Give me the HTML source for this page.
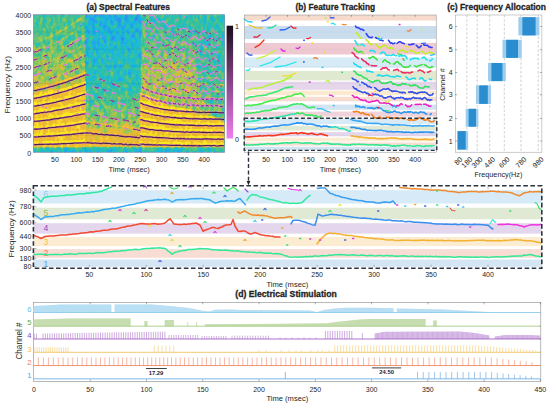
<!DOCTYPE html>
<html><head><meta charset="utf-8"><style>html,body{margin:0;padding:0;background:#fff;width:550px;height:407px;overflow:hidden}svg{display:block;font-family:"Liberation Sans",sans-serif}</style></head><body>
<svg width="550" height="407" viewBox="0 0 550 407" font-family="Liberation Sans, sans-serif">
<defs>
<filter id="spec" filterUnits="userSpaceOnUse" x="33.5" y="14.8" width="191.0" height="137.39999999999998" color-interpolation-filters="sRGB">
<feGaussianBlur in="SourceGraphic" stdDeviation="0.6" result="sg"/>
<feTurbulence type="fractalNoise" baseFrequency="0.28 0.17" numOctaves="3" seed="5" result="n"/>
<feColorMatrix in="n" type="matrix" values="1 0 0 0 0  1 0 0 0 0  1 0 0 0 0  0 0 0 0 1" result="ng"/>
<feComposite in="sg" in2="ng" operator="arithmetic" k1="0" k2="1" k3="0.42" k4="-0.21" result="sum"/>
<feComponentTransfer in="sum"><feFuncR type="table" tableValues="0.208 0.192 0.175 0.159 0.142 0.126 0.110 0.125 0.140 0.155 0.170 0.185 0.200 0.175 0.151 0.126 0.118 0.114 0.110 0.135 0.160 0.192 0.248 0.304 0.361 0.439 0.518 0.596 0.679 0.764 0.840 0.883 0.925 0.933 0.940 0.948 0.953 0.958 0.963 0.968 0.973"/><feFuncG type="table" tableValues="0.165 0.199 0.233 0.267 0.301 0.335 0.369 0.396 0.424 0.451 0.478 0.506 0.533 0.573 0.612 0.651 0.681 0.709 0.737 0.743 0.748 0.754 0.759 0.764 0.769 0.774 0.778 0.783 0.777 0.768 0.757 0.739 0.722 0.724 0.726 0.729 0.769 0.818 0.860 0.893 0.925"/><feFuncB type="table" tableValues="0.529 0.582 0.635 0.688 0.741 0.794 0.847 0.863 0.878 0.894 0.910 0.925 0.941 0.936 0.931 0.926 0.899 0.865 0.831 0.770 0.708 0.648 0.594 0.540 0.486 0.432 0.378 0.325 0.290 0.259 0.232 0.218 0.204 0.199 0.194 0.189 0.180 0.171 0.156 0.133 0.110"/></feComponentTransfer>
</filter>
<linearGradient id="gA" gradientUnits="userSpaceOnUse" x1="0" y1="14.8" x2="0" y2="152.2"><stop offset="0.001" stop-color="#8c8c8c"/><stop offset="0.183" stop-color="#949494"/><stop offset="0.293" stop-color="#a1a1a1"/><stop offset="0.402" stop-color="#ababab"/><stop offset="0.511" stop-color="#b2b2b2"/><stop offset="0.955" stop-color="#b8b8b8"/><stop offset="0.968" stop-color="#858585"/><stop offset="1.000" stop-color="#737373"/></linearGradient>
<linearGradient id="gB" gradientUnits="userSpaceOnUse" x1="0" y1="14.8" x2="0" y2="152.2"><stop offset="0.001" stop-color="#696969"/><stop offset="0.220" stop-color="#737373"/><stop offset="0.402" stop-color="#7d7d7d"/><stop offset="0.547" stop-color="#878787"/><stop offset="0.620" stop-color="#919191"/><stop offset="0.693" stop-color="#9c9c9c"/><stop offset="0.766" stop-color="#a8a8a8"/><stop offset="0.838" stop-color="#bdbdbd"/><stop offset="0.897" stop-color="#d1d1d1"/><stop offset="0.955" stop-color="#d6d6d6"/><stop offset="0.968" stop-color="#858585"/><stop offset="1.000" stop-color="#737373"/></linearGradient>
<linearGradient id="gC" gradientUnits="userSpaceOnUse" x1="0" y1="14.8" x2="0" y2="152.2"><stop offset="0.001" stop-color="#8a8a8a"/><stop offset="0.183" stop-color="#949494"/><stop offset="0.329" stop-color="#a1a1a1"/><stop offset="0.475" stop-color="#a8a8a8"/><stop offset="0.620" stop-color="#adadad"/><stop offset="0.955" stop-color="#b2b2b2"/><stop offset="0.968" stop-color="#858585"/><stop offset="1.000" stop-color="#737373"/></linearGradient>
<linearGradient id="cbar" x1="0" y1="0" x2="0" y2="1"><stop offset="0" stop-color="#1a0c1c"/><stop offset="1" stop-color="#f07ef0"/></linearGradient>
<clipPath id="clipYC"><polygon points="137.3,92 150,96 165,102 185,108 205,114 224.5,120 224.5,150 137.3,150"/></clipPath>
<clipPath id="clipA"><rect x="33.5" y="14.8" width="191.0" height="137.39999999999998"/></clipPath>
</defs>
<rect width="550" height="407" fill="#fff"/>
<g filter="url(#spec)">
<rect x="33.5" y="14.8" width="52.2" height="137.4" fill="url(#gA)"/>
<rect x="85.7" y="14.8" width="54.6" height="137.4" fill="url(#gB)"/>
<rect x="140.3" y="14.8" width="84.2" height="137.4" fill="url(#gC)"/>
<polygon points="33.5,93 45,91 60,88.5 75,85 85.7,81 85.7,147.2 33.5,147.2" fill="#dfdfdf"/>
<polygon points="140.3,94 150,98 165,104 185,110 205,116 224.5,122 224.5,147.2 140.3,147.2" fill="#dfdfdf"/>
<ellipse cx="168" cy="80" rx="26" ry="18" fill="#b8b8b8" opacity="0.6"/>
<polygon points="198,14.8 224.5,14.8 224.5,122 214,117 206,106 200,92 195,60" fill="#808080" opacity="0.7"/>
<polygon points="150,14.8 200,14.8 192,38 160,32" fill="#808080" opacity="0.5"/>
<polyline fill="none" stroke="#b2b2b2" stroke-width="1.8" stroke-linejoin="round" stroke-linecap="round" points="33.7,81.85 34.98,81.57 36.26,81.28 37.53,80.98 38.81,80.67 40.09,80.35 41.37,80.03 42.65,79.69 43.92,79.35 45.2,79 46.48,78.65 47.76,78.28 49.04,77.9 50.31,77.52 51.59,77.13 52.87,76.73 54.15,76.32 55.43,75.9 56.7,75.48 57.98,75.05 59.26,74.6 60.54,74.15 61.82,73.7 63.09,73.23 64.37,72.75 65.65,72.27 66.93,71.78 68.21,71.28 69.48,70.77 70.76,70.25 72.04,69.73 73.32,69.2 74.6,68.65 75.87,68.1 77.15,67.54 78.43,66.98 79.71,66.4 80.99,65.82 82.26,65.23 83.54,64.63 84.82,64.02" opacity="0.7"/>
<polyline fill="none" stroke="#b2b2b2" stroke-width="1.8" stroke-linejoin="round" stroke-linecap="round" points="33.7,74.14 34.98,73.83 36.26,73.51 37.53,73.17 38.81,72.83 40.09,72.48 41.37,72.12 42.65,71.75 43.92,71.37 45.2,70.98 46.48,70.58 47.76,70.18 49.04,69.76 50.31,69.33 51.59,68.9 52.87,68.46 54.15,68 55.43,67.54 56.7,67.07 57.98,66.59 59.26,66.09 60.54,65.59 61.82,65.09 63.09,64.57 64.37,64.04 65.65,63.5 66.93,62.96 68.21,62.4 69.48,61.83 70.76,61.26 72.04,60.68 73.32,60.08 74.6,59.48 75.87,58.87 77.15,58.25 78.43,57.62 79.71,56.98 80.99,56.33 82.26,55.67 83.54,55.01 84.82,54.33" opacity="0.7"/>
<polyline fill="none" stroke="#b2b2b2" stroke-width="1.8" stroke-linejoin="round" stroke-linecap="round" points="33.7,66.44 34.98,66.09 36.26,65.74 37.53,65.37 38.81,64.99 40.09,64.61 41.37,64.21 42.65,63.8 43.92,63.39 45.2,62.96 46.48,62.52 47.76,62.07 49.04,61.62 50.31,61.15 51.59,60.67 52.87,60.18 54.15,59.68 55.43,59.17 56.7,58.65 57.98,58.12 59.26,57.58 60.54,57.03 61.82,56.47 63.09,55.9 64.37,55.32 65.65,54.73 66.93,54.13 68.21,53.52 69.48,52.9 70.76,52.27 72.04,51.62 73.32,50.97 74.6,50.31 75.87,49.64 77.15,48.95 78.43,48.26 79.71,47.56 80.99,46.84 82.26,46.12 83.54,45.39 84.82,44.64" opacity="0.7"/>
<polyline fill="none" stroke="#b2b2b2" stroke-width="1.8" stroke-linejoin="round" stroke-linecap="round" points="33.7,58.73 34.98,58.36 36.26,57.97 37.53,57.57 38.81,57.16 40.09,56.74 41.37,56.3 42.65,55.86 43.92,55.4 45.2,54.94 46.48,54.46 47.76,53.97 49.04,53.47 50.31,52.96 51.59,52.44 52.87,51.91 54.15,51.36 55.43,50.81 56.7,50.24 57.98,49.66 59.26,49.07 60.54,48.47 61.82,47.86 63.09,47.24 64.37,46.61 65.65,45.96 66.93,45.31 68.21,44.64 69.48,43.96 70.76,43.27 72.04,42.57 73.32,41.86 74.6,41.14 75.87,40.4 77.15,39.66 78.43,38.9 79.71,38.14 80.99,37.36 82.26,36.57 83.54,35.77 84.82,34.96" opacity="0.7"/>
<polyline fill="none" stroke="#b2b2b2" stroke-width="1.8" stroke-linejoin="round" stroke-linecap="round" points="33.7,51.03 34.98,50.62 36.26,50.2 37.53,49.77 38.81,49.32 40.09,48.86 41.37,48.39 42.65,47.91 43.92,47.42 45.2,46.92 46.48,46.4 47.76,45.87 49.04,45.33 50.31,44.77 51.59,44.21 52.87,43.63 54.15,43.04 55.43,42.44 56.7,41.83 57.98,41.2 59.26,40.56 60.54,39.91 61.82,39.25 63.09,38.58 64.37,37.89 65.65,37.19 66.93,36.48 68.21,35.76 69.48,35.02 70.76,34.28 72.04,33.52 73.32,32.75 74.6,31.97 75.87,31.17 77.15,30.36 78.43,29.54 79.71,28.71 80.99,27.87 82.26,27.02 83.54,26.15 84.82,25.27" opacity="0.7"/>
<polyline fill="none" stroke="#b2b2b2" stroke-width="1.8" stroke-linejoin="round" stroke-linecap="round" points="33.7,43.32 34.98,42.88 36.26,42.43 37.53,41.96 38.81,41.48 40.09,40.99 41.37,40.49 42.65,39.97 43.92,39.44 45.2,38.89 46.48,38.34 47.76,37.77 49.04,37.18 50.31,36.59 51.59,35.98 52.87,35.36 54.15,34.72 55.43,34.07 56.7,33.41 57.98,32.74 59.26,32.05 60.54,31.35 61.82,30.64 63.09,29.91 64.37,29.17 65.65,28.42 66.93,27.66 68.21,26.88 69.48,26.09 70.76,25.28 72.04,24.47 73.32,23.64 74.6,22.79 75.87,21.94 77.15,21.07 78.43,20.19 79.71,19.29 80.99,18.38 82.26,17.46 83.54,16.53 84.82,15.58" opacity="0.7"/>
<polyline fill="none" stroke="#ffffff" stroke-width="2.3" stroke-linejoin="round" stroke-linecap="round" points="33.7,142.69 34.98,142.66 36.26,142.63 37.53,142.6 38.81,142.56 40.09,142.53 41.37,142.49 42.65,142.45 43.92,142.42 45.2,142.38 46.48,142.34 47.76,142.3 49.04,142.26 50.31,142.21 51.59,142.17 52.87,142.13 54.15,142.08 55.43,142.03 56.7,141.99 57.98,141.94 59.26,141.89 60.54,141.84 61.82,141.79 63.09,141.74 64.37,141.68 65.65,141.63 66.93,141.58 68.21,141.52 69.48,141.46 70.76,141.41 72.04,141.35 73.32,141.29 74.6,141.23 75.87,141.17 77.15,141.1 78.43,141.04 79.71,140.98 80.99,140.91 82.26,140.85 83.54,140.78 84.82,140.71" />
<polyline fill="none" stroke="#ffffff" stroke-width="2.3" stroke-linejoin="round" stroke-linecap="round" points="33.7,134.99 34.98,134.93 36.26,134.86 37.53,134.79 38.81,134.73 40.09,134.66 41.37,134.58 42.65,134.51 43.92,134.43 45.2,134.36 46.48,134.28 47.76,134.2 49.04,134.11 50.31,134.03 51.59,133.94 52.87,133.85 54.15,133.76 55.43,133.67 56.7,133.57 57.98,133.48 59.26,133.38 60.54,133.28 61.82,133.18 63.09,133.07 64.37,132.97 65.65,132.86 66.93,132.75 68.21,132.64 69.48,132.53 70.76,132.41 72.04,132.3 73.32,132.18 74.6,132.06 75.87,131.93 77.15,131.81 78.43,131.68 79.71,131.56 80.99,131.43 82.26,131.29 83.54,131.16 84.82,131.03" />
<polyline fill="none" stroke="#ffffff" stroke-width="2.3" stroke-linejoin="round" stroke-linecap="round" points="33.7,127.28 34.98,127.19 36.26,127.09 37.53,126.99 38.81,126.89 40.09,126.78 41.37,126.68 42.65,126.56 43.92,126.45 45.2,126.33 46.48,126.22 47.76,126.09 49.04,125.97 50.31,125.84 51.59,125.71 52.87,125.58 54.15,125.44 55.43,125.3 56.7,125.16 57.98,125.02 59.26,124.87 60.54,124.72 61.82,124.57 63.09,124.41 64.37,124.25 65.65,124.09 66.93,123.93 68.21,123.76 69.48,123.59 70.76,123.42 72.04,123.24 73.32,123.07 74.6,122.88 75.87,122.7 77.15,122.51 78.43,122.33 79.71,122.13 80.99,121.94 82.26,121.74 83.54,121.54 84.82,121.34" />
<polyline fill="none" stroke="#ffffff" stroke-width="2.3" stroke-linejoin="round" stroke-linecap="round" points="33.7,119.58 34.98,119.45 36.26,119.32 37.53,119.19 38.81,119.05 40.09,118.91 41.37,118.77 42.65,118.62 43.92,118.47 45.2,118.31 46.48,118.15 47.76,117.99 49.04,117.82 50.31,117.65 51.59,117.48 52.87,117.3 54.15,117.12 55.43,116.94 56.7,116.75 57.98,116.55 59.26,116.36 60.54,116.16 61.82,115.95 63.09,115.75 64.37,115.54 65.65,115.32 66.93,115.1 68.21,114.88 69.48,114.65 70.76,114.42 72.04,114.19 73.32,113.95 74.6,113.71 75.87,113.47 77.15,113.22 78.43,112.97 79.71,112.71 80.99,112.45 82.26,112.19 83.54,111.92 84.82,111.65" />
<polyline fill="none" stroke="#ffffff" stroke-width="2.3" stroke-linejoin="round" stroke-linecap="round" points="33.7,111.87 34.98,111.71 36.26,111.55 37.53,111.39 38.81,111.22 40.09,111.04 41.37,110.86 42.65,110.67 43.92,110.48 45.2,110.29 46.48,110.09 47.76,109.89 49.04,109.68 50.31,109.47 51.59,109.25 52.87,109.03 54.15,108.8 55.43,108.57 56.7,108.33 57.98,108.09 59.26,107.85 60.54,107.6 61.82,107.34 63.09,107.08 64.37,106.82 65.65,106.55 66.93,106.28 68.21,106 69.48,105.72 70.76,105.43 72.04,105.14 73.32,104.84 74.6,104.54 75.87,104.23 77.15,103.92 78.43,103.61 79.71,103.29 80.99,102.97 82.26,102.64 83.54,102.3 84.82,101.96" />
<polyline fill="none" stroke="#ffffff" stroke-width="2.3" stroke-linejoin="round" stroke-linecap="round" points="33.7,104.17 34.98,103.98 36.26,103.78 37.53,103.58 38.81,103.38 40.09,103.17 41.37,102.95 42.65,102.73 43.92,102.5 45.2,102.27 46.48,102.03 47.76,101.79 49.04,101.54 50.31,101.28 51.59,101.02 52.87,100.75 54.15,100.48 55.43,100.2 56.7,99.92 57.98,99.63 59.26,99.34 60.54,99.04 61.82,98.73 63.09,98.42 64.37,98.1 65.65,97.78 66.93,97.45 68.21,97.12 69.48,96.78 70.76,96.44 72.04,96.09 73.32,95.73 74.6,95.37 75.87,95 77.15,94.63 78.43,94.25 79.71,93.87 80.99,93.48 82.26,93.08 83.54,92.68 84.82,92.28" />
<polyline fill="none" stroke="#ffffff" stroke-width="2.3" stroke-linejoin="round" stroke-linecap="round" points="33.7,96.46 34.98,96.24 36.26,96.01 37.53,95.78 38.81,95.54 40.09,95.3 41.37,95.04 42.65,94.78 43.92,94.52 45.2,94.25 46.48,93.97 47.76,93.68 49.04,93.39 50.31,93.09 51.59,92.79 52.87,92.48 54.15,92.16 55.43,91.84 56.7,91.51 57.98,91.17 59.26,90.83 60.54,90.48 61.82,90.12 63.09,89.76 64.37,89.39 65.65,89.01 66.93,88.63 68.21,88.24 69.48,87.84 70.76,87.44 72.04,87.03 73.32,86.62 74.6,86.2 75.87,85.77 77.15,85.33 78.43,84.89 79.71,84.45 80.99,83.99 82.26,83.53 83.54,83.06 84.82,82.59" />
<polyline fill="none" stroke="#e6e6e6" stroke-width="1.8" stroke-linejoin="round" stroke-linecap="round" points="33.7,88.76 34.98,88.5 36.26,88.24 37.53,87.98 38.81,87.71 40.09,87.42 41.37,87.14 42.65,86.84 43.92,86.54 45.2,86.23 46.48,85.91 47.76,85.58 49.04,85.25 50.31,84.91 51.59,84.56 52.87,84.2 54.15,83.84 55.43,83.47 56.7,83.09 57.98,82.71 59.26,82.32 60.54,81.92 61.82,81.51 63.09,81.09 64.37,80.67 65.65,80.24 66.93,79.8 68.21,79.36 69.48,78.91 70.76,78.45 72.04,77.98 73.32,77.51 74.6,77.03 75.87,76.54 77.15,76.04 78.43,75.54 79.71,75.02 80.99,74.5 82.26,73.98 83.54,73.44 84.82,72.9" />
<polyline fill="none" stroke="#b8b8b8" stroke-width="1.6" stroke-linejoin="round" stroke-linecap="round" points="140.63,142.68 141.9,142.77 143.18,142.85 144.46,142.93 145.74,143.01 147.02,143.08 148.29,143.14 149.57,143.21 150.85,143.27 152.13,143.32 153.41,143.38 154.68,143.43 155.96,143.47 157.24,143.52 158.52,143.56 159.8,143.6 161.07,143.64 162.35,143.68 163.63,143.71 164.91,143.75 166.19,143.78 167.46,143.81 168.74,143.83 170.02,143.86 171.3,143.88 172.58,143.91 173.85,143.93 175.13,143.95 176.41,143.97 177.69,143.99 178.97,144.01 180.24,144.03 181.52,144.04 182.8,144.06 184.08,144.07 185.36,144.09 186.63,144.1 187.91,144.11 189.19,144.12 190.47,144.13 191.75,144.14 193.02,144.15 194.3,144.16 195.58,144.17 196.86,144.18 198.14,144.19 199.41,144.2 200.69,144.2 201.97,144.21 203.25,144.22 204.53,144.22 205.8,144.23 207.08,144.23 208.36,144.24 209.64,144.24 210.92,144.25 212.19,144.25 213.47,144.26 214.75,144.26 216.03,144.26 217.31,144.27 218.58,144.27 219.86,144.27 221.14,144.28 222.42,144.28 223.7,144.28" opacity="0.6"/>
<polyline fill="none" stroke="#ffffff" stroke-width="2.3" stroke-linejoin="round" stroke-linecap="round" points="140.63,142.18 141.9,142.27 143.18,142.35 144.46,142.43 145.74,142.51 147.02,142.58 148.29,142.64 149.57,142.71 150.85,142.77 152.13,142.82 153.41,142.88 154.68,142.93 155.96,142.97 157.24,143.02 158.52,143.06 159.8,143.1 161.07,143.14 162.35,143.18 163.63,143.21 164.91,143.25 166.19,143.28 167.46,143.31 168.74,143.33 170.02,143.36 171.3,143.38 172.58,143.41 173.85,143.43 175.13,143.45 176.41,143.47 177.69,143.49 178.97,143.51 180.24,143.53 181.52,143.54 182.8,143.56 184.08,143.57 185.36,143.59 186.63,143.6 187.91,143.61 189.19,143.62 190.47,143.63 191.75,143.64 193.02,143.65 194.3,143.66 195.58,143.67 196.86,143.68 198.14,143.69 199.41,143.7 200.69,143.7 201.97,143.71 203.25,143.72 204.53,143.72 205.8,143.73 207.08,143.73 208.36,143.74 209.64,143.74 210.92,143.75 212.19,143.75 213.47,143.76 214.75,143.76 216.03,143.76 217.31,143.77 218.58,143.77 219.86,143.77 221.14,143.78 222.42,143.78 223.7,143.78" clip-path="url(#clipYC)"/>
<polyline fill="none" stroke="#b8b8b8" stroke-width="1.6" stroke-linejoin="round" stroke-linecap="round" points="140.63,134.47 141.9,134.64 143.18,134.81 144.46,134.96 145.74,135.11 147.02,135.25 148.29,135.39 149.57,135.51 150.85,135.63 152.13,135.74 153.41,135.85 154.68,135.95 155.96,136.05 157.24,136.14 158.52,136.22 159.8,136.31 161.07,136.38 162.35,136.46 163.63,136.53 164.91,136.59 166.19,136.65 167.46,136.71 168.74,136.77 170.02,136.82 171.3,136.87 172.58,136.92 173.85,136.96 175.13,137 176.41,137.04 177.69,137.08 178.97,137.12 180.24,137.15 181.52,137.18 182.8,137.21 184.08,137.24 185.36,137.27 186.63,137.3 187.91,137.32 189.19,137.34 190.47,137.37 191.75,137.39 193.02,137.41 194.3,137.43 195.58,137.44 196.86,137.46 198.14,137.48 199.41,137.49 200.69,137.51 201.97,137.52 203.25,137.53 204.53,137.54 205.8,137.56 207.08,137.57 208.36,137.58 209.64,137.59 210.92,137.6 212.19,137.6 213.47,137.61 214.75,137.62 216.03,137.63 217.31,137.63 218.58,137.64 219.86,137.65 221.14,137.65 222.42,137.66 223.7,137.66" opacity="0.6"/>
<polyline fill="none" stroke="#ffffff" stroke-width="2.3" stroke-linejoin="round" stroke-linecap="round" points="140.63,133.97 141.9,134.14 143.18,134.31 144.46,134.46 145.74,134.61 147.02,134.75 148.29,134.89 149.57,135.01 150.85,135.13 152.13,135.24 153.41,135.35 154.68,135.45 155.96,135.55 157.24,135.64 158.52,135.72 159.8,135.81 161.07,135.88 162.35,135.96 163.63,136.03 164.91,136.09 166.19,136.15 167.46,136.21 168.74,136.27 170.02,136.32 171.3,136.37 172.58,136.42 173.85,136.46 175.13,136.5 176.41,136.54 177.69,136.58 178.97,136.62 180.24,136.65 181.52,136.68 182.8,136.71 184.08,136.74 185.36,136.77 186.63,136.8 187.91,136.82 189.19,136.84 190.47,136.87 191.75,136.89 193.02,136.91 194.3,136.93 195.58,136.94 196.86,136.96 198.14,136.98 199.41,136.99 200.69,137.01 201.97,137.02 203.25,137.03 204.53,137.04 205.8,137.06 207.08,137.07 208.36,137.08 209.64,137.09 210.92,137.1 212.19,137.1 213.47,137.11 214.75,137.12 216.03,137.13 217.31,137.13 218.58,137.14 219.86,137.15 221.14,137.15 222.42,137.16 223.7,137.16" clip-path="url(#clipYC)"/>
<polyline fill="none" stroke="#b8b8b8" stroke-width="1.6" stroke-linejoin="round" stroke-linecap="round" points="140.63,126.25 141.9,126.51 143.18,126.76 144.46,127 145.74,127.22 147.02,127.43 148.29,127.63 149.57,127.82 150.85,128 152.13,128.17 153.41,128.33 154.68,128.48 155.96,128.62 157.24,128.76 158.52,128.89 159.8,129.01 161.07,129.13 162.35,129.23 163.63,129.34 164.91,129.44 166.19,129.53 167.46,129.62 168.74,129.7 170.02,129.78 171.3,129.85 172.58,129.93 173.85,129.99 175.13,130.06 176.41,130.12 177.69,130.17 178.97,130.23 180.24,130.28 181.52,130.33 182.8,130.37 184.08,130.42 185.36,130.46 186.63,130.5 187.91,130.53 189.19,130.57 190.47,130.6 191.75,130.63 193.02,130.66 194.3,130.69 195.58,130.72 196.86,130.74 198.14,130.76 199.41,130.79 200.69,130.81 201.97,130.83 203.25,130.85 204.53,130.87 205.8,130.88 207.08,130.9 208.36,130.91 209.64,130.93 210.92,130.94 212.19,130.96 213.47,130.97 214.75,130.98 216.03,130.99 217.31,131 218.58,131.01 219.86,131.02 221.14,131.03 222.42,131.04 223.7,131.05" opacity="0.6"/>
<polyline fill="none" stroke="#ffffff" stroke-width="2.3" stroke-linejoin="round" stroke-linecap="round" points="140.63,125.75 141.9,126.01 143.18,126.26 144.46,126.5 145.74,126.72 147.02,126.93 148.29,127.13 149.57,127.32 150.85,127.5 152.13,127.67 153.41,127.83 154.68,127.98 155.96,128.12 157.24,128.26 158.52,128.39 159.8,128.51 161.07,128.63 162.35,128.73 163.63,128.84 164.91,128.94 166.19,129.03 167.46,129.12 168.74,129.2 170.02,129.28 171.3,129.35 172.58,129.43 173.85,129.49 175.13,129.56 176.41,129.62 177.69,129.67 178.97,129.73 180.24,129.78 181.52,129.83 182.8,129.87 184.08,129.92 185.36,129.96 186.63,130 187.91,130.03 189.19,130.07 190.47,130.1 191.75,130.13 193.02,130.16 194.3,130.19 195.58,130.22 196.86,130.24 198.14,130.26 199.41,130.29 200.69,130.31 201.97,130.33 203.25,130.35 204.53,130.37 205.8,130.38 207.08,130.4 208.36,130.41 209.64,130.43 210.92,130.44 212.19,130.46 213.47,130.47 214.75,130.48 216.03,130.49 217.31,130.5 218.58,130.51 219.86,130.52 221.14,130.53 222.42,130.54 223.7,130.55" clip-path="url(#clipYC)"/>
<polyline fill="none" stroke="#b8b8b8" stroke-width="1.6" stroke-linejoin="round" stroke-linecap="round" points="140.63,118.03 141.9,118.38 143.18,118.71 144.46,119.03 145.74,119.32 147.02,119.6 148.29,119.87 149.57,120.12 150.85,120.36 152.13,120.59 153.41,120.8 154.68,121 155.96,121.2 157.24,121.38 158.52,121.55 159.8,121.71 161.07,121.87 162.35,122.01 163.63,122.15 164.91,122.28 166.19,122.41 167.46,122.52 168.74,122.63 170.02,122.74 171.3,122.84 172.58,122.93 173.85,123.02 175.13,123.11 176.41,123.19 177.69,123.26 178.97,123.34 180.24,123.4 181.52,123.47 182.8,123.53 184.08,123.59 185.36,123.64 186.63,123.69 187.91,123.74 189.19,123.79 190.47,123.83 191.75,123.88 193.02,123.91 194.3,123.95 195.58,123.99 196.86,124.02 198.14,124.05 199.41,124.08 200.69,124.11 201.97,124.14 203.25,124.16 204.53,124.19 205.8,124.21 207.08,124.23 208.36,124.25 209.64,124.27 210.92,124.29 212.19,124.31 213.47,124.32 214.75,124.34 216.03,124.35 217.31,124.37 218.58,124.38 219.86,124.39 221.14,124.41 222.42,124.42 223.7,124.43" opacity="0.6"/>
<polyline fill="none" stroke="#ffffff" stroke-width="2.3" stroke-linejoin="round" stroke-linecap="round" points="140.63,117.53 141.9,117.88 143.18,118.21 144.46,118.53 145.74,118.82 147.02,119.1 148.29,119.37 149.57,119.62 150.85,119.86 152.13,120.09 153.41,120.3 154.68,120.5 155.96,120.7 157.24,120.88 158.52,121.05 159.8,121.21 161.07,121.37 162.35,121.51 163.63,121.65 164.91,121.78 166.19,121.91 167.46,122.02 168.74,122.13 170.02,122.24 171.3,122.34 172.58,122.43 173.85,122.52 175.13,122.61 176.41,122.69 177.69,122.76 178.97,122.84 180.24,122.9 181.52,122.97 182.8,123.03 184.08,123.09 185.36,123.14 186.63,123.19 187.91,123.24 189.19,123.29 190.47,123.33 191.75,123.38 193.02,123.41 194.3,123.45 195.58,123.49 196.86,123.52 198.14,123.55 199.41,123.58 200.69,123.61 201.97,123.64 203.25,123.66 204.53,123.69 205.8,123.71 207.08,123.73 208.36,123.75 209.64,123.77 210.92,123.79 212.19,123.81 213.47,123.82 214.75,123.84 216.03,123.85 217.31,123.87 218.58,123.88 219.86,123.89 221.14,123.91 222.42,123.92 223.7,123.93" clip-path="url(#clipYC)"/>
<polyline fill="none" stroke="#b8b8b8" stroke-width="1.6" stroke-linejoin="round" stroke-linecap="round" points="140.63,109.82 141.9,110.25 143.18,110.67 144.46,111.06 145.74,111.43 147.02,111.78 148.29,112.11 149.57,112.43 150.85,112.73 152.13,113.01 153.41,113.28 154.68,113.53 155.96,113.77 157.24,114 158.52,114.21 159.8,114.42 161.07,114.61 162.35,114.79 163.63,114.96 164.91,115.13 166.19,115.28 167.46,115.43 168.74,115.57 170.02,115.7 171.3,115.82 172.58,115.94 173.85,116.05 175.13,116.16 176.41,116.26 177.69,116.36 178.97,116.45 180.24,116.53 181.52,116.61 182.8,116.69 184.08,116.76 185.36,116.83 186.63,116.89 187.91,116.95 189.19,117.01 190.47,117.07 191.75,117.12 193.02,117.17 194.3,117.22 195.58,117.26 196.86,117.3 198.14,117.34 199.41,117.38 200.69,117.41 201.97,117.45 203.25,117.48 204.53,117.51 205.8,117.54 207.08,117.57 208.36,117.59 209.64,117.62 210.92,117.64 212.19,117.66 213.47,117.68 214.75,117.7 216.03,117.72 217.31,117.74 218.58,117.75 219.86,117.77 221.14,117.78 222.42,117.8 223.7,117.81" opacity="0.6"/>
<polyline fill="none" stroke="#ffffff" stroke-width="2.3" stroke-linejoin="round" stroke-linecap="round" points="140.63,109.32 141.9,109.75 143.18,110.17 144.46,110.56 145.74,110.93 147.02,111.28 148.29,111.61 149.57,111.93 150.85,112.23 152.13,112.51 153.41,112.78 154.68,113.03 155.96,113.27 157.24,113.5 158.52,113.71 159.8,113.92 161.07,114.11 162.35,114.29 163.63,114.46 164.91,114.63 166.19,114.78 167.46,114.93 168.74,115.07 170.02,115.2 171.3,115.32 172.58,115.44 173.85,115.55 175.13,115.66 176.41,115.76 177.69,115.86 178.97,115.95 180.24,116.03 181.52,116.11 182.8,116.19 184.08,116.26 185.36,116.33 186.63,116.39 187.91,116.45 189.19,116.51 190.47,116.57 191.75,116.62 193.02,116.67 194.3,116.72 195.58,116.76 196.86,116.8 198.14,116.84 199.41,116.88 200.69,116.91 201.97,116.95 203.25,116.98 204.53,117.01 205.8,117.04 207.08,117.07 208.36,117.09 209.64,117.12 210.92,117.14 212.19,117.16 213.47,117.18 214.75,117.2 216.03,117.22 217.31,117.24 218.58,117.25 219.86,117.27 221.14,117.28 222.42,117.3 223.7,117.31" clip-path="url(#clipYC)"/>
<polyline fill="none" stroke="#b8b8b8" stroke-width="1.6" stroke-linejoin="round" stroke-linecap="round" points="140.63,101.6 141.9,102.12 143.18,102.62 144.46,103.09 145.74,103.54 147.02,103.96 148.29,104.36 149.57,104.73 150.85,105.09 152.13,105.43 153.41,105.75 154.68,106.06 155.96,106.34 157.24,106.62 158.52,106.87 159.8,107.12 161.07,107.35 162.35,107.57 163.63,107.78 164.91,107.97 166.19,108.16 167.46,108.34 168.74,108.5 170.02,108.66 171.3,108.81 172.58,108.95 173.85,109.09 175.13,109.21 176.41,109.33 177.69,109.45 178.97,109.55 180.24,109.66 181.52,109.75 182.8,109.84 184.08,109.93 185.36,110.01 186.63,110.09 187.91,110.16 189.19,110.23 190.47,110.3 191.75,110.36 193.02,110.42 194.3,110.48 195.58,110.53 196.86,110.58 198.14,110.63 199.41,110.67 200.69,110.72 201.97,110.76 203.25,110.8 204.53,110.83 205.8,110.87 207.08,110.9 208.36,110.93 209.64,110.96 210.92,110.99 212.19,111.01 213.47,111.04 214.75,111.06 216.03,111.08 217.31,111.1 218.58,111.12 219.86,111.14 221.14,111.16 222.42,111.18 223.7,111.19" opacity="0.6"/>
<polyline fill="none" stroke="#ffffff" stroke-width="2.3" stroke-linejoin="round" stroke-linecap="round" points="140.63,101.1 141.9,101.62 143.18,102.12 144.46,102.59 145.74,103.04 147.02,103.46 148.29,103.86 149.57,104.23 150.85,104.59 152.13,104.93 153.41,105.25 154.68,105.56 155.96,105.84 157.24,106.12 158.52,106.37 159.8,106.62 161.07,106.85 162.35,107.07 163.63,107.28 164.91,107.47 166.19,107.66 167.46,107.84 168.74,108 170.02,108.16 171.3,108.31 172.58,108.45 173.85,108.59 175.13,108.71 176.41,108.83 177.69,108.95 178.97,109.05 180.24,109.16 181.52,109.25 182.8,109.34 184.08,109.43 185.36,109.51 186.63,109.59 187.91,109.66 189.19,109.73 190.47,109.8 191.75,109.86 193.02,109.92 194.3,109.98 195.58,110.03 196.86,110.08 198.14,110.13 199.41,110.17 200.69,110.22 201.97,110.26 203.25,110.3 204.53,110.33 205.8,110.37 207.08,110.4 208.36,110.43 209.64,110.46 210.92,110.49 212.19,110.51 213.47,110.54 214.75,110.56 216.03,110.58 217.31,110.6 218.58,110.62 219.86,110.64 221.14,110.66 222.42,110.68 223.7,110.69" clip-path="url(#clipYC)"/>
<polyline fill="none" stroke="#b8b8b8" stroke-width="1.6" stroke-linejoin="round" stroke-linecap="round" points="140.63,93.38 141.9,93.99 143.18,94.57 144.46,95.12 145.74,95.64 147.02,96.13 148.29,96.6 149.57,97.04 150.85,97.46 152.13,97.85 153.41,98.23 154.68,98.58 155.96,98.92 157.24,99.24 158.52,99.54 159.8,99.82 161.07,100.09 162.35,100.35 163.63,100.59 164.91,100.82 166.19,101.04 167.46,101.24 168.74,101.44 170.02,101.62 171.3,101.79 172.58,101.96 173.85,102.12 175.13,102.26 176.41,102.4 177.69,102.54 178.97,102.66 180.24,102.78 181.52,102.9 182.8,103 184.08,103.1 185.36,103.2 186.63,103.29 187.91,103.38 189.19,103.46 190.47,103.53 191.75,103.61 193.02,103.68 194.3,103.74 195.58,103.8 196.86,103.86 198.14,103.92 199.41,103.97 200.69,104.02 201.97,104.07 203.25,104.11 204.53,104.15 205.8,104.19 207.08,104.23 208.36,104.27 209.64,104.3 210.92,104.33 212.19,104.36 213.47,104.39 214.75,104.42 216.03,104.45 217.31,104.47 218.58,104.49 219.86,104.52 221.14,104.54 222.42,104.56 223.7,104.57" opacity="0.6"/>
<polyline fill="none" stroke="#ffffff" stroke-width="2.3" stroke-linejoin="round" stroke-linecap="round" points="140.63,92.88 141.9,93.49 143.18,94.07 144.46,94.62 145.74,95.14 147.02,95.63 148.29,96.1 149.57,96.54 150.85,96.96 152.13,97.35 153.41,97.73 154.68,98.08 155.96,98.42 157.24,98.74 158.52,99.04 159.8,99.32 161.07,99.59 162.35,99.85 163.63,100.09 164.91,100.32 166.19,100.54 167.46,100.74 168.74,100.94 170.02,101.12 171.3,101.29 172.58,101.46 173.85,101.62 175.13,101.76 176.41,101.9 177.69,102.04 178.97,102.16 180.24,102.28 181.52,102.4 182.8,102.5 184.08,102.6 185.36,102.7 186.63,102.79 187.91,102.88 189.19,102.96 190.47,103.03 191.75,103.11 193.02,103.18 194.3,103.24 195.58,103.3 196.86,103.36 198.14,103.42 199.41,103.47 200.69,103.52 201.97,103.57 203.25,103.61 204.53,103.65 205.8,103.69 207.08,103.73 208.36,103.77 209.64,103.8 210.92,103.83 212.19,103.86 213.47,103.89 214.75,103.92 216.03,103.95 217.31,103.97 218.58,103.99 219.86,104.02 221.14,104.04 222.42,104.06 223.7,104.07" clip-path="url(#clipYC)"/>
<polyline fill="none" stroke="#b8b8b8" stroke-width="1.6" stroke-linejoin="round" stroke-linecap="round" points="140.63,85.17 141.9,85.86 143.18,86.53 144.46,87.15 145.74,87.75 147.02,88.31 148.29,88.84 149.57,89.35 150.85,89.82 152.13,90.27 153.41,90.7 154.68,91.11 155.96,91.49 157.24,91.86 158.52,92.2 159.8,92.52 161.07,92.83 162.35,93.13 163.63,93.4 164.91,93.66 166.19,93.91 167.46,94.15 168.74,94.37 170.02,94.58 171.3,94.78 172.58,94.97 173.85,95.15 175.13,95.32 176.41,95.48 177.69,95.63 178.97,95.77 180.24,95.91 181.52,96.04 182.8,96.16 184.08,96.28 185.36,96.38 186.63,96.49 187.91,96.59 189.19,96.68 190.47,96.77 191.75,96.85 193.02,96.93 194.3,97 195.58,97.07 196.86,97.14 198.14,97.21 199.41,97.27 200.69,97.32 201.97,97.38 203.25,97.43 204.53,97.48 205.8,97.52 207.08,97.56 208.36,97.61 209.64,97.64 210.92,97.68 212.19,97.72 213.47,97.75 214.75,97.78 216.03,97.81 217.31,97.84 218.58,97.86 219.86,97.89 221.14,97.91 222.42,97.94 223.7,97.96" opacity="0.6"/>
<polyline fill="none" stroke="#ffffff" stroke-width="2.3" stroke-linejoin="round" stroke-linecap="round" points="140.63,84.67 141.9,85.36 143.18,86.03 144.46,86.65 145.74,87.25 147.02,87.81 148.29,88.34 149.57,88.85 150.85,89.32 152.13,89.77 153.41,90.2 154.68,90.61 155.96,90.99 157.24,91.36 158.52,91.7 159.8,92.02 161.07,92.33 162.35,92.63 163.63,92.9 164.91,93.16 166.19,93.41 167.46,93.65 168.74,93.87 170.02,94.08 171.3,94.28 172.58,94.47 173.85,94.65 175.13,94.82 176.41,94.98 177.69,95.13 178.97,95.27 180.24,95.41 181.52,95.54 182.8,95.66 184.08,95.78 185.36,95.88 186.63,95.99 187.91,96.09 189.19,96.18 190.47,96.27 191.75,96.35 193.02,96.43 194.3,96.5 195.58,96.57 196.86,96.64 198.14,96.71 199.41,96.77 200.69,96.82 201.97,96.88 203.25,96.93 204.53,96.98 205.8,97.02 207.08,97.06 208.36,97.11 209.64,97.14 210.92,97.18 212.19,97.22 213.47,97.25 214.75,97.28 216.03,97.31 217.31,97.34 218.58,97.36 219.86,97.39 221.14,97.41 222.42,97.44 223.7,97.46" clip-path="url(#clipYC)"/>
<polyline fill="none" stroke="#b8b8b8" stroke-width="1.6" stroke-linejoin="round" stroke-linecap="round" points="140.63,76.95 141.9,77.73 143.18,78.48 144.46,79.19 145.74,79.85 147.02,80.49 148.29,81.08 149.57,81.65 150.85,82.19 152.13,82.7 153.41,83.18 154.68,83.63 155.96,84.07 157.24,84.47 158.52,84.86 159.8,85.23 161.07,85.58 162.35,85.9 163.63,86.22 164.91,86.51 166.19,86.79 167.46,87.05 168.74,87.3 170.02,87.54 171.3,87.76 172.58,87.98 173.85,88.18 175.13,88.37 176.41,88.55 177.69,88.72 178.97,88.88 180.24,89.03 181.52,89.18 182.8,89.32 184.08,89.45 185.36,89.57 186.63,89.69 187.91,89.8 189.19,89.9 190.47,90 191.75,90.09 193.02,90.18 194.3,90.27 195.58,90.35 196.86,90.42 198.14,90.49 199.41,90.56 200.69,90.63 201.97,90.69 203.25,90.74 204.53,90.8 205.8,90.85 207.08,90.9 208.36,90.94 209.64,90.99 210.92,91.03 212.19,91.07 213.47,91.1 214.75,91.14 216.03,91.17 217.31,91.2 218.58,91.23 219.86,91.26 221.14,91.29 222.42,91.31 223.7,91.34" opacity="0.6"/>
<polyline fill="none" stroke="#ffffff" stroke-width="2.3" stroke-linejoin="round" stroke-linecap="round" points="140.63,76.45 141.9,77.23 143.18,77.98 144.46,78.69 145.74,79.35 147.02,79.99 148.29,80.58 149.57,81.15 150.85,81.69 152.13,82.2 153.41,82.68 154.68,83.13 155.96,83.57 157.24,83.97 158.52,84.36 159.8,84.73 161.07,85.08 162.35,85.4 163.63,85.72 164.91,86.01 166.19,86.29 167.46,86.55 168.74,86.8 170.02,87.04 171.3,87.26 172.58,87.48 173.85,87.68 175.13,87.87 176.41,88.05 177.69,88.22 178.97,88.38 180.24,88.53 181.52,88.68 182.8,88.82 184.08,88.95 185.36,89.07 186.63,89.19 187.91,89.3 189.19,89.4 190.47,89.5 191.75,89.59 193.02,89.68 194.3,89.77 195.58,89.85 196.86,89.92 198.14,89.99 199.41,90.06 200.69,90.13 201.97,90.19 203.25,90.24 204.53,90.3 205.8,90.35 207.08,90.4 208.36,90.44 209.64,90.49 210.92,90.53 212.19,90.57 213.47,90.6 214.75,90.64 216.03,90.67 217.31,90.7 218.58,90.73 219.86,90.76 221.14,90.79 222.42,90.81 223.7,90.84" clip-path="url(#clipYC)"/>
<polyline fill="none" stroke="#b8b8b8" stroke-width="1.6" stroke-linejoin="round" stroke-linecap="round" points="140.63,68.73 141.9,69.61 143.18,70.43 144.46,71.22 145.74,71.96 147.02,72.66 148.29,73.33 149.57,73.96 150.85,74.55 152.13,75.12 153.41,75.65 154.68,76.16 155.96,76.64 157.24,77.09 158.52,77.52 159.8,77.93 161.07,78.32 162.35,78.68 163.63,79.03 164.91,79.36 166.19,79.67 167.46,79.96 168.74,80.24 170.02,80.5 171.3,80.75 172.58,80.99 173.85,81.21 175.13,81.42 176.41,81.62 177.69,81.81 178.97,81.99 180.24,82.16 181.52,82.32 182.8,82.47 184.08,82.62 185.36,82.76 186.63,82.89 187.91,83.01 189.19,83.12 190.47,83.23 191.75,83.34 193.02,83.44 194.3,83.53 195.58,83.62 196.86,83.7 198.14,83.78 199.41,83.86 200.69,83.93 201.97,84 203.25,84.06 204.53,84.12 205.8,84.18 207.08,84.23 208.36,84.28 209.64,84.33 210.92,84.38 212.19,84.42 213.47,84.46 214.75,84.5 216.03,84.54 217.31,84.57 218.58,84.61 219.86,84.64 221.14,84.67 222.42,84.69 223.7,84.72" opacity="0.6"/>
<polyline fill="none" stroke="#ffffff" stroke-width="2.3" stroke-linejoin="round" stroke-linecap="round" points="140.63,68.23 141.9,69.11 143.18,69.93 144.46,70.72 145.74,71.46 147.02,72.16 148.29,72.83 149.57,73.46 150.85,74.05 152.13,74.62 153.41,75.15 154.68,75.66 155.96,76.14 157.24,76.59 158.52,77.02 159.8,77.43 161.07,77.82 162.35,78.18 163.63,78.53 164.91,78.86 166.19,79.17 167.46,79.46 168.74,79.74 170.02,80 171.3,80.25 172.58,80.49 173.85,80.71 175.13,80.92 176.41,81.12 177.69,81.31 178.97,81.49 180.24,81.66 181.52,81.82 182.8,81.97 184.08,82.12 185.36,82.26 186.63,82.39 187.91,82.51 189.19,82.62 190.47,82.73 191.75,82.84 193.02,82.94 194.3,83.03 195.58,83.12 196.86,83.2 198.14,83.28 199.41,83.36 200.69,83.43 201.97,83.5 203.25,83.56 204.53,83.62 205.8,83.68 207.08,83.73 208.36,83.78 209.64,83.83 210.92,83.88 212.19,83.92 213.47,83.96 214.75,84 216.03,84.04 217.31,84.07 218.58,84.11 219.86,84.14 221.14,84.17 222.42,84.19 223.7,84.22" clip-path="url(#clipYC)"/>
<polyline fill="none" stroke="#b8b8b8" stroke-width="1.6" stroke-linejoin="round" stroke-linecap="round" points="140.63,60.51 141.9,61.48 143.18,62.39 144.46,63.25 145.74,64.06 147.02,64.84 148.29,65.57 149.57,66.26 150.85,66.92 152.13,67.54 153.41,68.13 154.68,68.69 155.96,69.21 157.24,69.71 158.52,70.19 159.8,70.63 161.07,71.06 162.35,71.46 163.63,71.84 164.91,72.2 166.19,72.54 167.46,72.86 168.74,73.17 170.02,73.46 171.3,73.73 172.58,73.99 173.85,74.24 175.13,74.47 176.41,74.69 177.69,74.9 178.97,75.1 180.24,75.29 181.52,75.46 182.8,75.63 184.08,75.79 185.36,75.94 186.63,76.08 187.91,76.22 189.19,76.35 190.47,76.47 191.75,76.58 193.02,76.69 194.3,76.79 195.58,76.89 196.86,76.98 198.14,77.07 199.41,77.15 200.69,77.23 201.97,77.3 203.25,77.37 204.53,77.44 205.8,77.5 207.08,77.56 208.36,77.62 209.64,77.67 210.92,77.72 212.19,77.77 213.47,77.82 214.75,77.86 216.03,77.9 217.31,77.94 218.58,77.98 219.86,78.01 221.14,78.04 222.42,78.07 223.7,78.1" opacity="0.6"/>
<polyline fill="none" stroke="#ffffff" stroke-width="2.3" stroke-linejoin="round" stroke-linecap="round" points="140.63,60.01 141.9,60.98 143.18,61.89 144.46,62.75 145.74,63.56 147.02,64.34 148.29,65.07 149.57,65.76 150.85,66.42 152.13,67.04 153.41,67.63 154.68,68.19 155.96,68.71 157.24,69.21 158.52,69.69 159.8,70.13 161.07,70.56 162.35,70.96 163.63,71.34 164.91,71.7 166.19,72.04 167.46,72.36 168.74,72.67 170.02,72.96 171.3,73.23 172.58,73.49 173.85,73.74 175.13,73.97 176.41,74.19 177.69,74.4 178.97,74.6 180.24,74.79 181.52,74.96 182.8,75.13 184.08,75.29 185.36,75.44 186.63,75.58 187.91,75.72 189.19,75.85 190.47,75.97 191.75,76.08 193.02,76.19 194.3,76.29 195.58,76.39 196.86,76.48 198.14,76.57 199.41,76.65 200.69,76.73 201.97,76.8 203.25,76.87 204.53,76.94 205.8,77 207.08,77.06 208.36,77.12 209.64,77.17 210.92,77.22 212.19,77.27 213.47,77.32 214.75,77.36 216.03,77.4 217.31,77.44 218.58,77.48 219.86,77.51 221.14,77.54 222.42,77.57 223.7,77.6" clip-path="url(#clipYC)"/>
<polyline fill="none" stroke="#e6e6e6" stroke-width="1.4" stroke-linejoin="round" stroke-linecap="round" points="85.67,141.16 86.95,141.22 88.23,141.28 89.51,141.34 90.78,141.39 92.06,141.45 93.34,141.51 94.62,141.56 95.9,141.62 97.17,141.68 98.45,141.73 99.73,141.79 101.01,141.85 102.29,141.9 103.56,141.96 104.84,142.02 106.12,142.07 107.4,142.13 108.68,142.19 109.95,142.24 111.23,142.3 112.51,142.36 113.79,142.41 115.07,142.47 116.34,142.53 117.62,142.58 118.9,142.64 120.18,142.7 121.46,142.75 122.73,142.81 124.01,142.87 125.29,142.92 126.57,142.98 127.85,143.04 129.12,143.09 130.4,143.15 131.68,143.21 132.96,143.26 134.24,143.32 135.51,143.38 136.79,143.44 138.07,143.49 139.35,143.55" opacity="0.6"/>
<polyline fill="none" stroke="#e6e6e6" stroke-width="1.4" stroke-linejoin="round" stroke-linecap="round" points="85.67,131.43 86.95,131.54 88.23,131.66 89.51,131.77 90.78,131.88 92.06,132 93.34,132.11 94.62,132.22 95.9,132.34 97.17,132.45 98.45,132.56 99.73,132.68 101.01,132.79 102.29,132.91 103.56,133.02 104.84,133.13 106.12,133.25 107.4,133.36 108.68,133.47 109.95,133.59 111.23,133.7 112.51,133.81 113.79,133.93 115.07,134.04 116.34,134.15 117.62,134.27 118.9,134.38 120.18,134.49 121.46,134.61 122.73,134.72 124.01,134.84 125.29,134.95 126.57,135.06 127.85,135.18 129.12,135.29 130.4,135.4 131.68,135.52 132.96,135.63 134.24,135.74 135.51,135.86 136.79,135.97 138.07,136.08 139.35,136.2" opacity="0.6"/>
<polyline fill="none" stroke="#e6e6e6" stroke-width="1.4" stroke-linejoin="round" stroke-linecap="round" points="85.67,121.69 86.95,121.86 88.23,122.03 89.51,122.21 90.78,122.38 92.06,122.55 93.34,122.72 94.62,122.89 95.9,123.06 97.17,123.23 98.45,123.4 99.73,123.57 101.01,123.74 102.29,123.91 103.56,124.08 104.84,124.25 106.12,124.42 107.4,124.59 108.68,124.76 109.95,124.93 111.23,125.1 112.51,125.27 113.79,125.44 115.07,125.61 116.34,125.78 117.62,125.95 118.9,126.12 120.18,126.29 121.46,126.46 122.73,126.63 124.01,126.8 125.29,126.97 126.57,127.14 127.85,127.31 129.12,127.48 130.4,127.65 131.68,127.82 132.96,127.99 134.24,128.17 135.51,128.34 136.79,128.51 138.07,128.68 139.35,128.85" opacity="0.6"/>
</g>
<g clip-path="url(#clipA)">
<polyline fill="none" stroke="#e27ae0" stroke-width="1.9" stroke-linejoin="round" stroke-linecap="round" points="34.13,144.74 35.4,144.48 36.68,144.63 37.96,144.53 39.24,144.37 40.52,144.52 41.79,144.29 43.07,144.42 44.35,144.23 45.63,144.2 46.91,144.29 48.18,144.41 49.46,144.09 50.74,144.09 52.02,144.21 53.3,144.29 54.57,144.1 55.85,143.98 57.13,144.16 58.41,143.74 59.69,144.02 60.96,143.74 62.24,143.63 63.52,143.57 64.8,143.59 66.08,143.74 67.35,143.43 68.63,143.53 69.91,143.5 71.19,143.34 72.47,143.35 73.74,143.09 75.02,143.03 76.3,143.03 77.58,143.16 78.86,142.99 80.13,142.88 81.41,142.93 82.69,142.81 83.97,142.68 85.25,142.81" opacity="0.75"/>
<polyline fill="none" stroke="#4a1e52" stroke-width="1.1" stroke-linejoin="round" stroke-linecap="round" points="34.13,144.74 35.4,144.48 36.68,144.63 37.96,144.53 39.24,144.37 40.52,144.52 41.79,144.29 43.07,144.42 44.35,144.23 45.63,144.2 46.91,144.29 48.18,144.41 49.46,144.09 50.74,144.09 52.02,144.21 53.3,144.29 54.57,144.1 55.85,143.98 57.13,144.16 58.41,143.74 59.69,144.02 60.96,143.74 62.24,143.63 63.52,143.57 64.8,143.59 66.08,143.74 67.35,143.43 68.63,143.53 69.91,143.5 71.19,143.34 72.47,143.35 73.74,143.09 75.02,143.03 76.3,143.03 77.58,143.16 78.86,142.99 80.13,142.88 81.41,142.93 82.69,142.81 83.97,142.68 85.25,142.81" />
<polyline fill="none" stroke="#e27ae0" stroke-width="1.9" stroke-linejoin="round" stroke-linecap="round" points="34.13,137 35.4,136.91 36.68,136.99 37.96,136.86 39.24,136.62 40.52,136.82 41.79,136.41 43.07,136.45 44.35,136.51 45.63,136.19 46.91,136.25 48.18,135.98 49.46,136.15 50.74,136.1 52.02,135.94 53.3,135.97 54.57,135.66 55.85,135.71 57.13,135.58 58.41,135.48 59.69,135.33 60.96,135.38 62.24,135.32 63.52,135.03 64.8,135 66.08,134.65 67.35,134.79 68.63,134.66 69.91,134.69 71.19,134.5 72.47,134.17 73.74,134.09 75.02,134.08 76.3,133.7 77.58,133.75 78.86,133.51 80.13,133.36 81.41,133.21 82.69,133.36 83.97,132.97 85.25,132.88" opacity="0.75"/>
<polyline fill="none" stroke="#4a1e52" stroke-width="1.1" stroke-linejoin="round" stroke-linecap="round" points="34.13,137 35.4,136.91 36.68,136.99 37.96,136.86 39.24,136.62 40.52,136.82 41.79,136.41 43.07,136.45 44.35,136.51 45.63,136.19 46.91,136.25 48.18,135.98 49.46,136.15 50.74,136.1 52.02,135.94 53.3,135.97 54.57,135.66 55.85,135.71 57.13,135.58 58.41,135.48 59.69,135.33 60.96,135.38 62.24,135.32 63.52,135.03 64.8,135 66.08,134.65 67.35,134.79 68.63,134.66 69.91,134.69 71.19,134.5 72.47,134.17 73.74,134.09 75.02,134.08 76.3,133.7 77.58,133.75 78.86,133.51 80.13,133.36 81.41,133.21 82.69,133.36 83.97,132.97 85.25,132.88" />
<polyline fill="none" stroke="#e27ae0" stroke-width="1.9" stroke-linejoin="round" stroke-linecap="round" points="34.13,129.08 35.4,129.14 36.68,129.08 37.96,129.11 39.24,128.98 40.52,128.89 41.79,128.55 43.07,128.49 44.35,128.36 45.63,128.45 46.91,128.36 48.18,127.91 49.46,127.8 50.74,127.69 52.02,127.56 53.3,127.53 54.57,127.43 55.85,127.16 57.13,126.91 58.41,126.93 59.69,126.77 60.96,126.69 62.24,126.7 63.52,126.43 64.8,126.2 66.08,126.08 67.35,125.94 68.63,125.53 69.91,125.69 71.19,125.47 72.47,125.33 73.74,125.12 75.02,124.78 76.3,124.6 77.58,124.29 78.86,124.32 80.13,123.89 81.41,123.7 82.69,123.56 83.97,123.34 85.25,123.21" opacity="0.75"/>
<polyline fill="none" stroke="#4a1e52" stroke-width="1.1" stroke-linejoin="round" stroke-linecap="round" points="34.13,129.08 35.4,129.14 36.68,129.08 37.96,129.11 39.24,128.98 40.52,128.89 41.79,128.55 43.07,128.49 44.35,128.36 45.63,128.45 46.91,128.36 48.18,127.91 49.46,127.8 50.74,127.69 52.02,127.56 53.3,127.53 54.57,127.43 55.85,127.16 57.13,126.91 58.41,126.93 59.69,126.77 60.96,126.69 62.24,126.7 63.52,126.43 64.8,126.2 66.08,126.08 67.35,125.94 68.63,125.53 69.91,125.69 71.19,125.47 72.47,125.33 73.74,125.12 75.02,124.78 76.3,124.6 77.58,124.29 78.86,124.32 80.13,123.89 81.41,123.7 82.69,123.56 83.97,123.34 85.25,123.21" />
<polyline fill="none" stroke="#e27ae0" stroke-width="1.9" stroke-linejoin="round" stroke-linecap="round" points="34.13,121.4 35.4,121.25 36.68,121.22 37.96,120.95 39.24,121.16 40.52,120.91 41.79,120.58 43.07,120.47 44.35,120.36 45.63,120.21 46.91,119.95 48.18,120.08 49.46,119.96 50.74,119.58 52.02,119.41 53.3,119.08 54.57,118.9 55.85,118.81 57.13,118.59 58.41,118.62 59.69,118.16 60.96,117.9 62.24,118.07 63.52,117.69 64.8,117.32 66.08,117.27 67.35,116.84 68.63,116.82 69.91,116.77 71.19,116.49 72.47,116.19 73.74,115.78 75.02,115.58 76.3,115.25 77.58,115.24 78.86,114.9 80.13,114.74 81.41,114.3 82.69,113.99 83.97,113.96 85.25,113.75" opacity="0.75"/>
<polyline fill="none" stroke="#4a1e52" stroke-width="1.1" stroke-linejoin="round" stroke-linecap="round" points="34.13,121.4 35.4,121.25 36.68,121.22 37.96,120.95 39.24,121.16 40.52,120.91 41.79,120.58 43.07,120.47 44.35,120.36 45.63,120.21 46.91,119.95 48.18,120.08 49.46,119.96 50.74,119.58 52.02,119.41 53.3,119.08 54.57,118.9 55.85,118.81 57.13,118.59 58.41,118.62 59.69,118.16 60.96,117.9 62.24,118.07 63.52,117.69 64.8,117.32 66.08,117.27 67.35,116.84 68.63,116.82 69.91,116.77 71.19,116.49 72.47,116.19 73.74,115.78 75.02,115.58 76.3,115.25 77.58,115.24 78.86,114.9 80.13,114.74 81.41,114.3 82.69,113.99 83.97,113.96 85.25,113.75" />
<polyline fill="none" stroke="#e27ae0" stroke-width="1.9" stroke-linejoin="round" stroke-linecap="round" points="34.13,113.95 35.4,113.76 36.68,113.39 37.96,113.34 39.24,113.1 40.52,112.79 41.79,112.61 43.07,112.52 44.35,112.32 45.63,112.3 46.91,112.21 48.18,111.8 49.46,111.78 50.74,111.59 52.02,111.36 53.3,110.9 54.57,110.61 55.85,110.38 57.13,110.13 58.41,109.89 59.69,109.81 60.96,109.67 62.24,109.39 63.52,108.99 64.8,108.79 66.08,108.58 67.35,108.02 68.63,107.97 69.91,107.79 71.19,107.45 72.47,107.14 73.74,106.73 75.02,106.31 76.3,106.25 77.58,105.75 78.86,105.62 80.13,105.37 81.41,104.81 82.69,104.49 83.97,104.37 85.25,103.94" opacity="0.75"/>
<polyline fill="none" stroke="#4a1e52" stroke-width="1.1" stroke-linejoin="round" stroke-linecap="round" points="34.13,113.95 35.4,113.76 36.68,113.39 37.96,113.34 39.24,113.1 40.52,112.79 41.79,112.61 43.07,112.52 44.35,112.32 45.63,112.3 46.91,112.21 48.18,111.8 49.46,111.78 50.74,111.59 52.02,111.36 53.3,110.9 54.57,110.61 55.85,110.38 57.13,110.13 58.41,109.89 59.69,109.81 60.96,109.67 62.24,109.39 63.52,108.99 64.8,108.79 66.08,108.58 67.35,108.02 68.63,107.97 69.91,107.79 71.19,107.45 72.47,107.14 73.74,106.73 75.02,106.31 76.3,106.25 77.58,105.75 78.86,105.62 80.13,105.37 81.41,104.81 82.69,104.49 83.97,104.37 85.25,103.94" />
<polyline fill="none" stroke="#e27ae0" stroke-width="1.9" stroke-linejoin="round" stroke-linecap="round" points="34.13,105.96 35.4,106.08 36.68,105.84 37.96,105.37 39.24,105.44 40.52,105.29 41.79,104.94 43.07,104.59 44.35,104.44 45.63,104.04 46.91,103.76 48.18,103.89 49.46,103.51 50.74,103.2 52.02,103.1 53.3,102.64 54.57,102.54 55.85,102.24 57.13,101.71 58.41,101.43 59.69,101.15 60.96,100.83 62.24,100.66 63.52,100.22 64.8,99.96 66.08,99.52 67.35,99.51 68.63,98.95 69.91,98.65 71.19,98.35 72.47,98.13 73.74,97.58 75.02,97.41 76.3,96.88 77.58,96.52 78.86,96.13 80.13,95.55 81.41,95.32 82.69,94.82 83.97,94.35 85.25,94.26" opacity="0.75"/>
<polyline fill="none" stroke="#4a1e52" stroke-width="1.1" stroke-linejoin="round" stroke-linecap="round" points="34.13,105.96 35.4,106.08 36.68,105.84 37.96,105.37 39.24,105.44 40.52,105.29 41.79,104.94 43.07,104.59 44.35,104.44 45.63,104.04 46.91,103.76 48.18,103.89 49.46,103.51 50.74,103.2 52.02,103.1 53.3,102.64 54.57,102.54 55.85,102.24 57.13,101.71 58.41,101.43 59.69,101.15 60.96,100.83 62.24,100.66 63.52,100.22 64.8,99.96 66.08,99.52 67.35,99.51 68.63,98.95 69.91,98.65 71.19,98.35 72.47,98.13 73.74,97.58 75.02,97.41 76.3,96.88 77.58,96.52 78.86,96.13 80.13,95.55 81.41,95.32 82.69,94.82 83.97,94.35 85.25,94.26" />
<polyline fill="none" stroke="#e27ae0" stroke-width="1.9" stroke-linejoin="round" stroke-linecap="round" points="34.13,98.48 35.4,98.19 36.68,97.87 37.96,97.71 39.24,97.48 40.52,97.33 41.79,96.8 43.07,96.72 44.35,96.33 45.63,96.07 46.91,95.98 48.18,95.59 49.46,95.32 50.74,95.1 52.02,94.85 53.3,94.35 54.57,94.1 55.85,93.73 57.13,93.4 58.41,93.13 59.69,92.69 60.96,92.37 62.24,91.99 63.52,91.81 64.8,91.34 66.08,91.03 67.35,90.68 68.63,90.01 69.91,89.73 71.19,89.48 72.47,89.03 73.74,88.33 75.02,87.9 76.3,87.6 77.58,87.02 78.86,86.64 80.13,86.12 81.41,85.91 82.69,85.49 83.97,85.07 85.25,84.29" opacity="0.75"/>
<polyline fill="none" stroke="#4a1e52" stroke-width="1.1" stroke-linejoin="round" stroke-linecap="round" points="34.13,98.48 35.4,98.19 36.68,97.87 37.96,97.71 39.24,97.48 40.52,97.33 41.79,96.8 43.07,96.72 44.35,96.33 45.63,96.07 46.91,95.98 48.18,95.59 49.46,95.32 50.74,95.1 52.02,94.85 53.3,94.35 54.57,94.1 55.85,93.73 57.13,93.4 58.41,93.13 59.69,92.69 60.96,92.37 62.24,91.99 63.52,91.81 64.8,91.34 66.08,91.03 67.35,90.68 68.63,90.01 69.91,89.73 71.19,89.48 72.47,89.03 73.74,88.33 75.02,87.9 76.3,87.6 77.58,87.02 78.86,86.64 80.13,86.12 81.41,85.91 82.69,85.49 83.97,85.07 85.25,84.29" />
<polyline fill="none" stroke="#e27ae0" stroke-width="1.9" stroke-linejoin="round" stroke-linecap="round" points="34.13,90.53 35.4,90.57 36.68,90.34 37.96,89.78 39.24,89.79 40.52,89.29 41.79,89.03 43.07,88.94 44.35,88.57 45.63,87.98 46.91,87.77 48.18,87.48 49.46,87.07 50.74,86.67 52.02,86.37 53.3,86.17 54.57,85.53 55.85,85.37 57.13,84.94 58.41,84.39 59.69,84.12 60.96,83.83 62.24,83.38 63.52,82.78 64.8,82.72 66.08,82.21 67.35,81.85 68.63,81.05 69.91,80.66 71.19,80.11 72.47,79.94 73.74,79.26 75.02,78.71 76.3,78.34 77.58,78.04 78.86,77.49 80.13,76.76 81.41,76.19 82.69,75.97 83.97,75.29 85.25,74.8" opacity="0.75"/>
<polyline fill="none" stroke="#4a1e52" stroke-width="1.1" stroke-linejoin="round" stroke-linecap="round" points="34.13,90.53 35.4,90.57 36.68,90.34 37.96,89.78 39.24,89.79 40.52,89.29 41.79,89.03 43.07,88.94 44.35,88.57 45.63,87.98 46.91,87.77 48.18,87.48 49.46,87.07 50.74,86.67 52.02,86.37 53.3,86.17 54.57,85.53 55.85,85.37 57.13,84.94 58.41,84.39 59.69,84.12 60.96,83.83 62.24,83.38 63.52,82.78 64.8,82.72 66.08,82.21 67.35,81.85 68.63,81.05 69.91,80.66 71.19,80.11 72.47,79.94 73.74,79.26 75.02,78.71 76.3,78.34 77.58,78.04 78.86,77.49 80.13,76.76 81.41,76.19 82.69,75.97 83.97,75.29 85.25,74.8" />
<polyline fill="none" stroke="#e27ae0" stroke-width="1.9" stroke-linejoin="round" stroke-linecap="round" points="140.63,144.3 141.9,144.23 143.18,144.1 144.46,144.69 145.74,144.59 147.02,144.76 148.29,144.39 149.57,144.92 150.85,144.51 152.13,145.04 153.41,144.85 154.68,144.83 155.96,145.01 157.24,145.28 158.52,144.92 159.8,144.88 161.07,145.16 162.35,145.02 163.63,144.98 164.91,145.04 166.19,145.01 167.46,145.13 168.74,145.22 170.02,145.24 171.3,145.54 172.58,145.28 173.85,145.43 175.13,145.26 176.41,145.38 177.69,145.2 178.97,145.36 180.24,145.24 181.52,145.68 182.8,145.59 184.08,145.39 185.36,145.57 186.63,145.86 187.91,145.37 189.19,145.81 190.47,145.59 191.75,145.64 193.02,145.85 194.3,145.6 195.58,145.68 196.86,145.79 198.14,145.98 199.41,145.6 200.69,145.9 201.97,145.83 203.25,145.8 204.53,145.66 205.8,145.64 207.08,145.47 208.36,145.52 209.64,145.49 210.92,145.89 212.19,145.61 213.47,145.55 214.75,145.51 216.03,145.97 217.31,145.99 218.58,145.87 219.86,145.64 221.14,145.62 222.42,145.66 223.7,145.76" opacity="0.75"/>
<polyline fill="none" stroke="#4a1e52" stroke-width="1.1" stroke-linejoin="round" stroke-linecap="round" points="140.63,144.3 141.9,144.23 143.18,144.1 144.46,144.69 145.74,144.59 147.02,144.76 148.29,144.39 149.57,144.92 150.85,144.51 152.13,145.04 153.41,144.85 154.68,144.83 155.96,145.01 157.24,145.28 158.52,144.92 159.8,144.88 161.07,145.16 162.35,145.02 163.63,144.98 164.91,145.04 166.19,145.01 167.46,145.13 168.74,145.22 170.02,145.24 171.3,145.54 172.58,145.28 173.85,145.43 175.13,145.26 176.41,145.38 177.69,145.2 178.97,145.36 180.24,145.24 181.52,145.68 182.8,145.59 184.08,145.39 185.36,145.57 186.63,145.86 187.91,145.37 189.19,145.81 190.47,145.59 191.75,145.64 193.02,145.85 194.3,145.6 195.58,145.68 196.86,145.79 198.14,145.98 199.41,145.6 200.69,145.9 201.97,145.83 203.25,145.8 204.53,145.66 205.8,145.64 207.08,145.47 208.36,145.52 209.64,145.49 210.92,145.89 212.19,145.61 213.47,145.55 214.75,145.51 216.03,145.97 217.31,145.99 218.58,145.87 219.86,145.64 221.14,145.62 222.42,145.66 223.7,145.76" />
<polyline fill="none" stroke="#e27ae0" stroke-width="1.9" stroke-linejoin="round" stroke-linecap="round" points="140.63,135.82 141.9,136.42 143.18,136.59 144.46,136.49 145.74,136.46 147.02,137.03 148.29,136.77 149.57,136.93 150.85,136.83 152.13,137.17 153.41,137.34 154.68,137.45 155.96,137.37 157.24,137.64 158.52,137.43 159.8,137.66 161.07,137.64 162.35,137.9 163.63,137.75 164.91,137.8 166.19,138.04 167.46,138.05 168.74,138.32 170.02,138.34 171.3,138.52 172.58,138.51 173.85,138.59 175.13,138.73 176.41,138.48 177.69,138.48 178.97,138.91 180.24,138.44 181.52,138.82 182.8,138.8 184.08,138.47 185.36,138.97 186.63,139.03 187.91,138.9 189.19,138.99 190.47,139.05 191.75,138.67 193.02,138.92 194.3,138.93 195.58,139.14 196.86,139.14 198.14,139.17 199.41,139.04 200.69,139.24 201.97,139.13 203.25,139.15 204.53,138.88 205.8,138.77 207.08,138.85 208.36,138.99 209.64,138.85 210.92,139.3 212.19,139.14 213.47,139.19 214.75,139.2 216.03,139.24 217.31,139.13 218.58,138.84 219.86,139.33 221.14,139.3 222.42,139.16 223.7,139.19" opacity="0.75"/>
<polyline fill="none" stroke="#4a1e52" stroke-width="1.1" stroke-linejoin="round" stroke-linecap="round" points="140.63,135.82 141.9,136.42 143.18,136.59 144.46,136.49 145.74,136.46 147.02,137.03 148.29,136.77 149.57,136.93 150.85,136.83 152.13,137.17 153.41,137.34 154.68,137.45 155.96,137.37 157.24,137.64 158.52,137.43 159.8,137.66 161.07,137.64 162.35,137.9 163.63,137.75 164.91,137.8 166.19,138.04 167.46,138.05 168.74,138.32 170.02,138.34 171.3,138.52 172.58,138.51 173.85,138.59 175.13,138.73 176.41,138.48 177.69,138.48 178.97,138.91 180.24,138.44 181.52,138.82 182.8,138.8 184.08,138.47 185.36,138.97 186.63,139.03 187.91,138.9 189.19,138.99 190.47,139.05 191.75,138.67 193.02,138.92 194.3,138.93 195.58,139.14 196.86,139.14 198.14,139.17 199.41,139.04 200.69,139.24 201.97,139.13 203.25,139.15 204.53,138.88 205.8,138.77 207.08,138.85 208.36,138.99 209.64,138.85 210.92,139.3 212.19,139.14 213.47,139.19 214.75,139.2 216.03,139.24 217.31,139.13 218.58,138.84 219.86,139.33 221.14,139.3 222.42,139.16 223.7,139.19" />
<polyline fill="none" stroke="#e27ae0" stroke-width="1.9" stroke-linejoin="round" stroke-linecap="round" points="140.63,127.89 141.9,127.86 143.18,128 144.46,128.35 145.74,128.86 147.02,128.75 148.29,129.27 149.57,129.6 150.85,129.49 152.13,129.6 153.41,129.81 154.68,130.09 155.96,130.28 157.24,130.33 158.52,130.47 159.8,130.26 161.07,130.41 162.35,130.59 163.63,130.98 164.91,130.82 166.19,131.07 167.46,130.83 168.74,130.94 170.02,131.14 171.3,131.46 172.58,131.54 173.85,131.6 175.13,131.43 176.41,131.63 177.69,131.65 178.97,131.71 180.24,131.55 181.52,132.06 182.8,131.69 184.08,132.2 185.36,132.22 186.63,131.71 187.91,132.01 189.19,132.26 190.47,132.38 191.75,132.1 193.02,132.02 194.3,132.01 195.58,132.48 196.86,132.07 198.14,132.31 199.41,132.07 200.69,132.32 201.97,132.6 203.25,132.13 204.53,132.56 205.8,132.39 207.08,132.63 208.36,132.54 209.64,132.27 210.92,132.68 212.19,132.45 213.47,132.18 214.75,132.18 216.03,132.49 217.31,132.47 218.58,132.39 219.86,132.31 221.14,132.44 222.42,132.43 223.7,132.75" opacity="0.75"/>
<polyline fill="none" stroke="#4a1e52" stroke-width="1.1" stroke-linejoin="round" stroke-linecap="round" points="140.63,127.89 141.9,127.86 143.18,128 144.46,128.35 145.74,128.86 147.02,128.75 148.29,129.27 149.57,129.6 150.85,129.49 152.13,129.6 153.41,129.81 154.68,130.09 155.96,130.28 157.24,130.33 158.52,130.47 159.8,130.26 161.07,130.41 162.35,130.59 163.63,130.98 164.91,130.82 166.19,131.07 167.46,130.83 168.74,130.94 170.02,131.14 171.3,131.46 172.58,131.54 173.85,131.6 175.13,131.43 176.41,131.63 177.69,131.65 178.97,131.71 180.24,131.55 181.52,132.06 182.8,131.69 184.08,132.2 185.36,132.22 186.63,131.71 187.91,132.01 189.19,132.26 190.47,132.38 191.75,132.1 193.02,132.02 194.3,132.01 195.58,132.48 196.86,132.07 198.14,132.31 199.41,132.07 200.69,132.32 201.97,132.6 203.25,132.13 204.53,132.56 205.8,132.39 207.08,132.63 208.36,132.54 209.64,132.27 210.92,132.68 212.19,132.45 213.47,132.18 214.75,132.18 216.03,132.49 217.31,132.47 218.58,132.39 219.86,132.31 221.14,132.44 222.42,132.43 223.7,132.75" />
<polyline fill="none" stroke="#e27ae0" stroke-width="1.9" stroke-linejoin="round" stroke-linecap="round" points="140.63,119.74 141.9,119.65 143.18,120.47 144.46,120.65 145.74,121.06 147.02,120.98 148.29,121.29 149.57,121.56 150.85,122.16 152.13,122.14 153.41,122.22 154.68,122.46 155.96,122.56 157.24,122.61 158.52,122.81 159.8,123.41 161.07,123.24 162.35,123.77 163.63,123.5 164.91,123.64 166.19,123.91 167.46,123.84 168.74,124.06 170.02,124.51 171.3,124.57 172.58,124.62 173.85,124.6 175.13,124.86 176.41,124.95 177.69,124.79 178.97,124.97 180.24,124.63 181.52,125.11 182.8,125 184.08,125.24 185.36,125.23 186.63,125.07 187.91,124.97 189.19,125.55 190.47,125.11 191.75,125.36 193.02,125.32 194.3,125.33 195.58,125.63 196.86,125.81 198.14,125.41 199.41,125.68 200.69,125.49 201.97,125.67 203.25,125.6 204.53,125.49 205.8,125.51 207.08,125.56 208.36,126 209.64,125.77 210.92,125.62 212.19,126.05 213.47,126.12 214.75,125.81 216.03,125.64 217.31,125.68 218.58,125.64 219.86,125.8 221.14,125.66 222.42,125.76 223.7,125.78" opacity="0.75"/>
<polyline fill="none" stroke="#4a1e52" stroke-width="1.1" stroke-linejoin="round" stroke-linecap="round" points="140.63,119.74 141.9,119.65 143.18,120.47 144.46,120.65 145.74,121.06 147.02,120.98 148.29,121.29 149.57,121.56 150.85,122.16 152.13,122.14 153.41,122.22 154.68,122.46 155.96,122.56 157.24,122.61 158.52,122.81 159.8,123.41 161.07,123.24 162.35,123.77 163.63,123.5 164.91,123.64 166.19,123.91 167.46,123.84 168.74,124.06 170.02,124.51 171.3,124.57 172.58,124.62 173.85,124.6 175.13,124.86 176.41,124.95 177.69,124.79 178.97,124.97 180.24,124.63 181.52,125.11 182.8,125 184.08,125.24 185.36,125.23 186.63,125.07 187.91,124.97 189.19,125.55 190.47,125.11 191.75,125.36 193.02,125.32 194.3,125.33 195.58,125.63 196.86,125.81 198.14,125.41 199.41,125.68 200.69,125.49 201.97,125.67 203.25,125.6 204.53,125.49 205.8,125.51 207.08,125.56 208.36,126 209.64,125.77 210.92,125.62 212.19,126.05 213.47,126.12 214.75,125.81 216.03,125.64 217.31,125.68 218.58,125.64 219.86,125.8 221.14,125.66 222.42,125.76 223.7,125.78" />
<polyline fill="none" stroke="#e27ae0" stroke-width="1.9" stroke-linejoin="round" stroke-linecap="round" points="140.63,111.47 141.9,111.7 143.18,112.11 144.46,112.57 145.74,112.86 147.02,113.18 148.29,113.35 149.57,113.79 150.85,114.51 152.13,114.28 153.41,114.78 154.68,115.11 155.96,115.49 157.24,115.33 158.52,115.57 159.8,115.76 161.07,116.05 162.35,116.26 163.63,116.74 164.91,116.84 166.19,117.01 167.46,116.64 168.74,116.79 170.02,117.33 171.3,117.56 172.58,117.43 173.85,117.61 175.13,117.36 176.41,117.7 177.69,118.11 178.97,118.14 180.24,118.24 181.52,118.39 182.8,118.04 184.08,118.02 185.36,118.12 186.63,118.41 187.91,118.56 189.19,118.78 190.47,118.7 191.75,118.71 193.02,118.83 194.3,118.69 195.58,118.79 196.86,118.52 198.14,119.01 199.41,118.72 200.69,119.17 201.97,119.03 203.25,118.86 204.53,118.79 205.8,118.89 207.08,119.15 208.36,119.21 209.64,118.88 210.92,118.88 212.19,119.17 213.47,119.23 214.75,119.13 216.03,119.05 217.31,119.3 218.58,118.96 219.86,119.15 221.14,119.26 222.42,119.57 223.7,119.4" opacity="0.75"/>
<polyline fill="none" stroke="#4a1e52" stroke-width="1.1" stroke-linejoin="round" stroke-linecap="round" points="140.63,111.47 141.9,111.7 143.18,112.11 144.46,112.57 145.74,112.86 147.02,113.18 148.29,113.35 149.57,113.79 150.85,114.51 152.13,114.28 153.41,114.78 154.68,115.11 155.96,115.49 157.24,115.33 158.52,115.57 159.8,115.76 161.07,116.05 162.35,116.26 163.63,116.74 164.91,116.84 166.19,117.01 167.46,116.64 168.74,116.79 170.02,117.33 171.3,117.56 172.58,117.43 173.85,117.61 175.13,117.36 176.41,117.7 177.69,118.11 178.97,118.14 180.24,118.24 181.52,118.39 182.8,118.04 184.08,118.02 185.36,118.12 186.63,118.41 187.91,118.56 189.19,118.78 190.47,118.7 191.75,118.71 193.02,118.83 194.3,118.69 195.58,118.79 196.86,118.52 198.14,119.01 199.41,118.72 200.69,119.17 201.97,119.03 203.25,118.86 204.53,118.79 205.8,118.89 207.08,119.15 208.36,119.21 209.64,118.88 210.92,118.88 212.19,119.17 213.47,119.23 214.75,119.13 216.03,119.05 217.31,119.3 218.58,118.96 219.86,119.15 221.14,119.26 222.42,119.57 223.7,119.4" />
<polyline fill="none" stroke="#e27ae0" stroke-width="1.9" stroke-linejoin="round" stroke-linecap="round" points="140.63,102.94 141.9,103.47 143.18,104.4 144.46,104.71 145.74,104.92 147.02,105.17 148.29,105.86 149.57,106.34 150.85,106.54 152.13,106.79 153.41,107.35 154.68,107.81 155.96,107.68 157.24,107.84 158.52,108.28 159.8,108.57 161.07,108.96 162.35,108.89 163.63,109.45 164.91,109.62 166.19,109.66 167.46,109.66 168.74,110.28 170.02,110.05 171.3,110.5 172.58,110.29 173.85,110.42 175.13,110.87 176.41,110.71 177.69,111.22 178.97,111.05 180.24,110.97 181.52,111.09 182.8,111.29 184.08,111.53 185.36,111.78 186.63,111.38 187.91,111.6 189.19,111.56 190.47,112.08 191.75,111.65 193.02,111.65 194.3,111.71 195.58,111.97 196.86,112.32 198.14,112.36 199.41,112.31 200.69,112.52 201.97,112.52 203.25,112.19 204.53,112.14 205.8,112.63 207.08,112.55 208.36,112.15 209.64,112.56 210.92,112.41 212.19,112.44 213.47,112.44 214.75,112.36 216.03,112.28 217.31,112.47 218.58,112.53 219.86,112.92 221.14,112.43 222.42,112.96 223.7,112.52" opacity="0.75"/>
<polyline fill="none" stroke="#4a1e52" stroke-width="1.1" stroke-linejoin="round" stroke-linecap="round" points="140.63,102.94 141.9,103.47 143.18,104.4 144.46,104.71 145.74,104.92 147.02,105.17 148.29,105.86 149.57,106.34 150.85,106.54 152.13,106.79 153.41,107.35 154.68,107.81 155.96,107.68 157.24,107.84 158.52,108.28 159.8,108.57 161.07,108.96 162.35,108.89 163.63,109.45 164.91,109.62 166.19,109.66 167.46,109.66 168.74,110.28 170.02,110.05 171.3,110.5 172.58,110.29 173.85,110.42 175.13,110.87 176.41,110.71 177.69,111.22 178.97,111.05 180.24,110.97 181.52,111.09 182.8,111.29 184.08,111.53 185.36,111.78 186.63,111.38 187.91,111.6 189.19,111.56 190.47,112.08 191.75,111.65 193.02,111.65 194.3,111.71 195.58,111.97 196.86,112.32 198.14,112.36 199.41,112.31 200.69,112.52 201.97,112.52 203.25,112.19 204.53,112.14 205.8,112.63 207.08,112.55 208.36,112.15 209.64,112.56 210.92,112.41 212.19,112.44 213.47,112.44 214.75,112.36 216.03,112.28 217.31,112.47 218.58,112.53 219.86,112.92 221.14,112.43 222.42,112.96 223.7,112.52" />
<polyline fill="none" stroke="#e27ae0" stroke-width="1.8" stroke-linejoin="round" stroke-linecap="round" points="142.33,96.08 143.61,96.18 144.89,96.26 146.16,97.28 147.44,97.64 148.72,98.75 150,98.31 151.28,98.93 152.55,99.96 153.83,99.28 155.11,100.09 156.39,100.9 157.67,101.16 158.94,100.58 160.22,100.86 161.5,101.15 162.78,102.43 164.06,101.88 165.33,102.69 166.61,103.08 167.89,102.61 169.17,102.73 170.45,103.73 171.72,103.49 173,103.23 174.28,103.93 175.56,103.59 176.84,103.68 178.11,103.48 179.39,104.51 180.67,104.82 181.95,104.59 183.23,105.07 184.5,104.06 185.78,104.41 187.06,104.79 188.34,105.45 189.62,105.53 190.89,104.92 192.17,104.83 193.45,105.11 194.73,105.25 196.01,105.84 197.28,105 198.56,105.8 199.84,105.77 201.12,105.92 202.4,105.91 203.67,105.75 204.95,105.46 206.23,105.49 207.51,105.58 208.79,106.12 210.06,105.31 211.34,105.48 212.62,106.18 213.9,105.6 215.18,105.41 216.45,105.39 217.73,106.04 219.01,105.79 220.29,106.6 221.57,106.5 222.84,106.65" />
<polyline fill="none" stroke="#4a1e52" stroke-width="0.9" stroke-linejoin="round" stroke-linecap="round" points="142.33,96.08 143.61,96.18 144.89,96.26 146.16,97.28 147.44,97.64 148.72,98.75 150,98.31 151.28,98.93 152.55,99.96 153.83,99.28 155.11,100.09 156.39,100.9 157.67,101.16 158.94,100.58 160.22,100.86 161.5,101.15 162.78,102.43 164.06,101.88 165.33,102.69 166.61,103.08 167.89,102.61 169.17,102.73 170.45,103.73 171.72,103.49 173,103.23 174.28,103.93 175.56,103.59 176.84,103.68 178.11,103.48 179.39,104.51 180.67,104.82 181.95,104.59 183.23,105.07 184.5,104.06 185.78,104.41 187.06,104.79 188.34,105.45 189.62,105.53 190.89,104.92 192.17,104.83 193.45,105.11 194.73,105.25 196.01,105.84 197.28,105 198.56,105.8 199.84,105.77 201.12,105.92 202.4,105.91 203.67,105.75 204.95,105.46 206.23,105.49 207.51,105.58 208.79,106.12 210.06,105.31 211.34,105.48 212.62,106.18 213.9,105.6 215.18,105.41 216.45,105.39 217.73,106.04 219.01,105.79 220.29,106.6 221.57,106.5 222.84,106.65" stroke-dasharray="2,3"/>
<polyline fill="none" stroke="#e27ae0" stroke-width="1.8" stroke-linejoin="round" stroke-linecap="round" points="142.33,87.1 143.61,88.24 144.89,89.11 146.16,89.37 147.44,89.67 148.72,90.41 150,91.15 151.28,91.69 152.55,92.22 153.83,92.76 155.11,92.94 156.39,92.66 157.67,93.88 158.94,93.56 160.22,94.21 161.5,94.28 162.78,95.01 164.06,94.63 165.33,94.95 166.61,95.19 167.89,95.31 169.17,96.4 170.45,96.24 171.72,96.14 173,96.4 174.28,97.3 175.56,96.88 176.84,96.71 178.11,97.55 179.39,97.5 180.67,98.04 181.95,97.1 183.23,97.67 184.5,98.2 185.78,98.33 187.06,98.52 188.34,97.57 189.62,97.96 190.89,97.84 192.17,98 193.45,99.02 194.73,98.63 196.01,99.11 197.28,98.51 198.56,99.17 199.84,98.72 201.12,98.55 202.4,99.23 203.67,99.48 204.95,98.52 206.23,99.15 207.51,99.22 208.79,98.78 210.06,99 211.34,98.76 212.62,98.87 213.9,98.97 215.18,99.41 216.45,99.5 217.73,98.99 219.01,98.79 220.29,99.19 221.57,99.63 222.84,99.06" />
<polyline fill="none" stroke="#4a1e52" stroke-width="0.9" stroke-linejoin="round" stroke-linecap="round" points="142.33,87.1 143.61,88.24 144.89,89.11 146.16,89.37 147.44,89.67 148.72,90.41 150,91.15 151.28,91.69 152.55,92.22 153.83,92.76 155.11,92.94 156.39,92.66 157.67,93.88 158.94,93.56 160.22,94.21 161.5,94.28 162.78,95.01 164.06,94.63 165.33,94.95 166.61,95.19 167.89,95.31 169.17,96.4 170.45,96.24 171.72,96.14 173,96.4 174.28,97.3 175.56,96.88 176.84,96.71 178.11,97.55 179.39,97.5 180.67,98.04 181.95,97.1 183.23,97.67 184.5,98.2 185.78,98.33 187.06,98.52 188.34,97.57 189.62,97.96 190.89,97.84 192.17,98 193.45,99.02 194.73,98.63 196.01,99.11 197.28,98.51 198.56,99.17 199.84,98.72 201.12,98.55 202.4,99.23 203.67,99.48 204.95,98.52 206.23,99.15 207.51,99.22 208.79,98.78 210.06,99 211.34,98.76 212.62,98.87 213.9,98.97 215.18,99.41 216.45,99.5 217.73,98.99 219.01,98.79 220.29,99.19 221.57,99.63 222.84,99.06" stroke-dasharray="2,3"/>
<polyline fill="none" stroke="#e27ae0" stroke-width="1.2" stroke-linejoin="round" stroke-linecap="round" points="143.23,78.26 143.92,78.78 144.6,79.73 145.28,80.72 145.96,81.73 146.64,82.2 147.32,83.02 148.01,83.99 148.69,84.04" />
<polyline fill="none" stroke="#4a1e52" stroke-width="0.8" stroke-linejoin="round" stroke-linecap="round" points="143.23,78.26 143.92,78.78 144.6,79.73 145.28,80.72 145.96,81.73 146.64,82.2 147.32,83.02 148.01,83.99 148.69,84.04" stroke-dasharray="1.5,2.5"/>
<polyline fill="none" stroke="#e27ae0" stroke-width="1.2" stroke-linejoin="round" stroke-linecap="round" points="149.37,83.98 150.05,83.82 150.73,84.05 151.41,83.23 152.09,83.21 152.78,83" />
<polyline fill="none" stroke="#4a1e52" stroke-width="0.8" stroke-linejoin="round" stroke-linecap="round" points="149.37,83.98 150.05,83.82 150.73,84.05 151.41,83.23 152.09,83.21 152.78,83" stroke-dasharray="1.5,2.5"/>
<polyline fill="none" stroke="#e27ae0" stroke-width="1.2" stroke-linejoin="round" stroke-linecap="round" points="153.46,83.24 154.14,84.03 154.82,84.78 155.5,85.06 156.18,85.74 156.87,86.92 157.55,87.09 158.23,87.28" />
<polyline fill="none" stroke="#e27ae0" stroke-width="1.2" stroke-linejoin="round" stroke-linecap="round" points="158.91,88.09 159.59,87.56 160.27,87.56" />
<polyline fill="none" stroke="#e27ae0" stroke-width="1.2" stroke-linejoin="round" stroke-linecap="round" points="162.32,86.21 163,85.92 163.68,85.98 164.36,86.84 165.05,87.52 165.73,88.47 166.41,88.54 167.09,89.6 167.77,89.84" />
<polyline fill="none" stroke="#4a1e52" stroke-width="0.8" stroke-linejoin="round" stroke-linecap="round" points="162.32,86.21 163,85.92 163.68,85.98 164.36,86.84 165.05,87.52 165.73,88.47 166.41,88.54 167.09,89.6 167.77,89.84" stroke-dasharray="1.5,2.5"/>
<polyline fill="none" stroke="#e27ae0" stroke-width="1.2" stroke-linejoin="round" stroke-linecap="round" points="169.13,89.8 169.82,89.63 170.5,89.4 171.18,89.24 171.86,88.17 172.54,88.21 173.22,88.43" />
<polyline fill="none" stroke="#4a1e52" stroke-width="0.8" stroke-linejoin="round" stroke-linecap="round" points="169.13,89.8 169.82,89.63 170.5,89.4 171.18,89.24 171.86,88.17 172.54,88.21 173.22,88.43" stroke-dasharray="1.5,2.5"/>
<polyline fill="none" stroke="#e27ae0" stroke-width="1.2" stroke-linejoin="round" stroke-linecap="round" points="174.59,88.59 175.27,89.14 175.95,90.48 176.63,91.17" />
<polyline fill="none" stroke="#4a1e52" stroke-width="0.8" stroke-linejoin="round" stroke-linecap="round" points="174.59,88.59 175.27,89.14 175.95,90.48 176.63,91.17" stroke-dasharray="1.5,2.5"/>
<polyline fill="none" stroke="#e27ae0" stroke-width="1.2" stroke-linejoin="round" stroke-linecap="round" points="178,91.28 178.68,92.05 179.36,91.44 180.04,91.47" />
<polyline fill="none" stroke="#e27ae0" stroke-width="1.2" stroke-linejoin="round" stroke-linecap="round" points="182.09,89.45 182.77,89.72 183.45,89.27 184.13,89.67 184.81,90.49 185.49,91.09 186.17,91.23" />
<polyline fill="none" stroke="#4a1e52" stroke-width="0.8" stroke-linejoin="round" stroke-linecap="round" points="182.09,89.45 182.77,89.72 183.45,89.27 184.13,89.67 184.81,90.49 185.49,91.09 186.17,91.23" stroke-dasharray="1.5,2.5"/>
<polyline fill="none" stroke="#e27ae0" stroke-width="1.2" stroke-linejoin="round" stroke-linecap="round" points="187.54,92.43 188.22,92.74 188.9,92.58" />
<polyline fill="none" stroke="#4a1e52" stroke-width="0.8" stroke-linejoin="round" stroke-linecap="round" points="187.54,92.43 188.22,92.74 188.9,92.58" stroke-dasharray="1.5,2.5"/>
<polyline fill="none" stroke="#e27ae0" stroke-width="1.2" stroke-linejoin="round" stroke-linecap="round" points="190.26,91.74 190.95,91.58 191.63,91.2 192.31,90.13" />
<polyline fill="none" stroke="#e27ae0" stroke-width="1.2" stroke-linejoin="round" stroke-linecap="round" points="193.67,90.57 194.35,90.3 195.04,91.44 195.72,91.48 196.4,92.49 197.08,92.99 197.76,93.4 198.44,93.25" />
<polyline fill="none" stroke="#4a1e52" stroke-width="0.8" stroke-linejoin="round" stroke-linecap="round" points="193.67,90.57 194.35,90.3 195.04,91.44 195.72,91.48 196.4,92.49 197.08,92.99 197.76,93.4 198.44,93.25" stroke-dasharray="1.5,2.5"/>
<polyline fill="none" stroke="#e27ae0" stroke-width="1.2" stroke-linejoin="round" stroke-linecap="round" points="199.81,92.96 200.49,92.32 201.17,91.95 201.85,91.28" />
<polyline fill="none" stroke="#e27ae0" stroke-width="1.2" stroke-linejoin="round" stroke-linecap="round" points="203.21,90.46 203.9,91.06 204.58,91.32" />
<polyline fill="none" stroke="#e27ae0" stroke-width="1.2" stroke-linejoin="round" stroke-linecap="round" points="205.26,91.65 205.94,92.69 206.62,93.3 207.3,93.51 207.99,93.55 208.67,93.8 209.35,93.27 210.03,92.85" />
<polyline fill="none" stroke="#e27ae0" stroke-width="1.2" stroke-linejoin="round" stroke-linecap="round" points="211.39,91.71 212.08,91.51 212.76,91.27 213.44,90.84 214.12,91.51 214.8,91.49 215.48,92.57" />
<polyline fill="none" stroke="#e27ae0" stroke-width="1.2" stroke-linejoin="round" stroke-linecap="round" points="217.53,93.59 218.21,94.13 218.89,93.95" />
<polyline fill="none" stroke="#4a1e52" stroke-width="0.8" stroke-linejoin="round" stroke-linecap="round" points="217.53,93.59 218.21,94.13 218.89,93.95" stroke-dasharray="1.5,2.5"/>
<polyline fill="none" stroke="#e27ae0" stroke-width="1.2" stroke-linejoin="round" stroke-linecap="round" points="220.94,92.95 221.62,92.51 222.3,91.87" />
<polyline fill="none" stroke="#e27ae0" stroke-width="1.2" stroke-linejoin="round" stroke-linecap="round" points="145.3,73.18 145.98,74.46 146.67,75.03 147.35,75.44 148.03,76.26 148.71,75.83 149.39,76.35 150.07,75.67" />
<polyline fill="none" stroke="#e27ae0" stroke-width="1.2" stroke-linejoin="round" stroke-linecap="round" points="152.12,75.41 152.8,75.63 153.48,75.76 154.16,76.13 154.84,76.93 155.53,77.87" />
<polyline fill="none" stroke="#e27ae0" stroke-width="1.2" stroke-linejoin="round" stroke-linecap="round" points="157.57,80.09 158.25,80.61 158.93,79.97 159.62,79.81 160.3,79.79 160.98,78.91 161.66,78.6 162.34,78.75" />
<polyline fill="none" stroke="#4a1e52" stroke-width="0.8" stroke-linejoin="round" stroke-linecap="round" points="157.57,80.09 158.25,80.61 158.93,79.97 159.62,79.81 160.3,79.79 160.98,78.91 161.66,78.6 162.34,78.75" stroke-dasharray="1.5,2.5"/>
<polyline fill="none" stroke="#e27ae0" stroke-width="1.2" stroke-linejoin="round" stroke-linecap="round" points="163.02,78.65 163.71,79.19 164.39,79.64 165.07,80.63 165.75,81.38 166.43,81.78" />
<polyline fill="none" stroke="#e27ae0" stroke-width="1.2" stroke-linejoin="round" stroke-linecap="round" points="167.11,82.68 167.79,82.9 168.48,82.73 169.16,83.22 169.84,82.33 170.52,81.82 171.2,81.33" />
<polyline fill="none" stroke="#e27ae0" stroke-width="1.2" stroke-linejoin="round" stroke-linecap="round" points="171.88,81.42 172.57,81.44 173.25,81.44 173.93,81.44 174.61,81.85 175.29,82.3" />
<polyline fill="none" stroke="#e27ae0" stroke-width="1.2" stroke-linejoin="round" stroke-linecap="round" points="175.97,83.5 176.66,84.07 177.34,84.38 178.02,84.87 178.7,84.72 179.38,84.89 180.06,84.32" />
<polyline fill="none" stroke="#e27ae0" stroke-width="1.2" stroke-linejoin="round" stroke-linecap="round" points="180.75,83.44 181.43,83.48 182.11,82.43" />
<polyline fill="none" stroke="#4a1e52" stroke-width="0.8" stroke-linejoin="round" stroke-linecap="round" points="180.75,83.44 181.43,83.48 182.11,82.43" stroke-dasharray="1.5,2.5"/>
<polyline fill="none" stroke="#e27ae0" stroke-width="1.2" stroke-linejoin="round" stroke-linecap="round" points="182.79,82.64 183.47,82.6 184.15,82.76 184.83,83.12 185.52,84.32 186.2,84.37 186.88,85.38" />
<polyline fill="none" stroke="#e27ae0" stroke-width="1.2" stroke-linejoin="round" stroke-linecap="round" points="188.24,85.65 188.92,85.64 189.61,85.68 190.29,85.14" />
<polyline fill="none" stroke="#e27ae0" stroke-width="1.2" stroke-linejoin="round" stroke-linecap="round" points="190.97,84.72 191.65,84.36 192.33,83.47" />
<polyline fill="none" stroke="#4a1e52" stroke-width="0.8" stroke-linejoin="round" stroke-linecap="round" points="190.97,84.72 191.65,84.36 192.33,83.47" stroke-dasharray="1.5,2.5"/>
<polyline fill="none" stroke="#e27ae0" stroke-width="1.2" stroke-linejoin="round" stroke-linecap="round" points="194.38,83.57 195.06,84.74 195.74,85.27 196.42,85.84 197.1,85.81 197.79,86.84 198.47,86.9 199.15,86.56" />
<polyline fill="none" stroke="#4a1e52" stroke-width="0.8" stroke-linejoin="round" stroke-linecap="round" points="194.38,83.57 195.06,84.74 195.74,85.27 196.42,85.84 197.1,85.81 197.79,86.84 198.47,86.9 199.15,86.56" stroke-dasharray="1.5,2.5"/>
<polyline fill="none" stroke="#e27ae0" stroke-width="1.2" stroke-linejoin="round" stroke-linecap="round" points="199.83,86.44 200.51,85.72 201.19,84.99 201.87,84.38 202.56,84.11 203.24,83.8 203.92,84.12 204.6,84.77" />
<polyline fill="none" stroke="#4a1e52" stroke-width="0.8" stroke-linejoin="round" stroke-linecap="round" points="199.83,86.44 200.51,85.72 201.19,84.99 201.87,84.38 202.56,84.11 203.24,83.8 203.92,84.12 204.6,84.77" stroke-dasharray="1.5,2.5"/>
<polyline fill="none" stroke="#e27ae0" stroke-width="1.2" stroke-linejoin="round" stroke-linecap="round" points="206.65,86.45 207.33,86.6 208.01,87.15 208.69,87.13 209.37,87.25 210.05,86.66 210.74,85.94 211.42,85.68 212.1,85.43" />
<polyline fill="none" stroke="#e27ae0" stroke-width="1.2" stroke-linejoin="round" stroke-linecap="round" points="214.14,84.28 214.83,84.82 215.51,85.31 216.19,86.32 216.87,87.06 217.55,87.37 218.23,87.32 218.91,87.8" />
<polyline fill="none" stroke="#4a1e52" stroke-width="0.8" stroke-linejoin="round" stroke-linecap="round" points="214.14,84.28 214.83,84.82 215.51,85.31 216.19,86.32 216.87,87.06 217.55,87.37 218.23,87.32 218.91,87.8" stroke-dasharray="1.5,2.5"/>
<polyline fill="none" stroke="#e27ae0" stroke-width="1.2" stroke-linejoin="round" stroke-linecap="round" points="220.96,86.66 221.64,85.87" />
<polyline fill="none" stroke="#4a1e52" stroke-width="0.8" stroke-linejoin="round" stroke-linecap="round" points="220.96,86.66 221.64,85.87" stroke-dasharray="1.5,2.5"/>
<polyline fill="none" stroke="#e27ae0" stroke-width="1.2" stroke-linejoin="round" stroke-linecap="round" points="142.77,64.68 143.45,64.16 144.13,64.64 144.81,64.49 145.5,64.38 146.18,64.25 146.86,65.08 147.54,65.44 148.22,65.81" />
<polyline fill="none" stroke="#e27ae0" stroke-width="1.2" stroke-linejoin="round" stroke-linecap="round" points="150.27,68.37 150.95,69.64 151.63,69.62 152.31,70.71" />
<polyline fill="none" stroke="#e27ae0" stroke-width="1.2" stroke-linejoin="round" stroke-linecap="round" points="154.36,70.98 155.04,70.71 155.72,70.32 156.4,70.47 157.08,70.35" />
<polyline fill="none" stroke="#e27ae0" stroke-width="1.2" stroke-linejoin="round" stroke-linecap="round" points="157.76,69.73 158.45,70.28 159.13,70.28 159.81,71.08 160.49,71.39" />
<polyline fill="none" stroke="#e27ae0" stroke-width="1.2" stroke-linejoin="round" stroke-linecap="round" points="161.85,73.37 162.54,74.13 163.22,74.48" />
<polyline fill="none" stroke="#e27ae0" stroke-width="1.2" stroke-linejoin="round" stroke-linecap="round" points="164.58,74.93 165.26,75 165.94,74.64 166.63,74.72 167.31,73.82 167.99,73.73 168.67,73.28 169.35,73.65" />
<polyline fill="none" stroke="#e27ae0" stroke-width="1.2" stroke-linejoin="round" stroke-linecap="round" points="171.4,74.32 172.08,75.17 172.76,75.45 173.44,76.14 174.12,76.39 174.8,77.38 175.49,77.77 176.17,77.31" />
<polyline fill="none" stroke="#e27ae0" stroke-width="1.2" stroke-linejoin="round" stroke-linecap="round" points="176.85,77.16 177.53,77.53 178.21,77.03 178.89,76.4 179.58,76.41 180.26,75.77 180.94,75.24 181.62,75.44" />
<polyline fill="none" stroke="#e27ae0" stroke-width="1.2" stroke-linejoin="round" stroke-linecap="round" points="183.67,76.99 184.35,77.45 185.03,77.79 185.71,78.49 186.39,78.68 187.07,78.86 187.76,79.01 188.44,78.96" />
<polyline fill="none" stroke="#e27ae0" stroke-width="1.2" stroke-linejoin="round" stroke-linecap="round" points="189.12,78.36 189.8,78.6 190.48,77.87 191.16,77.69 191.84,76.7 192.53,76.89 193.21,76.96 193.89,77.07" />
<polyline fill="none" stroke="#4a1e52" stroke-width="0.8" stroke-linejoin="round" stroke-linecap="round" points="189.12,78.36 189.8,78.6 190.48,77.87 191.16,77.69 191.84,76.7 192.53,76.89 193.21,76.96 193.89,77.07" stroke-dasharray="1.5,2.5"/>
<polyline fill="none" stroke="#e27ae0" stroke-width="1.2" stroke-linejoin="round" stroke-linecap="round" points="194.57,76.97 195.25,77.89 195.93,78.4 196.62,79.23 197.3,79.39 197.98,79.84" />
<polyline fill="none" stroke="#e27ae0" stroke-width="1.2" stroke-linejoin="round" stroke-linecap="round" points="199.34,79.97 200.02,79.97 200.71,79.29 201.39,78.84 202.07,78.44 202.75,78.24 203.43,77.94 204.11,77.58" />
<polyline fill="none" stroke="#e27ae0" stroke-width="1.2" stroke-linejoin="round" stroke-linecap="round" points="205.48,77.93 206.16,78.33 206.84,78.63 207.52,79.25" />
<polyline fill="none" stroke="#e27ae0" stroke-width="1.2" stroke-linejoin="round" stroke-linecap="round" points="209.57,80.5 210.25,80.47 210.93,80.36 211.61,80.73 212.29,79.82 212.97,79.91 213.66,79.45 214.34,78.33" />
<polyline fill="none" stroke="#e27ae0" stroke-width="1.2" stroke-linejoin="round" stroke-linecap="round" points="215.7,77.8 216.38,77.74 217.06,77.9 217.75,78.36 218.43,78.82 219.11,79.33 219.79,79.72 220.47,80.82 221.15,80.63" />
<polyline fill="none" stroke="#e27ae0" stroke-width="1.2" stroke-linejoin="round" stroke-linecap="round" points="222.52,80.89 223.2,80.3" />
<polyline fill="none" stroke="#e27ae0" stroke-width="1.2" stroke-linejoin="round" stroke-linecap="round" points="144.11,56.47 144.79,56.19 145.47,56.86" />
<polyline fill="none" stroke="#e27ae0" stroke-width="1.2" stroke-linejoin="round" stroke-linecap="round" points="146.84,56.7 147.52,57.28 148.2,57.89 148.88,59.07 149.56,60.13 150.25,60.44 150.93,61.42 151.61,62.57" />
<polyline fill="none" stroke="#e27ae0" stroke-width="1.2" stroke-linejoin="round" stroke-linecap="round" points="153.65,63.46 154.34,63.11 155.02,63.6" />
<polyline fill="none" stroke="#4a1e52" stroke-width="0.8" stroke-linejoin="round" stroke-linecap="round" points="153.65,63.46 154.34,63.11 155.02,63.6" stroke-dasharray="1.5,2.5"/>
<polyline fill="none" stroke="#e27ae0" stroke-width="1.2" stroke-linejoin="round" stroke-linecap="round" points="155.7,63.06 156.38,62.83 157.06,63 157.74,62.74 158.43,63.31 159.11,62.99 159.79,63.75 160.47,64.73 161.15,65.3" />
<polyline fill="none" stroke="#4a1e52" stroke-width="0.8" stroke-linejoin="round" stroke-linecap="round" points="155.7,63.06 156.38,62.83 157.06,63 157.74,62.74 158.43,63.31 159.11,62.99 159.79,63.75 160.47,64.73 161.15,65.3" stroke-dasharray="1.5,2.5"/>
<polyline fill="none" stroke="#e27ae0" stroke-width="1.2" stroke-linejoin="round" stroke-linecap="round" points="162.51,66.69 163.2,66.97 163.88,67.5 164.56,67.48 165.24,67.52 165.92,68.06 166.6,67.56" />
<polyline fill="none" stroke="#4a1e52" stroke-width="0.8" stroke-linejoin="round" stroke-linecap="round" points="162.51,66.69 163.2,66.97 163.88,67.5 164.56,67.48 165.24,67.52 165.92,68.06 166.6,67.56" stroke-dasharray="1.5,2.5"/>
<polyline fill="none" stroke="#e27ae0" stroke-width="1.2" stroke-linejoin="round" stroke-linecap="round" points="167.97,66.87 168.65,66.25 169.33,66.3 170.01,66.44" />
<polyline fill="none" stroke="#e27ae0" stroke-width="1.2" stroke-linejoin="round" stroke-linecap="round" points="170.69,67.13 171.38,67.57 172.06,68.16 172.74,68.78 173.42,69.04 174.1,69.41" />
<polyline fill="none" stroke="#4a1e52" stroke-width="0.8" stroke-linejoin="round" stroke-linecap="round" points="170.69,67.13 171.38,67.57 172.06,68.16 172.74,68.78 173.42,69.04 174.1,69.41" stroke-dasharray="1.5,2.5"/>
<polyline fill="none" stroke="#e27ae0" stroke-width="1.2" stroke-linejoin="round" stroke-linecap="round" points="176.15,70.83 176.83,70.27 177.51,70.39 178.19,70.1 178.87,69.77 179.55,68.85 180.24,68.97 180.92,68.95 181.6,68.96" />
<polyline fill="none" stroke="#e27ae0" stroke-width="1.2" stroke-linejoin="round" stroke-linecap="round" points="182.28,68.87 182.96,69.73 183.64,70.06 184.33,70.57 185.01,71.28 185.69,71.56 186.37,72.22 187.05,72.01 187.73,72.42" />
<polyline fill="none" stroke="#4a1e52" stroke-width="0.8" stroke-linejoin="round" stroke-linecap="round" points="182.28,68.87 182.96,69.73 183.64,70.06 184.33,70.57 185.01,71.28 185.69,71.56 186.37,72.22 187.05,72.01 187.73,72.42" stroke-dasharray="1.5,2.5"/>
<polyline fill="none" stroke="#e27ae0" stroke-width="1.2" stroke-linejoin="round" stroke-linecap="round" points="189.78,71.54 190.46,70.93 191.14,70.77 191.82,70.45 192.51,69.93 193.19,70.19 193.87,70.13" />
<polyline fill="none" stroke="#e27ae0" stroke-width="1.2" stroke-linejoin="round" stroke-linecap="round" points="195.23,71.26 195.91,71.4 196.59,72.61 197.28,72.5 197.96,72.96 198.64,73.2 199.32,72.94 200,73.11 200.68,72.57" />
<polyline fill="none" stroke="#e27ae0" stroke-width="1.2" stroke-linejoin="round" stroke-linecap="round" points="202.05,71.8 202.73,71.23 203.41,71.1 204.09,70.99 204.77,70.66 205.46,70.77" />
<polyline fill="none" stroke="#e27ae0" stroke-width="1.2" stroke-linejoin="round" stroke-linecap="round" points="207.5,72.6 208.18,73.36 208.86,73.27" />
<polyline fill="none" stroke="#4a1e52" stroke-width="0.8" stroke-linejoin="round" stroke-linecap="round" points="207.5,72.6 208.18,73.36 208.86,73.27" stroke-dasharray="1.5,2.5"/>
<polyline fill="none" stroke="#e27ae0" stroke-width="1.2" stroke-linejoin="round" stroke-linecap="round" points="210.23,74.17 210.91,73.64 211.59,73.54 212.27,73.25 212.95,72.84 213.63,72.41 214.32,72.21 215,71.19" />
<polyline fill="none" stroke="#e27ae0" stroke-width="1.2" stroke-linejoin="round" stroke-linecap="round" points="215.68,71.69 216.36,71.45 217.04,71.75 217.72,71.87 218.41,72.52 219.09,72.84" />
<polyline fill="none" stroke="#4a1e52" stroke-width="0.8" stroke-linejoin="round" stroke-linecap="round" points="215.68,71.69 216.36,71.45 217.04,71.75 217.72,71.87 218.41,72.52 219.09,72.84" stroke-dasharray="1.5,2.5"/>
<polyline fill="none" stroke="#e27ae0" stroke-width="1.2" stroke-linejoin="round" stroke-linecap="round" points="145.87,50.84 146.55,51.15 147.24,50.33 147.92,50.77 148.6,50.7" />
<polyline fill="none" stroke="#e27ae0" stroke-width="1.2" stroke-linejoin="round" stroke-linecap="round" points="149.28,50.68 149.96,51.55 150.64,51.85 151.32,52.82 152.01,53.84 152.69,55 153.37,55.4 154.05,56.22" />
<polyline fill="none" stroke="#4a1e52" stroke-width="0.8" stroke-linejoin="round" stroke-linecap="round" points="149.28,50.68 149.96,51.55 150.64,51.85 151.32,52.82 152.01,53.84 152.69,55 153.37,55.4 154.05,56.22" stroke-dasharray="1.5,2.5"/>
<polyline fill="none" stroke="#e27ae0" stroke-width="1.2" stroke-linejoin="round" stroke-linecap="round" points="154.73,56.58 155.41,56.79 156.1,56.89" />
<polyline fill="none" stroke="#e27ae0" stroke-width="1.2" stroke-linejoin="round" stroke-linecap="round" points="158.14,55.79 158.82,55.83 159.5,55.84 160.19,56.48 160.87,57.52 161.55,58.08 162.23,59.05 162.91,59.46 163.59,60.06" />
<polyline fill="none" stroke="#e27ae0" stroke-width="1.2" stroke-linejoin="round" stroke-linecap="round" points="164.96,60.76 165.64,60.66 166.32,60.46 167,59.47 167.68,59.65" />
<polyline fill="none" stroke="#4a1e52" stroke-width="0.8" stroke-linejoin="round" stroke-linecap="round" points="164.96,60.76 165.64,60.66 166.32,60.46 167,59.47 167.68,59.65" stroke-dasharray="1.5,2.5"/>
<polyline fill="none" stroke="#e27ae0" stroke-width="1.2" stroke-linejoin="round" stroke-linecap="round" points="169.73,59.11 170.41,59.8 171.09,60.24 171.77,61.15" />
<polyline fill="none" stroke="#e27ae0" stroke-width="1.2" stroke-linejoin="round" stroke-linecap="round" points="173.14,62.84 173.82,63.29 174.5,63.54 175.18,63.52 175.86,62.96 176.54,62.52 177.23,62.06" />
<polyline fill="none" stroke="#4a1e52" stroke-width="0.8" stroke-linejoin="round" stroke-linecap="round" points="173.14,62.84 173.82,63.29 174.5,63.54 175.18,63.52 175.86,62.96 176.54,62.52 177.23,62.06" stroke-dasharray="1.5,2.5"/>
<polyline fill="none" stroke="#e27ae0" stroke-width="1.2" stroke-linejoin="round" stroke-linecap="round" points="178.59,61.49 179.27,61.63 179.95,61.57 180.63,62.48 181.32,62.99 182,63.94 182.68,64.04" />
<polyline fill="none" stroke="#e27ae0" stroke-width="1.2" stroke-linejoin="round" stroke-linecap="round" points="184.04,64.66 184.72,65.2 185.4,65.02 186.09,64.36 186.77,63.62 187.45,63.51 188.13,63.17 188.81,62.9" />
<polyline fill="none" stroke="#4a1e52" stroke-width="0.8" stroke-linejoin="round" stroke-linecap="round" points="184.04,64.66 184.72,65.2 185.4,65.02 186.09,64.36 186.77,63.62 187.45,63.51 188.13,63.17 188.81,62.9" stroke-dasharray="1.5,2.5"/>
<polyline fill="none" stroke="#e27ae0" stroke-width="1.2" stroke-linejoin="round" stroke-linecap="round" points="189.49,62.83 190.18,63.27 190.86,63.96 191.54,64.55 192.22,65.28" />
<polyline fill="none" stroke="#e27ae0" stroke-width="1.2" stroke-linejoin="round" stroke-linecap="round" points="192.9,65.96 193.58,66.48 194.27,65.81 194.95,66 195.63,65.15 196.31,64.68 196.99,64.7 197.67,64.09" />
<polyline fill="none" stroke="#e27ae0" stroke-width="1.2" stroke-linejoin="round" stroke-linecap="round" points="199.04,63.79 199.72,63.73 200.4,64.53 201.08,65.31 201.76,66.24 202.44,66.83" />
<polyline fill="none" stroke="#e27ae0" stroke-width="1.2" stroke-linejoin="round" stroke-linecap="round" points="203.81,66.87 204.49,66.48 205.17,66.55 205.85,65.69 206.53,65.07" />
<polyline fill="none" stroke="#e27ae0" stroke-width="1.2" stroke-linejoin="round" stroke-linecap="round" points="208.58,64.55 209.26,64.26 209.94,65.33 210.62,65.19 211.31,66.45" />
<polyline fill="none" stroke="#4a1e52" stroke-width="0.8" stroke-linejoin="round" stroke-linecap="round" points="208.58,64.55 209.26,64.26 209.94,65.33 210.62,65.19 211.31,66.45" stroke-dasharray="1.5,2.5"/>
<polyline fill="none" stroke="#e27ae0" stroke-width="1.2" stroke-linejoin="round" stroke-linecap="round" points="211.99,66.45 212.67,66.81 213.35,67.59 214.03,67.17 214.71,67.28 215.4,66.37 216.08,65.69" />
<polyline fill="none" stroke="#e27ae0" stroke-width="1.2" stroke-linejoin="round" stroke-linecap="round" points="218.12,65.12 218.8,65.04 219.48,64.81 220.17,65.73 220.85,66.4 221.53,66.82" />
<polyline fill="none" stroke="#e27ae0" stroke-width="1.2" stroke-linejoin="round" stroke-linecap="round" points="145.61,42.23 146.29,41.85 146.97,42.12 147.65,41.75" />
<polyline fill="none" stroke="#e27ae0" stroke-width="1.2" stroke-linejoin="round" stroke-linecap="round" points="148.33,42.43 149.02,43.31 149.7,44.73 150.38,45.46" />
<polyline fill="none" stroke="#4a1e52" stroke-width="0.8" stroke-linejoin="round" stroke-linecap="round" points="148.33,42.43 149.02,43.31 149.7,44.73 150.38,45.46" stroke-dasharray="1.5,2.5"/>
<polyline fill="none" stroke="#e27ae0" stroke-width="1.2" stroke-linejoin="round" stroke-linecap="round" points="151.74,47.59 152.42,47.67 153.11,47.65 153.79,47.32 154.47,47.59" />
<polyline fill="none" stroke="#4a1e52" stroke-width="0.8" stroke-linejoin="round" stroke-linecap="round" points="151.74,47.59 152.42,47.67 153.11,47.65 153.79,47.32 154.47,47.59" stroke-dasharray="1.5,2.5"/>
<polyline fill="none" stroke="#e27ae0" stroke-width="1.2" stroke-linejoin="round" stroke-linecap="round" points="156.51,47.19 157.2,47.76 157.88,49.3" />
<polyline fill="none" stroke="#e27ae0" stroke-width="1.2" stroke-linejoin="round" stroke-linecap="round" points="158.56,50.41 159.24,50.67 159.92,52.01 160.6,52.2 161.29,51.96" />
<polyline fill="none" stroke="#e27ae0" stroke-width="1.2" stroke-linejoin="round" stroke-linecap="round" points="163.33,50.79 164.01,50.64 164.69,50.77 165.37,51.21 166.06,52.34 166.74,53.22 167.42,54.3 168.1,54.41" />
<polyline fill="none" stroke="#e27ae0" stroke-width="1.2" stroke-linejoin="round" stroke-linecap="round" points="169.46,54.73 170.15,54.63 170.83,54.29" />
<polyline fill="none" stroke="#4a1e52" stroke-width="0.8" stroke-linejoin="round" stroke-linecap="round" points="169.46,54.73 170.15,54.63 170.83,54.29" stroke-dasharray="1.5,2.5"/>
<polyline fill="none" stroke="#e27ae0" stroke-width="1.2" stroke-linejoin="round" stroke-linecap="round" points="172.19,52.77 172.87,53.1 173.55,53.62 174.24,54.3 174.92,55.01 175.6,55.62 176.28,56.53 176.96,56.94 177.64,56.69" />
<polyline fill="none" stroke="#4a1e52" stroke-width="0.8" stroke-linejoin="round" stroke-linecap="round" points="172.19,52.77 172.87,53.1 173.55,53.62 174.24,54.3 174.92,55.01 175.6,55.62 176.28,56.53 176.96,56.94 177.64,56.69" stroke-dasharray="1.5,2.5"/>
<polyline fill="none" stroke="#e27ae0" stroke-width="1.2" stroke-linejoin="round" stroke-linecap="round" points="178.33,56.78 179.01,55.81 179.69,55.4 180.37,54.76 181.05,54.68 181.73,54.86 182.41,56.02 183.1,56.39" />
<polyline fill="none" stroke="#e27ae0" stroke-width="1.2" stroke-linejoin="round" stroke-linecap="round" points="185.14,58.58 185.82,58.63 186.5,57.78 187.19,57.75 187.87,56.79 188.55,56.62 189.23,56.03" />
<polyline fill="none" stroke="#e27ae0" stroke-width="1.2" stroke-linejoin="round" stroke-linecap="round" points="191.28,57.38 191.96,57.94 192.64,58.8" />
<polyline fill="none" stroke="#e27ae0" stroke-width="1.2" stroke-linejoin="round" stroke-linecap="round" points="194,59.05 194.68,58.82 195.37,58.78 196.05,57.89 196.73,57.36" />
<polyline fill="none" stroke="#e27ae0" stroke-width="1.2" stroke-linejoin="round" stroke-linecap="round" points="198.09,57.42 198.77,57.33 199.45,57.85 200.14,58.9 200.82,59.69 201.5,60.13" />
<polyline fill="none" stroke="#e27ae0" stroke-width="1.2" stroke-linejoin="round" stroke-linecap="round" points="202.86,60.11 203.54,59.15 204.23,59.01 204.91,57.92" />
<polyline fill="none" stroke="#e27ae0" stroke-width="1.2" stroke-linejoin="round" stroke-linecap="round" points="206.95,57.87 207.63,58.76 208.32,59.33" />
<polyline fill="none" stroke="#e27ae0" stroke-width="1.2" stroke-linejoin="round" stroke-linecap="round" points="209,60.31 209.68,60.81 210.36,60.92 211.04,60.51 211.72,60.21 212.41,59.36 213.09,58.23 213.77,57.99 214.45,57.82" />
<polyline fill="none" stroke="#4a1e52" stroke-width="0.8" stroke-linejoin="round" stroke-linecap="round" points="209,60.31 209.68,60.81 210.36,60.92 211.04,60.51 211.72,60.21 212.41,59.36 213.09,58.23 213.77,57.99 214.45,57.82" stroke-dasharray="1.5,2.5"/>
<polyline fill="none" stroke="#e27ae0" stroke-width="1.2" stroke-linejoin="round" stroke-linecap="round" points="215.13,57.96 215.81,59.19 216.49,59.58" />
<polyline fill="none" stroke="#e27ae0" stroke-width="1.2" stroke-linejoin="round" stroke-linecap="round" points="217.86,61.08 218.54,60.88" />
<polyline fill="none" stroke="#4a1e52" stroke-width="0.8" stroke-linejoin="round" stroke-linecap="round" points="217.86,61.08 218.54,60.88" stroke-dasharray="1.5,2.5"/>
<polyline fill="none" stroke="#e27ae0" stroke-width="1.2" stroke-linejoin="round" stroke-linecap="round" points="145.98,32.74 146.67,34.63 147.35,35.42" />
<polyline fill="none" stroke="#e27ae0" stroke-width="1.2" stroke-linejoin="round" stroke-linecap="round" points="148.71,37.39 149.39,38.1 150.07,38.16 150.76,38.28 151.44,37.54 152.12,37.58" />
<polyline fill="none" stroke="#e27ae0" stroke-width="1.2" stroke-linejoin="round" stroke-linecap="round" points="154.16,38.94 154.85,40.28 155.53,41.26 156.21,42 156.89,42.96 157.57,42.85 158.25,43.01 158.94,42.15 159.62,41.66" />
<polyline fill="none" stroke="#e27ae0" stroke-width="1.2" stroke-linejoin="round" stroke-linecap="round" points="160.3,41.82 160.98,42.1 161.66,42.5 162.34,43.74" />
<polyline fill="none" stroke="#e27ae0" stroke-width="1.2" stroke-linejoin="round" stroke-linecap="round" points="163.02,44.88 163.71,45.91 164.39,46.61 165.07,46.48 165.75,46.48 166.43,45.43 167.11,45.43" />
<polyline fill="none" stroke="#4a1e52" stroke-width="0.8" stroke-linejoin="round" stroke-linecap="round" points="163.02,44.88 163.71,45.91 164.39,46.61 165.07,46.48 165.75,46.48 166.43,45.43 167.11,45.43" stroke-dasharray="1.5,2.5"/>
<polyline fill="none" stroke="#e27ae0" stroke-width="1.2" stroke-linejoin="round" stroke-linecap="round" points="167.8,45.27 168.48,44.87 169.16,45.16 169.84,45.92 170.52,46.87" />
<polyline fill="none" stroke="#4a1e52" stroke-width="0.8" stroke-linejoin="round" stroke-linecap="round" points="167.8,45.27 168.48,44.87 169.16,45.16 169.84,45.92 170.52,46.87" stroke-dasharray="1.5,2.5"/>
<polyline fill="none" stroke="#e27ae0" stroke-width="1.2" stroke-linejoin="round" stroke-linecap="round" points="171.2,47.9 171.89,48.58 172.57,48.63" />
<polyline fill="none" stroke="#4a1e52" stroke-width="0.8" stroke-linejoin="round" stroke-linecap="round" points="171.2,47.9 171.89,48.58 172.57,48.63" stroke-dasharray="1.5,2.5"/>
<polyline fill="none" stroke="#e27ae0" stroke-width="1.2" stroke-linejoin="round" stroke-linecap="round" points="174.61,47.4 175.29,47.31 175.98,46.96 176.66,47.23 177.34,47.83 178.02,48.63 178.7,49.8 179.38,50.64" />
<polyline fill="none" stroke="#4a1e52" stroke-width="0.8" stroke-linejoin="round" stroke-linecap="round" points="174.61,47.4 175.29,47.31 175.98,46.96 176.66,47.23 177.34,47.83 178.02,48.63 178.7,49.8 179.38,50.64" stroke-dasharray="1.5,2.5"/>
<polyline fill="none" stroke="#e27ae0" stroke-width="1.2" stroke-linejoin="round" stroke-linecap="round" points="180.06,50.48 180.75,50.49 181.43,49.82 182.11,49.49 182.79,48.79 183.47,48.34 184.15,48.88 184.84,49.04 185.52,49.54" />
<polyline fill="none" stroke="#e27ae0" stroke-width="1.2" stroke-linejoin="round" stroke-linecap="round" points="187.56,52.13 188.24,52.25 188.93,51.8 189.61,51.22 190.29,50.08 190.97,49.54" />
<polyline fill="none" stroke="#e27ae0" stroke-width="1.2" stroke-linejoin="round" stroke-linecap="round" points="193.02,50.24 193.7,51.14 194.38,51.71 195.06,52.83 195.74,52.9 196.42,52.95" />
<polyline fill="none" stroke="#4a1e52" stroke-width="0.8" stroke-linejoin="round" stroke-linecap="round" points="193.02,50.24 193.7,51.14 194.38,51.71 195.06,52.83 195.74,52.9 196.42,52.95" stroke-dasharray="1.5,2.5"/>
<polyline fill="none" stroke="#e27ae0" stroke-width="1.2" stroke-linejoin="round" stroke-linecap="round" points="197.1,52.47 197.79,51.46 198.47,50.7 199.15,50.3 199.83,50.63 200.51,51.32 201.19,51.37 201.88,52.44" />
<polyline fill="none" stroke="#4a1e52" stroke-width="0.8" stroke-linejoin="round" stroke-linecap="round" points="197.1,52.47 197.79,51.46 198.47,50.7 199.15,50.3 199.83,50.63 200.51,51.32 201.19,51.37 201.88,52.44" stroke-dasharray="1.5,2.5"/>
<polyline fill="none" stroke="#e27ae0" stroke-width="1.2" stroke-linejoin="round" stroke-linecap="round" points="203.24,53.23 203.92,53.59 204.6,52.81" />
<polyline fill="none" stroke="#e27ae0" stroke-width="1.2" stroke-linejoin="round" stroke-linecap="round" points="206.65,50.77 207.33,51.17 208.01,51.36 208.69,52.21 209.37,52.6 210.06,53.8 210.74,54.3" />
<polyline fill="none" stroke="#e27ae0" stroke-width="1.2" stroke-linejoin="round" stroke-linecap="round" points="211.42,53.66 212.1,53.56 212.78,52.85" />
<polyline fill="none" stroke="#4a1e52" stroke-width="0.8" stroke-linejoin="round" stroke-linecap="round" points="211.42,53.66 212.1,53.56 212.78,52.85" stroke-dasharray="1.5,2.5"/>
<polyline fill="none" stroke="#e27ae0" stroke-width="1.2" stroke-linejoin="round" stroke-linecap="round" points="213.46,52.58 214.14,52.04 214.83,51.65 215.51,51.83 216.19,52.1 216.87,53.1 217.55,53.39" />
<polyline fill="none" stroke="#e27ae0" stroke-width="1.2" stroke-linejoin="round" stroke-linecap="round" points="142.53,21.85 143.21,22.82 143.89,23.56 144.58,24.92 145.26,26.58 145.94,27.47 146.62,28.19 147.3,29.07 147.98,29.05" />
<polyline fill="none" stroke="#e27ae0" stroke-width="1.2" stroke-linejoin="round" stroke-linecap="round" points="148.67,28.59 149.35,28.34 150.03,28.39 150.71,28.7 151.39,29.72 152.07,30.48 152.76,31.67 153.44,32.75" />
<polyline fill="none" stroke="#e27ae0" stroke-width="1.2" stroke-linejoin="round" stroke-linecap="round" points="154.8,33.9 155.48,34.65 156.16,35.02 156.84,34.77 157.53,33.89" />
<polyline fill="none" stroke="#e27ae0" stroke-width="1.2" stroke-linejoin="round" stroke-linecap="round" points="159.57,34.07 160.25,34.88 160.93,35.43 161.62,36.75 162.3,37.75 162.98,38.06 163.66,38.51 164.34,39.16" />
<polyline fill="none" stroke="#e27ae0" stroke-width="1.2" stroke-linejoin="round" stroke-linecap="round" points="165.02,38.71 165.71,38.4 166.39,37.76 167.07,37.72 167.75,37.91 168.43,38.39" />
<polyline fill="none" stroke="#e27ae0" stroke-width="1.2" stroke-linejoin="round" stroke-linecap="round" points="169.11,38.48 169.8,39.89 170.48,40.48 171.16,41.5 171.84,41.54 172.52,41.76" />
<polyline fill="none" stroke="#e27ae0" stroke-width="1.2" stroke-linejoin="round" stroke-linecap="round" points="174.57,40.21 175.25,40.09 175.93,39.98" />
<polyline fill="none" stroke="#e27ae0" stroke-width="1.2" stroke-linejoin="round" stroke-linecap="round" points="177.97,41.66 178.66,42.78 179.34,43.06 180.02,43.84" />
<polyline fill="none" stroke="#e27ae0" stroke-width="1.2" stroke-linejoin="round" stroke-linecap="round" points="181.38,43.52 182.06,42.8 182.75,42.39 183.43,41.99 184.11,41.5 184.79,41.65 185.47,42.16 186.15,43.03 186.84,43.93" />
<polyline fill="none" stroke="#e27ae0" stroke-width="1.2" stroke-linejoin="round" stroke-linecap="round" points="187.52,44.55 188.2,44.96 188.88,44.94 189.56,45.06 190.24,44.78 190.92,43.98" />
<polyline fill="none" stroke="#e27ae0" stroke-width="1.2" stroke-linejoin="round" stroke-linecap="round" points="192.97,42.84 193.65,43.63 194.33,44.08 195.01,44.93 195.7,45.71 196.38,46.1" />
<polyline fill="none" stroke="#4a1e52" stroke-width="0.8" stroke-linejoin="round" stroke-linecap="round" points="192.97,42.84 193.65,43.63 194.33,44.08 195.01,44.93 195.7,45.71 196.38,46.1" stroke-dasharray="1.5,2.5"/>
<polyline fill="none" stroke="#e27ae0" stroke-width="1.2" stroke-linejoin="round" stroke-linecap="round" points="197.74,45.9 198.42,45.4 199.1,45 199.79,44.29 200.47,44.04" />
<polyline fill="none" stroke="#e27ae0" stroke-width="1.2" stroke-linejoin="round" stroke-linecap="round" points="202.51,45.01 203.19,45.25 203.88,46.24 204.56,46.75 205.24,46.83 205.92,47.28 206.6,46.29" />
<polyline fill="none" stroke="#e27ae0" stroke-width="1.2" stroke-linejoin="round" stroke-linecap="round" points="208.65,44.34 209.33,44.77 210.01,44.58 210.69,44.76 211.37,45.71" />
<polyline fill="none" stroke="#4a1e52" stroke-width="0.8" stroke-linejoin="round" stroke-linecap="round" points="208.65,44.34 209.33,44.77 210.01,44.58 210.69,44.76 211.37,45.71" stroke-dasharray="1.5,2.5"/>
<polyline fill="none" stroke="#e27ae0" stroke-width="1.2" stroke-linejoin="round" stroke-linecap="round" points="213.42,47.16 214.1,47.23 214.78,47.45 215.46,46.67 216.14,45.53 216.83,45.1 217.51,44.81 218.19,45.1 218.87,45.44" />
<polyline fill="none" stroke="#e27ae0" stroke-width="1.2" stroke-linejoin="round" stroke-linecap="round" points="143.8,15.55 144.48,15.78 145.16,15.91" />
<polyline fill="none" stroke="#4a1e52" stroke-width="0.8" stroke-linejoin="round" stroke-linecap="round" points="143.8,15.55 144.48,15.78 145.16,15.91" stroke-dasharray="1.5,2.5"/>
<polyline fill="none" stroke="#e27ae0" stroke-width="1.2" stroke-linejoin="round" stroke-linecap="round" points="147.2,19.86 147.89,21.15 148.57,22.34 149.25,22.49 149.93,23.05 150.61,23.47 151.29,22.59 151.97,22.43 152.66,22.82" />
<polyline fill="none" stroke="#4a1e52" stroke-width="0.8" stroke-linejoin="round" stroke-linecap="round" points="147.2,19.86 147.89,21.15 148.57,22.34 149.25,22.49 149.93,23.05 150.61,23.47 151.29,22.59 151.97,22.43 152.66,22.82" stroke-dasharray="1.5,2.5"/>
<polyline fill="none" stroke="#e27ae0" stroke-width="1.2" stroke-linejoin="round" stroke-linecap="round" points="153.34,23.03 154.02,23.99 154.7,24.8 155.38,25.74 156.06,27.23 156.75,27.8 157.43,28.45 158.11,28.85 158.79,28.54" />
<polyline fill="none" stroke="#e27ae0" stroke-width="1.2" stroke-linejoin="round" stroke-linecap="round" points="160.15,28.05 160.84,27.65 161.52,28.2 162.2,28.4 162.88,29.04 163.56,29.66" />
<polyline fill="none" stroke="#e27ae0" stroke-width="1.2" stroke-linejoin="round" stroke-linecap="round" points="164.93,31.79 165.61,32.5 166.29,32.72" />
<polyline fill="none" stroke="#4a1e52" stroke-width="0.8" stroke-linejoin="round" stroke-linecap="round" points="164.93,31.79 165.61,32.5 166.29,32.72" stroke-dasharray="1.5,2.5"/>
<polyline fill="none" stroke="#e27ae0" stroke-width="1.2" stroke-linejoin="round" stroke-linecap="round" points="167.65,32.5 168.33,31.66 169.01,31.27 169.7,31.34 170.38,31.91 171.06,32 171.74,33 172.42,34.15" />
<polyline fill="none" stroke="#e27ae0" stroke-width="1.2" stroke-linejoin="round" stroke-linecap="round" points="173.1,34.45 173.79,35.12 174.47,35.83 175.15,35.54 175.83,34.85 176.51,33.99" />
<polyline fill="none" stroke="#4a1e52" stroke-width="0.8" stroke-linejoin="round" stroke-linecap="round" points="173.1,34.45 173.79,35.12 174.47,35.83 175.15,35.54 175.83,34.85 176.51,33.99" stroke-dasharray="1.5,2.5"/>
<polyline fill="none" stroke="#e27ae0" stroke-width="1.2" stroke-linejoin="round" stroke-linecap="round" points="178.56,34.05 179.24,34.68 179.92,35.36 180.6,35.85 181.28,36.42 181.97,37.07" />
<polyline fill="none" stroke="#4a1e52" stroke-width="0.8" stroke-linejoin="round" stroke-linecap="round" points="178.56,34.05 179.24,34.68 179.92,35.36 180.6,35.85 181.28,36.42 181.97,37.07" stroke-dasharray="1.5,2.5"/>
<polyline fill="none" stroke="#e27ae0" stroke-width="1.2" stroke-linejoin="round" stroke-linecap="round" points="182.65,37.43 183.33,37.25 184.01,36.53" />
<polyline fill="none" stroke="#4a1e52" stroke-width="0.8" stroke-linejoin="round" stroke-linecap="round" points="182.65,37.43 183.33,37.25 184.01,36.53" stroke-dasharray="1.5,2.5"/>
<polyline fill="none" stroke="#e27ae0" stroke-width="1.2" stroke-linejoin="round" stroke-linecap="round" points="185.37,35.77 186.05,35.45 186.74,35.29 187.42,36.2 188.1,36.59 188.78,36.93" />
<polyline fill="none" stroke="#4a1e52" stroke-width="0.8" stroke-linejoin="round" stroke-linecap="round" points="185.37,35.77 186.05,35.45 186.74,35.29 187.42,36.2 188.1,36.59 188.78,36.93" stroke-dasharray="1.5,2.5"/>
<polyline fill="none" stroke="#e27ae0" stroke-width="1.2" stroke-linejoin="round" stroke-linecap="round" points="190.14,38.84 190.83,38.66 191.51,38.8 192.19,37.79 192.87,37.41 193.55,37.25" />
<polyline fill="none" stroke="#e27ae0" stroke-width="1.2" stroke-linejoin="round" stroke-linecap="round" points="194.23,36.67 194.92,36.68 195.6,36.62 196.28,37.47 196.96,38.29" />
<polyline fill="none" stroke="#e27ae0" stroke-width="1.2" stroke-linejoin="round" stroke-linecap="round" points="198.32,39.67 199.01,39.81 199.69,40.05 200.37,39.26 201.05,38.5" />
<polyline fill="none" stroke="#e27ae0" stroke-width="1.2" stroke-linejoin="round" stroke-linecap="round" points="201.73,37.64 202.41,37.22 203.09,37.57" />
<polyline fill="none" stroke="#e27ae0" stroke-width="1.2" stroke-linejoin="round" stroke-linecap="round" points="204.46,37.82 205.14,38.61 205.82,39.64 206.5,40.46 207.18,40.56 207.87,40.61 208.55,39.59" />
<polyline fill="none" stroke="#4a1e52" stroke-width="0.8" stroke-linejoin="round" stroke-linecap="round" points="204.46,37.82 205.14,38.61 205.82,39.64 206.5,40.46 207.18,40.56 207.87,40.61 208.55,39.59" stroke-dasharray="1.5,2.5"/>
<polyline fill="none" stroke="#e27ae0" stroke-width="1.2" stroke-linejoin="round" stroke-linecap="round" points="209.23,38.92 209.91,38.86 210.59,38 211.27,38.11 211.96,37.98 212.64,38.32" />
<polyline fill="none" stroke="#4a1e52" stroke-width="0.8" stroke-linejoin="round" stroke-linecap="round" points="209.23,38.92 209.91,38.86 210.59,38 211.27,38.11 211.96,37.98 212.64,38.32" stroke-dasharray="1.5,2.5"/>
<polyline fill="none" stroke="#e27ae0" stroke-width="1.2" stroke-linejoin="round" stroke-linecap="round" points="213.32,39.1 214,39.71 214.68,40.96 215.36,41 216.05,40.76 216.73,40.44" />
<polyline fill="none" stroke="#4a1e52" stroke-width="0.8" stroke-linejoin="round" stroke-linecap="round" points="213.32,39.1 214,39.71 214.68,40.96 215.36,41 216.05,40.76 216.73,40.44" stroke-dasharray="1.5,2.5"/>
<polyline fill="none" stroke="#e27ae0" stroke-width="1.2" stroke-linejoin="round" stroke-linecap="round" points="218.77,38.94 219.45,38.42 220.13,38.81" />
<polyline fill="none" stroke="#4a1e52" stroke-width="0.8" stroke-linejoin="round" stroke-linecap="round" points="218.77,38.94 219.45,38.42 220.13,38.81" stroke-dasharray="1.5,2.5"/>
<polyline fill="none" stroke="#e27ae0" stroke-width="1.2" stroke-linejoin="round" stroke-linecap="round" points="220.82,38.83 221.5,39.64 222.18,40.09" />
<polyline fill="none" stroke="#e27ae0" stroke-width="1.2" stroke-linejoin="round" stroke-linecap="round" points="142.74,5.86 143.42,6.68 144.1,7.02 144.79,8.13 145.47,9.19 146.15,10.61 146.83,12.04 147.51,13.14" />
<polyline fill="none" stroke="#e27ae0" stroke-width="1.2" stroke-linejoin="round" stroke-linecap="round" points="149.56,14.86 150.24,15.55 150.92,15.42 151.6,15.59 152.28,15.64 152.96,15.46 153.65,15.68 154.33,16.71" />
<polyline fill="none" stroke="#e27ae0" stroke-width="1.2" stroke-linejoin="round" stroke-linecap="round" points="155.01,17.16 155.69,18.02 156.37,19.14 157.05,19.83 157.74,21.19 158.42,21.78 159.1,21.7 159.78,22.44" />
<polyline fill="none" stroke="#e27ae0" stroke-width="1.2" stroke-linejoin="round" stroke-linecap="round" points="161.14,22.08 161.83,21.26 162.51,21.66 163.19,21.22 163.87,21.36 164.55,22.4 165.23,23.08 165.91,23.99" />
<polyline fill="none" stroke="#e27ae0" stroke-width="1.2" stroke-linejoin="round" stroke-linecap="round" points="166.6,24.43 167.28,25.22 167.96,26.44 168.64,26.22 169.32,27.07 170,26.92" />
<polyline fill="none" stroke="#e27ae0" stroke-width="1.2" stroke-linejoin="round" stroke-linecap="round" points="170.69,26.63 171.37,25.82 172.05,25.9 172.73,25.17 173.41,25.29 174.09,25.91 174.78,26.02 175.46,26.62" />
<polyline fill="none" stroke="#e27ae0" stroke-width="1.2" stroke-linejoin="round" stroke-linecap="round" points="177.5,29.06 178.18,29.57 178.87,30.03 179.55,30.1 180.23,29.28" />
<polyline fill="none" stroke="#4a1e52" stroke-width="0.8" stroke-linejoin="round" stroke-linecap="round" points="177.5,29.06 178.18,29.57 178.87,30.03 179.55,30.1 180.23,29.28" stroke-dasharray="1.5,2.5"/>
<polyline fill="none" stroke="#e27ae0" stroke-width="1.2" stroke-linejoin="round" stroke-linecap="round" points="180.91,29.06 181.59,28.96 182.27,28.48 182.95,28.38 183.64,27.63 184.32,28.37 185,28.61 185.68,29.66 186.36,29.88" />
<polyline fill="none" stroke="#e27ae0" stroke-width="1.2" stroke-linejoin="round" stroke-linecap="round" points="188.41,31.46 189.09,31.59 189.77,31.74 190.45,31.11 191.13,31.02" />
<polyline fill="none" stroke="#4a1e52" stroke-width="0.8" stroke-linejoin="round" stroke-linecap="round" points="188.41,31.46 189.09,31.59 189.77,31.74 190.45,31.11 191.13,31.02" stroke-dasharray="1.5,2.5"/>
<polyline fill="none" stroke="#e27ae0" stroke-width="1.2" stroke-linejoin="round" stroke-linecap="round" points="191.82,30.31 192.5,30.05 193.18,29.65 193.86,29.88" />
<polyline fill="none" stroke="#e27ae0" stroke-width="1.2" stroke-linejoin="round" stroke-linecap="round" points="195.22,30.53 195.91,30.99 196.59,31.72" />
<polyline fill="none" stroke="#4a1e52" stroke-width="0.8" stroke-linejoin="round" stroke-linecap="round" points="195.22,30.53 195.91,30.99 196.59,31.72" stroke-dasharray="1.5,2.5"/>
<polyline fill="none" stroke="#e27ae0" stroke-width="1.2" stroke-linejoin="round" stroke-linecap="round" points="197.95,32.8 198.63,32.81 199.31,33.05 199.99,32.86" />
<polyline fill="none" stroke="#4a1e52" stroke-width="0.8" stroke-linejoin="round" stroke-linecap="round" points="197.95,32.8 198.63,32.81 199.31,33.05 199.99,32.86" stroke-dasharray="1.5,2.5"/>
<polyline fill="none" stroke="#e27ae0" stroke-width="1.2" stroke-linejoin="round" stroke-linecap="round" points="202.04,31.47 202.72,31.34 203.4,30.45 204.08,30.98 204.77,31.15 205.45,31.82" />
<polyline fill="none" stroke="#e27ae0" stroke-width="1.2" stroke-linejoin="round" stroke-linecap="round" points="206.13,32.4 206.81,32.81 207.49,33.48 208.17,34.11 208.86,34.07 209.54,33.48 210.22,33.41 210.9,33.31" />
<polyline fill="none" stroke="#4a1e52" stroke-width="0.8" stroke-linejoin="round" stroke-linecap="round" points="206.13,32.4 206.81,32.81 207.49,33.48 208.17,34.11 208.86,34.07 209.54,33.48 210.22,33.41 210.9,33.31" stroke-dasharray="1.5,2.5"/>
<polyline fill="none" stroke="#e27ae0" stroke-width="1.2" stroke-linejoin="round" stroke-linecap="round" points="212.95,31.56 213.63,31.64 214.31,31.9 214.99,31.89 215.67,32.08 216.35,32.93 217.03,33.41 217.72,34.41" />
<polyline fill="none" stroke="#e27ae0" stroke-width="1.9" stroke-linejoin="round" stroke-linecap="round" points="86.1,142.99 87.38,142.45 88.65,142.85 89.93,142.72 91.21,143.16 92.49,143.01 93.77,143.23 95.04,142.82 96.32,143.27 97.6,143.27 98.88,143.22 100.16,143.52 101.43,143.63 102.71,143.11 103.99,143.31 105.27,143.42 106.55,143.36 107.82,143.3 109.1,143.53 110.38,143.52 111.66,143.98 112.94,143.83 114.21,143.62 115.49,143.85 116.77,144.02 118.05,143.99 119.33,143.89 120.6,143.87 121.88,143.88 123.16,144.72 124.44,144.59 125.72,144.11 126.99,144.67 128.27,144.94 129.55,144.66 130.83,144.36 132.11,144.72 133.38,144.73 134.66,144.59 135.94,144.93 137.22,144.56 138.5,145.35 139.77,145.18" opacity="0.75"/>
<polyline fill="none" stroke="#4a1e52" stroke-width="1.1" stroke-linejoin="round" stroke-linecap="round" points="86.1,142.99 87.38,142.45 88.65,142.85 89.93,142.72 91.21,143.16 92.49,143.01 93.77,143.23 95.04,142.82 96.32,143.27 97.6,143.27 98.88,143.22 100.16,143.52 101.43,143.63 102.71,143.11 103.99,143.31 105.27,143.42 106.55,143.36 107.82,143.3 109.1,143.53 110.38,143.52 111.66,143.98 112.94,143.83 114.21,143.62 115.49,143.85 116.77,144.02 118.05,143.99 119.33,143.89 120.6,143.87 121.88,143.88 123.16,144.72 124.44,144.59 125.72,144.11 126.99,144.67 128.27,144.94 129.55,144.66 130.83,144.36 132.11,144.72 133.38,144.73 134.66,144.59 135.94,144.93 137.22,144.56 138.5,145.35 139.77,145.18" />
<polyline fill="none" stroke="#e27ae0" stroke-width="1.9" stroke-linejoin="round" stroke-linecap="round" points="86.1,133.09 87.38,132.88 88.65,132.99 89.93,133.02 91.21,133.04 92.49,133.75 93.77,133.92 95.04,133.6 96.32,133.62 97.6,134.1 98.88,134.38 100.16,134.56 101.43,134.06 102.71,134.67 103.99,134.82 105.27,134.86 106.55,134.65 107.82,134.64 109.1,135.27 110.38,134.98 111.66,135.13 112.94,135.39 114.21,135.36 115.49,135.84 116.77,135.48 118.05,135.44 119.33,135.97 120.6,136.14 121.88,136.4 123.16,136.42 124.44,136.7 125.72,136.84 126.99,136.6 128.27,136.71 129.55,136.55 130.83,136.78 132.11,137.12 133.38,136.83 134.66,137.43 135.94,137.13 137.22,137.46 138.5,138 139.77,137.41" opacity="0.75"/>
<polyline fill="none" stroke="#4a1e52" stroke-width="1.1" stroke-linejoin="round" stroke-linecap="round" points="86.1,133.09 87.38,132.88 88.65,132.99 89.93,133.02 91.21,133.04 92.49,133.75 93.77,133.92 95.04,133.6 96.32,133.62 97.6,134.1 98.88,134.38 100.16,134.56 101.43,134.06 102.71,134.67 103.99,134.82 105.27,134.86 106.55,134.65 107.82,134.64 109.1,135.27 110.38,134.98 111.66,135.13 112.94,135.39 114.21,135.36 115.49,135.84 116.77,135.48 118.05,135.44 119.33,135.97 120.6,136.14 121.88,136.4 123.16,136.42 124.44,136.7 125.72,136.84 126.99,136.6 128.27,136.71 129.55,136.55 130.83,136.78 132.11,137.12 133.38,136.83 134.66,137.43 135.94,137.13 137.22,137.46 138.5,138 139.77,137.41" />
<polyline fill="none" stroke="#e27ae0" stroke-width="1.4" stroke-linejoin="round" stroke-linecap="round" points="33.7,82.59 34.64,82.78 35.57,82.32 36.51,82.64 37.45,81.7 38.39,82.31" />
<polyline fill="none" stroke="#4a1e52" stroke-width="0.85" stroke-linejoin="round" stroke-linecap="round" points="33.7,82.59 34.64,82.78 35.57,82.32 36.51,82.64 37.45,81.7 38.39,82.31" stroke-dasharray="4.9,1.4"/>
<polyline fill="none" stroke="#e27ae0" stroke-width="1.4" stroke-linejoin="round" stroke-linecap="round" points="49.63,79.33 50.57,78.31 51.51,78.15 52.44,78.01 53.38,77.83 54.32,77.31 55.26,76.86 56.19,76.44" />
<polyline fill="none" stroke="#4a1e52" stroke-width="0.85" stroke-linejoin="round" stroke-linecap="round" points="49.63,79.33 50.57,78.31 51.51,78.15 52.44,78.01 53.38,77.83 54.32,77.31 55.26,76.86 56.19,76.44" stroke-dasharray="2.8,2.0"/>
<polyline fill="none" stroke="#e27ae0" stroke-width="1.4" stroke-linejoin="round" stroke-linecap="round" points="64.63,74.17 65.56,73.06 66.5,73.32 67.44,72.89" />
<polyline fill="none" stroke="#e27ae0" stroke-width="1.4" stroke-linejoin="round" stroke-linecap="round" points="70.25,72.11 71.19,71.26 72.13,71.04 73.06,70.3 74,69.95 74.94,70.09 75.87,68.83 76.81,68.58 77.75,68.66" />
<polyline fill="none" stroke="#4a1e52" stroke-width="0.85" stroke-linejoin="round" stroke-linecap="round" points="70.25,72.11 71.19,71.26 72.13,71.04 73.06,70.3 74,69.95 74.94,70.09 75.87,68.83 76.81,68.58 77.75,68.66" stroke-dasharray="3.3,2.7"/>
<polyline fill="none" stroke="#e27ae0" stroke-width="1.4" stroke-linejoin="round" stroke-linecap="round" points="33.7,75.3 34.64,75.3 35.57,74.92 36.51,75.11 37.45,74.09 38.39,74.12 39.32,73.48 40.26,73.51 41.2,73.49" />
<polyline fill="none" stroke="#e27ae0" stroke-width="1.4" stroke-linejoin="round" stroke-linecap="round" points="46.82,71.64 47.76,71 48.7,70.71 49.63,71.17 50.57,70.04 51.51,70.62" />
<polyline fill="none" stroke="#4a1e52" stroke-width="0.85" stroke-linejoin="round" stroke-linecap="round" points="46.82,71.64 47.76,71 48.7,70.71 49.63,71.17 50.57,70.04 51.51,70.62" stroke-dasharray="2.5,2.0"/>
<polyline fill="none" stroke="#e27ae0" stroke-width="1.4" stroke-linejoin="round" stroke-linecap="round" points="63.69,65.55 64.63,64.99 65.56,64.73 66.5,64.65" />
<polyline fill="none" stroke="#e27ae0" stroke-width="1.4" stroke-linejoin="round" stroke-linecap="round" points="74,60.82 74.94,60.71 75.87,59.59 76.81,60.1 77.75,59.1 78.69,58.98 79.62,58.21 80.56,57.32 81.5,57.03" />
<polyline fill="none" stroke="#4a1e52" stroke-width="0.85" stroke-linejoin="round" stroke-linecap="round" points="74,60.82 74.94,60.71 75.87,59.59 76.81,60.1 77.75,59.1 78.69,58.98 79.62,58.21 80.56,57.32 81.5,57.03" stroke-dasharray="4.5,1.8"/>
<polyline fill="none" stroke="#e27ae0" stroke-width="1.4" stroke-linejoin="round" stroke-linecap="round" points="84.31,56.18 85.25,55.47" />
<polyline fill="none" stroke="#4a1e52" stroke-width="0.85" stroke-linejoin="round" stroke-linecap="round" points="84.31,56.18 85.25,55.47" stroke-dasharray="4.7,2.2"/>
<polyline fill="none" stroke="#e27ae0" stroke-width="1.4" stroke-linejoin="round" stroke-linecap="round" points="33.7,67.35 34.64,67.71 35.57,67.36 36.51,66.7 37.45,66.56 38.39,66.76 39.32,65.86 40.26,65.59" />
<polyline fill="none" stroke="#4a1e52" stroke-width="0.85" stroke-linejoin="round" stroke-linecap="round" points="33.7,67.35 34.64,67.71 35.57,67.36 36.51,66.7 37.45,66.56 38.39,66.76 39.32,65.86 40.26,65.59" stroke-dasharray="3.7,1.6"/>
<polyline fill="none" stroke="#e27ae0" stroke-width="1.4" stroke-linejoin="round" stroke-linecap="round" points="44.01,64.94 44.95,64.35 45.88,64.06 46.82,63.83 47.76,62.92 48.7,62.82 49.63,62.16" />
<polyline fill="none" stroke="#4a1e52" stroke-width="0.85" stroke-linejoin="round" stroke-linecap="round" points="44.01,64.94 44.95,64.35 45.88,64.06 46.82,63.83 47.76,62.92 48.7,62.82 49.63,62.16" stroke-dasharray="2.9,2.5"/>
<polyline fill="none" stroke="#e27ae0" stroke-width="1.4" stroke-linejoin="round" stroke-linecap="round" points="60.88,58.16 61.82,57.27 62.75,57.55 63.69,57.13 64.63,56.14 65.56,56.27 66.5,55.17" />
<polyline fill="none" stroke="#4a1e52" stroke-width="0.85" stroke-linejoin="round" stroke-linecap="round" points="60.88,58.16 61.82,57.27 62.75,57.55 63.69,57.13 64.63,56.14 65.56,56.27 66.5,55.17" stroke-dasharray="5.0,1.7"/>
<polyline fill="none" stroke="#e27ae0" stroke-width="1.4" stroke-linejoin="round" stroke-linecap="round" points="83.37,46.34 84.31,45.85 85.25,45.98" />
<polyline fill="none" stroke="#e27ae0" stroke-width="1.4" stroke-linejoin="round" stroke-linecap="round" points="33.7,60.33 34.64,59.7 35.57,59.63 36.51,59.21 37.45,58.53" />
<polyline fill="none" stroke="#4a1e52" stroke-width="0.85" stroke-linejoin="round" stroke-linecap="round" points="33.7,60.33 34.64,59.7 35.57,59.63 36.51,59.21 37.45,58.53" stroke-dasharray="3.7,2.3"/>
<polyline fill="none" stroke="#e27ae0" stroke-width="1.4" stroke-linejoin="round" stroke-linecap="round" points="44.01,56.17 44.95,55.97 45.88,55.44 46.82,55.16" />
<polyline fill="none" stroke="#4a1e52" stroke-width="0.85" stroke-linejoin="round" stroke-linecap="round" points="44.01,56.17 44.95,55.97 45.88,55.44 46.82,55.16" stroke-dasharray="4.1,2.5"/>
<polyline fill="none" stroke="#e27ae0" stroke-width="1.4" stroke-linejoin="round" stroke-linecap="round" points="67.44,46.35 68.38,46.03 69.31,45.74 70.25,44.65 71.19,44.68 72.13,44.1 73.06,42.73" />
<polyline fill="none" stroke="#4a1e52" stroke-width="0.85" stroke-linejoin="round" stroke-linecap="round" points="67.44,46.35 68.38,46.03 69.31,45.74 70.25,44.65 71.19,44.68 72.13,44.1 73.06,42.73" stroke-dasharray="4.8,1.3"/>
<polyline fill="none" stroke="#e27ae0" stroke-width="1.4" stroke-linejoin="round" stroke-linecap="round" points="74.94,42.3 75.87,41.42 76.81,40.97 77.75,40.72 78.69,40.29 79.62,39.04 80.56,38.34" />
<polyline fill="none" stroke="#e27ae0" stroke-width="1.4" stroke-linejoin="round" stroke-linecap="round" points="33.7,51.88 34.64,52.06 35.57,51.52 36.51,51.79 37.45,51.43 38.39,50.79 39.32,49.96 40.26,50.05 41.2,49.36" />
<polyline fill="none" stroke="#4a1e52" stroke-width="0.85" stroke-linejoin="round" stroke-linecap="round" points="33.7,51.88 34.64,52.06 35.57,51.52 36.51,51.79 37.45,51.43 38.39,50.79 39.32,49.96 40.26,50.05 41.2,49.36" stroke-dasharray="2.3,1.0"/>
<polyline fill="none" stroke="#e27ae0" stroke-width="1.4" stroke-linejoin="round" stroke-linecap="round" points="45.88,48.24 46.82,47.83 47.76,47.43 48.7,46.95" />
<polyline fill="none" stroke="#e27ae0" stroke-width="1.4" stroke-linejoin="round" stroke-linecap="round" points="57.13,42.71 58.07,42.07 59,42.18 59.94,40.94" />
<polyline fill="none" stroke="#e27ae0" stroke-width="1.4" stroke-linejoin="round" stroke-linecap="round" points="85.67,122.81 86.61,123.76 87.55,124.04 88.48,123.33 89.42,123.12" />
<polyline fill="none" stroke="#4a1e52" stroke-width="0.85" stroke-linejoin="round" stroke-linecap="round" points="85.67,122.81 86.61,123.76 87.55,124.04 88.48,123.33 89.42,123.12" stroke-dasharray="2.1,1.9"/>
<polyline fill="none" stroke="#e27ae0" stroke-width="1.4" stroke-linejoin="round" stroke-linecap="round" points="95.04,124.73 95.98,124.09 96.92,124.3 97.86,125.04 98.79,124.45 99.73,124.87 100.67,125.69" />
<polyline fill="none" stroke="#4a1e52" stroke-width="0.85" stroke-linejoin="round" stroke-linecap="round" points="95.04,124.73 95.98,124.09 96.92,124.3 97.86,125.04 98.79,124.45 99.73,124.87 100.67,125.69" stroke-dasharray="5.0,2.5"/>
<polyline fill="none" stroke="#e27ae0" stroke-width="1.4" stroke-linejoin="round" stroke-linecap="round" points="106.29,126.29 107.23,126.29 108.16,125.64 109.1,126.32 110.04,126.12 110.98,126.48" />
<polyline fill="none" stroke="#4a1e52" stroke-width="0.85" stroke-linejoin="round" stroke-linecap="round" points="106.29,126.29 107.23,126.29 108.16,125.64 109.1,126.32 110.04,126.12 110.98,126.48" stroke-dasharray="3.1,1.3"/>
<polyline fill="none" stroke="#e27ae0" stroke-width="1.4" stroke-linejoin="round" stroke-linecap="round" points="125.03,127.97 125.97,128.39 126.91,128.68 127.85,129.32" />
<polyline fill="none" stroke="#e27ae0" stroke-width="1.4" stroke-linejoin="round" stroke-linecap="round" points="133.47,129.29 134.41,129.3 135.34,129.53 136.28,129.42 137.22,129.51 138.16,130.2 139.09,130.2 140.03,130.5" />
<polyline fill="none" stroke="#4a1e52" stroke-width="0.85" stroke-linejoin="round" stroke-linecap="round" points="133.47,129.29 134.41,129.3 135.34,129.53 136.28,129.42 137.22,129.51 138.16,130.2 139.09,130.2 140.03,130.5" stroke-dasharray="2.7,1.4"/>
<polyline fill="none" stroke="#e27ae0" stroke-width="1.4" stroke-linejoin="round" stroke-linecap="round" points="85.67,112.96 86.61,113.77 87.55,113.23 88.48,114.22 89.42,114.01" />
<polyline fill="none" stroke="#e27ae0" stroke-width="1.4" stroke-linejoin="round" stroke-linecap="round" points="95.04,115.22 95.98,115.26 96.92,115.63 97.86,115.59 98.79,115.6 99.73,116.01" />
<polyline fill="none" stroke="#4a1e52" stroke-width="0.85" stroke-linejoin="round" stroke-linecap="round" points="95.04,115.22 95.98,115.26 96.92,115.63 97.86,115.59 98.79,115.6 99.73,116.01" stroke-dasharray="2.9,1.9"/>
<polyline fill="none" stroke="#e27ae0" stroke-width="1.4" stroke-linejoin="round" stroke-linecap="round" points="102.54,116.81 103.48,117.07 104.42,116.62 105.35,116.43 106.29,117.69 107.23,117.01" />
<polyline fill="none" stroke="#e27ae0" stroke-width="1.4" stroke-linejoin="round" stroke-linecap="round" points="110.98,118.31 111.91,118.32 112.85,118.8 113.79,118.77 114.73,118.34 115.66,119.2 116.6,119.38 117.54,118.94 118.47,119.39" />
<polyline fill="none" stroke="#4a1e52" stroke-width="0.85" stroke-linejoin="round" stroke-linecap="round" points="110.98,118.31 111.91,118.32 112.85,118.8 113.79,118.77 114.73,118.34 115.66,119.2 116.6,119.38 117.54,118.94 118.47,119.39" stroke-dasharray="2.4,2.0"/>
<polyline fill="none" stroke="#e27ae0" stroke-width="1.4" stroke-linejoin="round" stroke-linecap="round" points="123.16,119.96 124.1,119.93 125.03,120.05 125.97,120.46 126.91,120.99 127.85,120.53 128.78,121.31" />
<polyline fill="none" stroke="#4a1e52" stroke-width="0.85" stroke-linejoin="round" stroke-linecap="round" points="123.16,119.96 124.1,119.93 125.03,120.05 125.97,120.46 126.91,120.99 127.85,120.53 128.78,121.31" stroke-dasharray="3.1,1.0"/>
<polyline fill="none" stroke="#e27ae0" stroke-width="1.4" stroke-linejoin="round" stroke-linecap="round" points="133.47,122.44 134.41,121.9 135.34,122.12" />
<polyline fill="none" stroke="#4a1e52" stroke-width="0.85" stroke-linejoin="round" stroke-linecap="round" points="133.47,122.44 134.41,121.9 135.34,122.12" stroke-dasharray="2.5,2.4"/>
<polyline fill="none" stroke="#e27ae0" stroke-width="1.4" stroke-linejoin="round" stroke-linecap="round" points="94.11,105.35 95.04,106.14 95.98,106.52 96.92,106.48 97.86,106.28 98.79,106.09" />
<polyline fill="none" stroke="#e27ae0" stroke-width="1.4" stroke-linejoin="round" stroke-linecap="round" points="113.79,109.46 114.73,110.11 115.66,110.26 116.6,110.49 117.54,111.32 118.47,111.18 119.41,111.57 120.35,110.95" />
<polyline fill="none" stroke="#e27ae0" stroke-width="1.4" stroke-linejoin="round" stroke-linecap="round" points="127.85,112.97 128.78,112.86 129.72,113.81 130.66,113.13 131.59,113.6 132.53,113.77 133.47,114.39 134.41,115.06 135.34,114.51" />
<polyline fill="none" stroke="#e27ae0" stroke-width="1.4" stroke-linejoin="round" stroke-linecap="round" points="137.22,115.04 138.16,115.33 139.09,115.09 140.03,116.21" />
<polyline fill="none" stroke="#4a1e52" stroke-width="0.85" stroke-linejoin="round" stroke-linecap="round" points="137.22,115.04 138.16,115.33 139.09,115.09 140.03,116.21" stroke-dasharray="2.6,3.0"/>
<polyline fill="none" stroke="#e27ae0" stroke-width="1.4" stroke-linejoin="round" stroke-linecap="round" points="85.67,94.58 86.61,93.97 87.55,94.2 88.48,94.51 89.42,94.69 90.36,95.67 91.3,95.55 92.23,95.75 93.17,95.89" />
<polyline fill="none" stroke="#e27ae0" stroke-width="1.4" stroke-linejoin="round" stroke-linecap="round" points="97.86,97.66 98.79,97.19 99.73,97.38 100.67,97.45 101.6,98.28 102.54,98.33 103.48,98.69" />
<polyline fill="none" stroke="#4a1e52" stroke-width="0.85" stroke-linejoin="round" stroke-linecap="round" points="97.86,97.66 98.79,97.19 99.73,97.38 100.67,97.45 101.6,98.28 102.54,98.33 103.48,98.69" stroke-dasharray="4.4,2.9"/>
<polyline fill="none" stroke="#e27ae0" stroke-width="1.4" stroke-linejoin="round" stroke-linecap="round" points="110.98,100.19 111.91,100.76 112.85,101.27 113.79,101.37" />
<polyline fill="none" stroke="#4a1e52" stroke-width="0.85" stroke-linejoin="round" stroke-linecap="round" points="110.98,100.19 111.91,100.76 112.85,101.27 113.79,101.37" stroke-dasharray="4.7,2.4"/>
<polyline fill="none" stroke="#e27ae0" stroke-width="1.4" stroke-linejoin="round" stroke-linecap="round" points="117.54,102.84 118.47,102.48 119.41,103.23 120.35,103.59 121.29,103.59 122.22,103.67 123.16,104.5 124.1,104.16 125.03,104.93" />
<polyline fill="none" stroke="#e27ae0" stroke-width="1.4" stroke-linejoin="round" stroke-linecap="round" points="135.34,107.59 136.28,107.47 137.22,107.93 138.16,108.18 139.09,107.98 140.03,108.13" />
<polyline fill="none" stroke="#4a1e52" stroke-width="0.85" stroke-linejoin="round" stroke-linecap="round" points="135.34,107.59 136.28,107.47 137.22,107.93 138.16,108.18 139.09,107.98 140.03,108.13" stroke-dasharray="3.0,2.1"/>
<polyline fill="none" stroke="#e27ae0" stroke-width="1.4" stroke-linejoin="round" stroke-linecap="round" points="95.04,86.92 95.98,87.64 96.92,87.98 97.86,87.68 98.79,87.91 99.73,88.24" />
<polyline fill="none" stroke="#4a1e52" stroke-width="0.85" stroke-linejoin="round" stroke-linecap="round" points="95.04,86.92 95.98,87.64 96.92,87.98 97.86,87.68 98.79,87.91 99.73,88.24" stroke-dasharray="3.7,1.8"/>
<polyline fill="none" stroke="#e27ae0" stroke-width="1.4" stroke-linejoin="round" stroke-linecap="round" points="103.48,89.61 104.42,90.27 105.35,90.02 106.29,90.85 107.23,90.98 108.16,90.73" />
<polyline fill="none" stroke="#4a1e52" stroke-width="0.85" stroke-linejoin="round" stroke-linecap="round" points="103.48,89.61 104.42,90.27 105.35,90.02 106.29,90.85 107.23,90.98 108.16,90.73" stroke-dasharray="3.1,2.3"/>
<polyline fill="none" stroke="#e27ae0" stroke-width="1.4" stroke-linejoin="round" stroke-linecap="round" points="111.91,92.88 112.85,93.2 113.79,92.64 114.73,93.02 115.66,93.34" />
<polyline fill="none" stroke="#e27ae0" stroke-width="1.4" stroke-linejoin="round" stroke-linecap="round" points="132.53,98.8 133.47,98.91 134.41,99.24 135.34,99.23 136.28,100.39" />
<polyline fill="none" stroke="#4a1e52" stroke-width="0.85" stroke-linejoin="round" stroke-linecap="round" points="132.53,98.8 133.47,98.91 134.41,99.24 135.34,99.23 136.28,100.39" stroke-dasharray="4.6,1.2"/>
<polyline fill="none" stroke="#e27ae0" stroke-width="1.4" stroke-linejoin="round" stroke-linecap="round" points="85.67,74.24 86.61,74.9 87.55,74.97 88.48,75.21" />
<polyline fill="none" stroke="#4a1e52" stroke-width="0.85" stroke-linejoin="round" stroke-linecap="round" points="85.67,74.24 86.61,74.9 87.55,74.97 88.48,75.21" stroke-dasharray="3.0,3.0"/>
<polyline fill="none" stroke="#e27ae0" stroke-width="1.4" stroke-linejoin="round" stroke-linecap="round" points="99.73,79.03 100.67,79.37 101.6,79.64 102.54,80.86 103.48,81.09 104.42,80.83" />
<polyline fill="none" stroke="#4a1e52" stroke-width="0.85" stroke-linejoin="round" stroke-linecap="round" points="99.73,79.03 100.67,79.37 101.6,79.64 102.54,80.86 103.48,81.09 104.42,80.83" stroke-dasharray="2.2,2.2"/>
<polyline fill="none" stroke="#e27ae0" stroke-width="1.4" stroke-linejoin="round" stroke-linecap="round" points="111.91,83.37 112.85,84.26 113.79,84.05 114.73,85.04 115.66,84.84 116.6,85.2 117.54,86.17 118.47,86.19 119.41,86.89" />
<polyline fill="none" stroke="#4a1e52" stroke-width="0.85" stroke-linejoin="round" stroke-linecap="round" points="111.91,83.37 112.85,84.26 113.79,84.05 114.73,85.04 115.66,84.84 116.6,85.2 117.54,86.17 118.47,86.19 119.41,86.89" stroke-dasharray="4.0,2.9"/>
<polyline fill="none" stroke="#e27ae0" stroke-width="1.4" stroke-linejoin="round" stroke-linecap="round" points="139.09,93.86 140.03,94.16" />
<rect x="204.6" y="97.15" width="1.8" height="1.3" fill="#e27ae0"/>
<rect x="191" y="103.4" width="1.8" height="1.3" fill="#e27ae0"/>
<rect x="145.49" y="63.34" width="1.8" height="1.3" fill="#e27ae0"/>
<rect x="189.63" y="101.46" width="1.8" height="1.3" fill="#e27ae0"/>
<rect x="198.21" y="48.45" width="1.8" height="1.3" fill="#e27ae0"/>
<rect x="215.16" y="73.86" width="1.8" height="1.3" fill="#e27ae0"/>
<rect x="212.34" y="28.45" width="1.8" height="1.3" fill="#e27ae0"/>
<rect x="216.57" y="101.79" width="1.8" height="1.3" fill="#e27ae0"/>
<rect x="81.88" y="107.35" width="1.8" height="1.3" fill="#e27ae0"/>
<rect x="78.13" y="37.42" width="1.8" height="1.3" fill="#e27ae0"/>
<rect x="205.23" y="90.64" width="1.8" height="1.3" fill="#e27ae0"/>
<rect x="168.05" y="58.61" width="1.8" height="1.3" fill="#e27ae0"/>
<rect x="181.86" y="102.47" width="1.8" height="1.3" fill="#e27ae0"/>
<rect x="162.88" y="118.63" width="1.8" height="1.3" fill="#e27ae0"/>
<rect x="189.74" y="60.16" width="1.8" height="1.3" fill="#e27ae0"/>
<rect x="50.87" y="87.05" width="1.8" height="1.3" fill="#e27ae0"/>
<rect x="191.72" y="52.88" width="1.8" height="1.3" fill="#e27ae0"/>
<rect x="146.33" y="107.12" width="1.8" height="1.3" fill="#e27ae0"/>
<rect x="183.57" y="16.29" width="1.8" height="1.3" fill="#e27ae0"/>
<rect x="187.23" y="61.52" width="1.8" height="1.3" fill="#e27ae0"/>
<rect x="148.19" y="65.76" width="1.8" height="1.3" fill="#e27ae0"/>
<rect x="193.27" y="83.42" width="1.8" height="1.3" fill="#e27ae0"/>
<rect x="166.32" y="64.07" width="1.8" height="1.3" fill="#e27ae0"/>
<rect x="158.77" y="103.94" width="1.8" height="1.3" fill="#e27ae0"/>
<rect x="57.19" y="90.38" width="1.8" height="1.3" fill="#e27ae0"/>
<rect x="42.31" y="105.66" width="1.8" height="1.3" fill="#e27ae0"/>
<rect x="69.11" y="45.45" width="1.8" height="1.3" fill="#e27ae0"/>
<rect x="214.55" y="55.37" width="1.8" height="1.3" fill="#e27ae0"/>
<rect x="76.65" y="112.97" width="1.8" height="1.3" fill="#e27ae0"/>
<rect x="149.23" y="113.41" width="1.8" height="1.3" fill="#e27ae0"/>
<rect x="108.64" y="70.36" width="1.8" height="1.3" fill="#e27ae0"/>
<rect x="129.77" y="123.75" width="1.8" height="1.3" fill="#e27ae0"/>
<rect x="70.12" y="106.5" width="1.8" height="1.3" fill="#e27ae0"/>
<rect x="65" y="73.37" width="1.8" height="1.3" fill="#e27ae0"/>
<rect x="34.57" y="34.95" width="1.8" height="1.3" fill="#e27ae0"/>
<rect x="212.16" y="65.44" width="1.8" height="1.3" fill="#e27ae0"/>
<rect x="186.67" y="43.19" width="1.8" height="1.3" fill="#e27ae0"/>
<rect x="196.6" y="71.91" width="1.8" height="1.3" fill="#e27ae0"/>
<rect x="105.32" y="117.2" width="1.8" height="1.3" fill="#e27ae0"/>
<rect x="202.53" y="88.56" width="1.8" height="1.3" fill="#e27ae0"/>
<rect x="48.77" y="83.94" width="1.8" height="1.3" fill="#e27ae0"/>
<rect x="117.99" y="120.4" width="1.8" height="1.3" fill="#e27ae0"/>
<rect x="205.05" y="70.19" width="1.8" height="1.3" fill="#e27ae0"/>
<rect x="102.88" y="122.4" width="1.8" height="1.3" fill="#e27ae0"/>
<rect x="45.21" y="106.96" width="1.8" height="1.3" fill="#e27ae0"/>
<rect x="163" y="76.67" width="1.8" height="1.3" fill="#e27ae0"/>
<rect x="118.67" y="97.82" width="1.8" height="1.3" fill="#e27ae0"/>
<rect x="202.03" y="95.39" width="1.8" height="1.3" fill="#e27ae0"/>
<rect x="175.47" y="19.63" width="1.8" height="1.3" fill="#e27ae0"/>
<rect x="95.64" y="30.76" width="1.8" height="1.3" fill="#e27ae0"/>
<rect x="202.09" y="31.58" width="1.8" height="1.3" fill="#e27ae0"/>
<rect x="144.96" y="78.78" width="1.8" height="1.3" fill="#e27ae0"/>
<rect x="43.27" y="58.63" width="1.8" height="1.3" fill="#e27ae0"/>
<rect x="175.01" y="85.85" width="1.8" height="1.3" fill="#e27ae0"/>
<rect x="87.3" y="99.06" width="1.8" height="1.3" fill="#e27ae0"/>
<rect x="218.39" y="86.65" width="1.8" height="1.3" fill="#e27ae0"/>
<rect x="185.82" y="89.67" width="1.8" height="1.3" fill="#e27ae0"/>
<rect x="106.03" y="120.96" width="1.8" height="1.3" fill="#e27ae0"/>
<rect x="167.92" y="91.24" width="1.8" height="1.3" fill="#e27ae0"/>
<rect x="189.76" y="102.47" width="1.8" height="1.3" fill="#e27ae0"/>
<rect x="199.45" y="33.51" width="1.8" height="1.3" fill="#e27ae0"/>
<rect x="173.31" y="34.44" width="1.8" height="1.3" fill="#e27ae0"/>
<rect x="106.5" y="121.39" width="1.8" height="1.3" fill="#e27ae0"/>
<rect x="215.38" y="36.24" width="1.8" height="1.3" fill="#e27ae0"/>
<rect x="92.67" y="118.85" width="1.8" height="1.3" fill="#e27ae0"/>
<rect x="71.6" y="50.84" width="1.8" height="1.3" fill="#e27ae0"/>
<rect x="108.57" y="57.9" width="1.8" height="1.3" fill="#e27ae0"/>
<rect x="84.67" y="38.07" width="1.8" height="1.3" fill="#e27ae0"/>
<rect x="205.35" y="64.97" width="1.8" height="1.3" fill="#e27ae0"/>
<rect x="191.88" y="85.37" width="1.8" height="1.3" fill="#e27ae0"/>
<rect x="180.89" y="50.17" width="1.8" height="1.3" fill="#e27ae0"/>
<rect x="63.09" y="98.47" width="1.8" height="1.3" fill="#e27ae0"/>
<rect x="175.99" y="45.87" width="1.8" height="1.3" fill="#e27ae0"/>
<rect x="102.7" y="115.99" width="1.8" height="1.3" fill="#e27ae0"/>
<rect x="83.33" y="100.03" width="1.8" height="1.3" fill="#e27ae0"/>
<rect x="42.27" y="106.07" width="1.8" height="1.3" fill="#e27ae0"/>
<rect x="141" y="54.42" width="1.8" height="1.3" fill="#e27ae0"/>
<rect x="211.21" y="44.79" width="1.8" height="1.3" fill="#e27ae0"/>
<rect x="80.25" y="23.43" width="1.8" height="1.3" fill="#e27ae0"/>
<rect x="137.63" y="98.11" width="1.8" height="1.3" fill="#e27ae0"/>
<rect x="161.98" y="60.87" width="1.8" height="1.3" fill="#e27ae0"/>
<rect x="186.36" y="27.95" width="1.8" height="1.3" fill="#e27ae0"/>
<rect x="92.21" y="86.21" width="1.8" height="1.3" fill="#e27ae0"/>
<rect x="153.67" y="91.37" width="1.8" height="1.3" fill="#e27ae0"/>
<rect x="180.13" y="58.88" width="1.8" height="1.3" fill="#e27ae0"/>
<rect x="211.29" y="96.88" width="1.8" height="1.3" fill="#e27ae0"/>
<rect x="100.25" y="36.08" width="1.8" height="1.3" fill="#e27ae0"/>
<rect x="203.98" y="30.39" width="1.8" height="1.3" fill="#e27ae0"/>
<rect x="128.9" y="108.83" width="1.8" height="1.3" fill="#e27ae0"/>
<rect x="160.05" y="78.9" width="1.8" height="1.3" fill="#e27ae0"/>
<rect x="193.32" y="101.9" width="1.8" height="1.3" fill="#e27ae0"/>
<rect x="192.12" y="32.31" width="1.8" height="1.3" fill="#e27ae0"/>
</g>
<line x1="33.5" x2="224.5" y1="135.2" y2="135.2" stroke="#000" stroke-opacity="0.13" stroke-width="0.5"/>
<line x1="33.5" x2="224.5" y1="118" y2="118" stroke="#000" stroke-opacity="0.13" stroke-width="0.5"/>
<line x1="33.5" x2="224.5" y1="100.8" y2="100.8" stroke="#000" stroke-opacity="0.13" stroke-width="0.5"/>
<line x1="33.5" x2="224.5" y1="83.6" y2="83.6" stroke="#000" stroke-opacity="0.13" stroke-width="0.5"/>
<line x1="33.5" x2="224.5" y1="66.4" y2="66.4" stroke="#000" stroke-opacity="0.13" stroke-width="0.5"/>
<line x1="33.5" x2="224.5" y1="49.2" y2="49.2" stroke="#000" stroke-opacity="0.13" stroke-width="0.5"/>
<line x1="33.5" x2="224.5" y1="32" y2="32" stroke="#000" stroke-opacity="0.13" stroke-width="0.5"/>
<rect x="33.5" y="14.8" width="191" height="137.4" fill="none" stroke="#8a8a8a" stroke-width="0.5"/>
<text x="31.2" y="155.5" font-size="7.0" text-anchor="end" fill="#262626" font-weight="normal" >0</text>
<text x="31.2" y="138.3" font-size="7.0" text-anchor="end" fill="#262626" font-weight="normal" >500</text>
<text x="31.2" y="121.1" font-size="7.0" text-anchor="end" fill="#262626" font-weight="normal" >1000</text>
<text x="31.2" y="103.9" font-size="7.0" text-anchor="end" fill="#262626" font-weight="normal" >1500</text>
<text x="31.2" y="86.7" font-size="7.0" text-anchor="end" fill="#262626" font-weight="normal" >2000</text>
<text x="31.2" y="69.5" font-size="7.0" text-anchor="end" fill="#262626" font-weight="normal" >2500</text>
<text x="31.2" y="52.3" font-size="7.0" text-anchor="end" fill="#262626" font-weight="normal" >3000</text>
<text x="31.2" y="35.1" font-size="7.0" text-anchor="end" fill="#262626" font-weight="normal" >3500</text>
<text x="31.2" y="17.9" font-size="7.0" text-anchor="end" fill="#262626" font-weight="normal" >4000</text>
<text x="55" y="162" font-size="7.0" text-anchor="middle" fill="#262626" font-weight="normal" >50</text>
<text x="76.3" y="162" font-size="7.0" text-anchor="middle" fill="#262626" font-weight="normal" >100</text>
<text x="97.6" y="162" font-size="7.0" text-anchor="middle" fill="#262626" font-weight="normal" >150</text>
<text x="118.9" y="162" font-size="7.0" text-anchor="middle" fill="#262626" font-weight="normal" >200</text>
<text x="140.2" y="162" font-size="7.0" text-anchor="middle" fill="#262626" font-weight="normal" >250</text>
<text x="161.5" y="162" font-size="7.0" text-anchor="middle" fill="#262626" font-weight="normal" >300</text>
<text x="182.8" y="162" font-size="7.0" text-anchor="middle" fill="#262626" font-weight="normal" >350</text>
<text x="204.1" y="162" font-size="7.0" text-anchor="middle" fill="#262626" font-weight="normal" >400</text>
<text x="129.2" y="171.8" font-size="7.5" text-anchor="middle" fill="#262626" font-weight="normal" textLength="41.3" lengthAdjust="spacingAndGlyphs">Time (msec)</text>
<text x="0" y="0" font-size="8.0" text-anchor="middle" fill="#262626" font-weight="normal" transform="translate(10.1,84.7) rotate(-90)" textLength="57.4" lengthAdjust="spacingAndGlyphs">Frequency (Hz)</text>
<text x="128.2" y="10" font-size="8.6" text-anchor="middle" fill="#262626" font-weight="bold" textLength="83.6" lengthAdjust="spacingAndGlyphs" fill="#1a1a1a" stroke="#1a1a1a" stroke-width="0.28">(a) Spectral Features</text>
<rect x="226.6" y="25.7" width="6.5" height="112.8" fill="url(#cbar)"/>
<text x="235" y="29.2" font-size="7.0" text-anchor="start" fill="#262626" font-weight="normal" >1</text>
<text x="235" y="142" font-size="7.0" text-anchor="start" fill="#262626" font-weight="normal" >0</text>
<rect x="244.6" y="15" width="191.6" height="5.5" fill="#f6dacb"/>
<rect x="244.6" y="26" width="191.6" height="12.9" fill="#c9ddef"/>
<rect x="244.6" y="43" width="191.6" height="11.5" fill="#eec9d2"/>
<rect x="244.6" y="57.4" width="191.6" height="10.4" fill="#d7ebf7"/>
<rect x="244.6" y="71" width="191.6" height="9.4" fill="#dfe9cf"/>
<rect x="244.6" y="81.6" width="191.6" height="8.2" fill="#e5d6ec"/>
<rect x="244.6" y="90.6" width="191.6" height="4.7" fill="#fbeacf"/>
<rect x="244.6" y="96.8" width="191.6" height="4.4" fill="#f8ddd3"/>
<rect x="244.6" y="104.6" width="191.6" height="5.2" fill="#d3e3f2"/>
<rect x="244.6" y="111.6" width="191.6" height="5" fill="#f0d3da"/>
<rect x="244.6" y="118.76" width="191.6" height="5.37" fill="#d6ebf7"/>
<rect x="244.6" y="125.83" width="191.6" height="4.67" fill="#e0e9d3"/>
<rect x="244.6" y="132.08" width="191.6" height="4.21" fill="#e4d6ec"/>
<rect x="244.6" y="137.66" width="191.6" height="3.67" fill="#fcecd2"/>
<rect x="244.6" y="142.5" width="191.6" height="3.15" fill="#f8ddd4"/>
<rect x="244.6" y="146.7" width="191.6" height="3.27" fill="#d2e3f2"/>
<line x1="244.6" x2="436.2" y1="135.2" y2="135.2" stroke="#000" stroke-opacity="0.06" stroke-width="0.5"/>
<line x1="244.6" x2="436.2" y1="118" y2="118" stroke="#000" stroke-opacity="0.06" stroke-width="0.5"/>
<line x1="244.6" x2="436.2" y1="100.8" y2="100.8" stroke="#000" stroke-opacity="0.06" stroke-width="0.5"/>
<line x1="244.6" x2="436.2" y1="83.6" y2="83.6" stroke="#000" stroke-opacity="0.06" stroke-width="0.5"/>
<line x1="244.6" x2="436.2" y1="66.4" y2="66.4" stroke="#000" stroke-opacity="0.06" stroke-width="0.5"/>
<line x1="244.6" x2="436.2" y1="49.2" y2="49.2" stroke="#000" stroke-opacity="0.06" stroke-width="0.5"/>
<line x1="244.6" x2="436.2" y1="32" y2="32" stroke="#000" stroke-opacity="0.06" stroke-width="0.5"/>
<polyline fill="none" stroke="#2ee68a" stroke-width="1.6" stroke-linejoin="round" stroke-linecap="round" points="245.23,144.68 246.5,144.85 247.78,144.98 249.06,144.99 250.34,145.04 251.62,144.98 252.89,145.04 254.17,144.71 255.45,144.72 256.73,144.72 258.01,144.66 259.28,144.44 260.56,144.15 261.84,144.18 263.12,144.3 264.4,144.11 265.67,143.92 266.95,143.77 268.23,143.57 269.51,143.69 270.79,143.92 272.06,144.01 273.34,143.85 274.62,143.88 275.9,143.58 277.18,143.72 278.45,143.55 279.73,143.25 281.01,143.31 282.29,143.1 283.57,142.98 284.84,142.77 286.12,142.78 287.4,142.83 288.68,142.99 289.96,142.71 291.23,142.87 292.51,142.63 293.79,142.48 295.07,142.55 296.35,142.44" />
<polyline fill="none" stroke="#f23a22" stroke-width="1.6" stroke-linejoin="round" stroke-linecap="round" points="245.23,136.83 246.5,136.94 247.78,136.72 249.06,136.85 250.34,136.92 251.62,136.82 252.89,136.48 254.17,136.56 255.45,136.23 256.73,136.19 258.01,136.1 259.28,135.83 260.56,135.88 261.84,135.95 263.12,135.91 264.4,135.77 265.67,135.7 266.95,135.65 268.23,135.42 269.51,135.53 270.79,135.66 272.06,135.65 273.34,135.7 274.62,135.4 275.9,135.46 277.18,135.03 278.45,134.87 279.73,134.54 281.01,134.42 282.29,134.41 283.57,134.39 284.84,134.22 286.12,134 287.4,133.73 288.68,133.59 289.96,133.39 291.23,133.16 292.51,133.22 293.79,133.13 295.07,132.99 296.35,132.72" />
<polyline fill="none" stroke="#2a92f2" stroke-width="1.6" stroke-linejoin="round" stroke-linecap="round" points="245.23,129.13 246.5,129.09 247.78,129.11 249.06,129.23 250.34,129.2 251.62,129.25 252.89,129.25 254.17,129.13 255.45,129 256.73,128.55 258.01,128.23 259.28,127.85 260.56,127.95 261.84,127.93 263.12,127.83 264.4,127.55 265.67,127.34 266.95,127.04 268.23,127.01 269.51,127.13 270.79,126.85 272.06,126.46 273.34,126.19 274.62,126.03 275.9,126.13 277.18,126.14 278.45,125.93 279.73,125.55 281.01,125.21 282.29,124.93 283.57,124.98 284.84,124.83 286.12,124.93 287.4,124.93 288.68,124.83 289.96,124.55 291.23,124.46 292.51,124 293.79,123.58 295.07,123.43 296.35,123.24" />
<polyline fill="none" stroke="#2ee6b0" stroke-width="1.6" stroke-linejoin="round" stroke-linecap="round" points="245.23,121.3 246.5,121.42 247.78,121.39 249.06,121.46 250.34,121.5 251.62,121.23 252.89,121.12 254.17,120.84 255.45,120.79 256.73,120.73 258.01,120.29 259.28,119.84 260.56,119.55 261.84,119.47 263.12,119.26 264.4,118.86 265.67,118.92 266.95,118.91 268.23,118.69 269.51,118.27 270.79,118.31 272.06,118.12 273.34,117.7 274.62,117.44 275.9,117.33 277.18,117.34 278.45,117.09 279.73,116.93 281.01,116.53 282.29,116.18 283.57,116.18 284.84,115.87 286.12,115.43 287.4,115.27 288.68,114.86 289.96,114.51 291.23,114.31 292.51,114.15 293.79,114 295.07,113.85 296.35,113.55" />
<polyline fill="none" stroke="#3ce860" stroke-width="1.6" stroke-linejoin="round" stroke-linecap="round" points="245.23,113.42 246.5,113.31 247.78,113.13 249.06,113.19 250.34,113.24 251.62,112.81 252.89,112.8 254.17,112.78 255.45,112.53 256.73,111.99 258.01,112.21 259.28,112.05 260.56,111.4 261.84,111 263.12,111.29 264.4,110.8 265.67,110.51 266.95,110.58 268.23,110.61 269.51,110.42 270.79,110.31 272.06,109.53 273.34,108.91 274.62,109.14 275.9,109.12 277.18,108.36 278.45,107.7 279.73,107.28 281.01,107.51 282.29,106.99 283.57,106.92 284.84,107.03 286.12,106.8 287.4,106.8 288.68,106.14 289.96,105.45 291.23,104.7 292.51,104.7 293.79,104.05 295.07,104.23 296.35,104.07" />
<polyline fill="none" stroke="#48ec48" stroke-width="1.6" stroke-linejoin="round" stroke-linecap="round" points="245.23,105.8 246.5,105.68 247.78,105.18 249.06,105.34 250.34,105.52 251.62,105.64 252.89,104.87 254.17,104.96 255.45,104.72 256.73,104.72 258.01,104.37 259.28,104.15 260.56,103.89 261.84,103.82 263.12,103.05 264.4,102.36 265.67,102.18 266.95,101.76 268.23,101.45 269.51,100.79 270.79,100.86 272.06,100.21 273.34,100.34 274.62,100.37 275.9,100 277.18,99.34 278.45,99.21 279.73,98.64 281.01,98.31 282.29,97.68 283.57,97.89 284.84,97.59 286.12,97.09 287.4,96.39 288.68,96.32 289.96,96.29 291.23,96.19 292.51,95.35 293.79,94.83 295.07,94.28 296.35,94.16" />
<polyline fill="none" stroke="#3ee878" stroke-width="1.6" stroke-linejoin="round" stroke-linecap="round" points="245.23,98.82 246.5,98.75 247.78,97.96 249.06,97.34 250.34,96.82 251.62,96.88 252.89,96.78 254.17,96.57 255.45,96.29 256.73,95.96 258.01,95.82 259.28,95.68 260.56,95.74 261.84,95.56 263.12,95.41 264.4,95.32 265.67,95.11 266.95,94.77 268.23,93.81 269.51,93.55 270.79,93.42 272.06,92.86 273.34,92.74 274.62,91.94 275.9,91.91 277.18,91.35 278.45,91.06 279.73,90.33 281.01,89.71 282.29,89.17 283.57,88.63 284.84,87.9 286.12,87.54 287.4,87.65 288.68,87.34 289.96,87.26 291.23,86.94 292.51,86.66" />
<polyline fill="none" stroke="#b8f040" stroke-width="1.6" stroke-linejoin="round" stroke-linecap="round" points="248.21,89.87 249.49,89.41 250.76,89.13 252.04,88.49 253.32,88.1 254.6,88.32 255.88,88.45 257.15,87.96 258.43,87.89 259.71,87.77 260.99,87.7 262.27,87.48 263.54,87 264.82,86.15 266.1,86.03 267.38,85.4 268.66,85.1 269.93,84.54 271.21,84.15 272.49,84.15 273.77,83.33 275.05,82.92 276.32,82.6 277.6,82.16 278.88,82.07 280.16,81.43 281.44,81.27 282.71,80.84 283.99,80.65 285.27,79.6 286.55,78.77 287.83,78.07 289.1,77.96 290.38,76.97 291.66,76.28" />
<polyline fill="none" stroke="#34e890" stroke-width="1.6" stroke-linejoin="round" stroke-linecap="round" points="296.77,142.44 298.05,142.5 299.33,142.73 300.61,142.93 301.88,143.14 303.16,143.32 304.44,143.13 305.72,142.99 307,142.73 308.27,143 309.55,142.89 310.83,142.85 312.11,143.32 313.39,143.48 314.66,143.58 315.94,143.73 317.22,143.81 318.5,143.95 319.78,143.81 321.05,143.54 322.33,143.33 323.61,143.14 324.89,143.24 326.17,143.18 327.44,143.13 328.72,143.36 330,143.89 331.28,144.13 332.56,144.04 333.83,144.33 335.11,144.16 336.39,143.98 337.67,143.98 338.95,144.08 340.22,144.36 341.5,144.42 342.78,144.69 344.06,144.46 345.34,144.88 346.61,144.82 347.89,145.12 349.17,144.81 350.45,145.13" />
<polyline fill="none" stroke="#f23a22" stroke-width="1.6" stroke-linejoin="round" stroke-linecap="round" points="296.77,133.35 298.05,133.62 299.33,133.31 300.61,132.7 301.88,132.5 303.16,133.36 304.44,133.02 305.72,133.47 307,133.76 308.27,134.11 309.55,133.75 310.83,133.43 312.11,133.13 313.39,134.15 314.66,134.15 315.94,134.55 317.22,134.78 318.5,134.5 319.78,134.07 321.05,133.69 322.33,134.57 323.61,134.3 324.89,135.26 326.17,135.22 327.44,135.71" />
<polyline fill="none" stroke="#2a92f2" stroke-width="1.6" stroke-linejoin="round" stroke-linecap="round" points="296.77,122.85 298.05,122.9 299.33,123.19 300.61,122.89 301.88,122.87 303.16,123.66 304.44,123.6 305.72,123.73 307,124.4 308.27,124.22 309.55,124.06 310.83,124 312.11,124.23 313.39,124.41 314.66,124.98 315.94,125.23 317.22,126.02 318.5,125.54 319.78,126.05 321.05,126.73 322.33,126.47 323.61,126.01 324.89,126.24 326.17,126.02 327.44,126.35 328.72,127 330,126.69" />
<polyline fill="none" stroke="#30d8c8" stroke-width="1.5" stroke-linejoin="round" stroke-linecap="round" points="330,127.17 331.28,127.05 332.56,127.28 333.83,127.06 335.11,126.84 336.39,127.11 337.67,127.51 338.95,128.52 340.22,128.82 341.5,128.42 342.78,128.35 344.06,129.06 345.34,129.4 346.61,130.15 347.89,130.9 349.17,131.39 350.45,130.77" />
<polyline fill="none" stroke="#3ce860" stroke-width="1.6" stroke-linejoin="round" stroke-linecap="round" points="296.77,112.99 298.05,112.72 299.33,113.8 300.61,113.53 301.88,113.13 303.16,113.18 304.44,114.45 305.72,114.68 307,115.4 308.27,114.84 309.55,115.11 310.83,115.13 312.11,115 313.39,115.75 314.66,115.86 315.94,115.56 317.22,116.92 318.5,117.15 319.78,116.83 321.05,116.32" />
<polyline fill="none" stroke="#3ce860" stroke-width="1.5" stroke-linejoin="round" stroke-linecap="round" points="296.77,103.72 297.84,103.83 298.9,104.13 299.97,104.08 301.03,103.77 302.1,104.03 303.16,104.61 304.23,105.36 305.29,105.5 306.36,106.44 307.42,107.29 308.49,107.59 309.55,107.82 310.62,107.33 311.68,107.61 312.75,107.12 313.81,107 314.88,107.59" />
<polyline fill="none" stroke="#48ec48" stroke-width="1.5" stroke-linejoin="round" stroke-linecap="round" points="296.77,94.24 297.84,93.94 298.9,93.92 299.97,93.46 301.03,93.34 302.1,94.3 303.16,95.24 304.23,96.58" />
<polyline fill="none" stroke="#30c0f0" stroke-width="1.2" stroke-linejoin="round" stroke-linecap="round" points="317.22,108.26 318.29,109 319.35,108.62 320.42,108.56 321.48,108.59 322.55,109.25 323.61,109.43 324.68,110.39 325.74,110.9 326.81,110.95 327.87,111.77 328.94,111.63 330,112.36" />
<polyline fill="none" stroke="#34e890" stroke-width="1.6" stroke-linejoin="round" stroke-linecap="round" points="350.87,144.45 352.15,144.35 353.43,144.34 354.71,144.3 355.99,144.51 357.26,144.24 358.54,144.28 359.82,144.17 361.1,144.56 362.38,144.3 363.65,144.53 364.93,144.48 366.21,144.58 367.49,144.74 368.77,144.98 370.04,144.78 371.32,144.7 372.6,144.55 373.88,145.03 375.16,144.85 376.43,144.7 377.71,144.86 378.99,145.03 380.27,145.39 381.55,145.09 382.82,144.99 384.1,144.86 385.38,145.05 386.66,145.12 387.94,145.14 389.21,145.5 390.49,145.63 391.77,145.88 393.05,146.14 394.33,145.88 395.6,146.14 396.88,145.97 398.16,145.6 399.44,145.9 400.72,145.58 401.99,145.26 403.27,145.2 404.55,145.15 405.83,145.59 407.11,145.87 408.38,145.78 409.66,145.79 410.94,146.02 412.22,146.18 413.5,146.2 414.77,146.12 416.05,145.77 417.33,145.59 418.61,145.73 419.89,145.8 421.16,146 422.44,146.24 423.72,146.47 425,146.11 426.28,145.75 427.55,146.03 428.83,146.03 430.11,145.76 431.39,145.9 432.67,145.71 433.94,145.54" />
<polyline fill="none" stroke="#f4b030" stroke-width="1.6" stroke-linejoin="round" stroke-linecap="round" points="350.87,135.97 352.15,135.83 353.43,136.21 354.71,136.45 355.99,136.57 357.26,136.82 358.54,137.14 359.82,136.86 361.1,136.98 362.38,137.24 363.65,137.48 364.93,137.65 366.21,137.47 367.49,137.89 368.77,138.12 370.04,137.92 371.32,137.92 372.6,138.3 373.88,138.09 375.16,138.07 376.43,138.45 377.71,138.73 378.99,138.49 380.27,138.65 381.55,138.53 382.82,138.66 384.1,138.84 385.38,138.54 386.66,138.37 387.94,138.24 389.21,138.18 390.49,137.97 391.77,137.88 393.05,138 394.33,138.12 395.6,137.97 396.88,138.21 398.16,138.66 399.44,138.77 400.72,138.7 401.99,138.9 403.27,138.87 404.55,138.67 405.83,138.72 407.11,138.44 408.38,138.68 409.66,138.52 410.94,138.53 412.22,138.96 413.5,139.17 414.77,139.39 416.05,139.43 417.33,139.46 418.61,139.53 419.89,139.78 421.16,139.43 422.44,139.56 423.72,139.34 425,139.13 426.28,139.36 427.55,139.39 428.83,139.59 430.11,139.77 431.39,139.71 432.67,139.39 433.94,139.01" />
<polyline fill="none" stroke="#2a90f0" stroke-width="1.6" stroke-linejoin="round" stroke-linecap="round" points="350.87,127.41 352.15,127.41 353.43,127.41 354.71,127.56 355.99,128.08 357.26,128.05 358.54,128.22 359.82,128.4 361.1,128.9 362.38,129.51 363.65,129.35 364.93,129.31 366.21,129.88 367.49,130.38 368.77,130.22 370.04,130.25 371.32,130.42 372.6,130.43 373.88,130.53 375.16,130.67 376.43,130.63 377.71,130.48 378.99,130.39 380.27,130.39 381.55,130.35 382.82,130.7 384.1,131.04 385.38,131.02 386.66,131.39 387.94,131.65 389.21,131.59 390.49,131.66 391.77,131.51 393.05,131.91 394.33,131.98 395.6,131.69 396.88,131.54 398.16,131.8 399.44,131.8 400.72,132.03 401.99,131.88 403.27,132.17 404.55,132.4 405.83,132.1 407.11,132.21 408.38,132.02 409.66,132.23 410.94,132.48 412.22,132.66 413.5,132.43 414.77,132.14 416.05,132.32 417.33,132.39 418.61,132.15 419.89,132 421.16,132.16 422.44,131.95 423.72,132.16 425,132.05 426.28,131.98 427.55,132.04 428.83,132.16 430.11,132.4 431.39,132.1 432.67,132.35 433.94,132.2" />
<polyline fill="none" stroke="#3aa8f4" stroke-width="1.6" stroke-linejoin="round" stroke-linecap="round" points="350.87,119.42 352.15,119.84 353.43,120.43 354.71,120.46 355.99,120.61 357.26,121.02 358.54,121.1 359.82,121.14 361.1,121.26 362.38,121.78 363.65,122.26 364.93,122.6 366.21,123.07 367.49,123.37 368.77,123.29 370.04,123.26 371.32,123.54 372.6,123.33 373.88,123.57 375.16,123.41 376.43,123.28 377.71,123.52 378.99,123.48 380.27,124.01 381.55,124.41 382.82,124.45 384.1,124.32 385.38,124.17 386.66,124.33 387.94,124.49 389.21,124.51 390.49,124.79 391.77,124.89 393.05,125.15 394.33,124.9 395.6,124.69 396.88,124.75 398.16,124.87 399.44,124.81 400.72,125.07 401.99,124.96 403.27,124.95 404.55,125.06 405.83,125.32 407.11,125.57 408.38,125.5 409.66,125.5 410.94,125.84 412.22,126.12 413.5,126.13 414.77,125.78 416.05,125.75 417.33,125.86 418.61,125.7 419.89,125.4 421.16,125.83 422.44,126.12 423.72,125.82 425,125.81 426.28,125.91 427.55,125.77 428.83,125.5 430.11,125.76 431.39,125.99 432.67,125.94 433.94,125.66" />
<polyline fill="none" stroke="#f08020" stroke-width="1.55" stroke-linejoin="round" stroke-linecap="round" points="353.31,111.5 354.38,111.99 355.44,111.46 356.51,111.36 357.57,111.54 358.64,111.93 359.7,112.73 360.77,113.62 361.83,112.95 362.9,112.49 363.96,113.49 365.03,114.04 366.09,114.53 367.16,114.48 368.22,114.38 369.29,115.33" />
<polyline fill="none" stroke="#f08020" stroke-width="1.55" stroke-linejoin="round" stroke-linecap="round" points="371.42,114.22 372.48,115.23 373.55,116.62 374.61,117.83 375.68,117.83 376.74,118.39 377.81,117.98 378.87,117.12 379.94,117.03 381,117.76 382.07,118.57 383.13,118.08" />
<polyline fill="none" stroke="#f08020" stroke-width="1.55" stroke-linejoin="round" stroke-linecap="round" points="386.33,117 387.39,117.51 388.46,117.39 389.52,117.44 390.59,117.57 391.65,117.87 392.72,118.74 393.78,117.67 394.85,118.09 395.91,117.72" />
<polyline fill="none" stroke="#f08020" stroke-width="1.55" stroke-linejoin="round" stroke-linecap="round" points="396.98,117.5 398.04,118.57 399.11,118.64 400.17,118.15 401.24,117.85 402.3,118.2 403.37,118.69 404.43,118.88 405.5,118.32" />
<polyline fill="none" stroke="#f08020" stroke-width="1.55" stroke-linejoin="round" stroke-linecap="round" points="407.63,119.66 408.69,120.13 409.76,120.35 410.82,119.38 411.89,119.79 412.95,120.39 414.02,120.1 415.08,120.02 416.15,119.69 417.21,119.07 418.28,118.45 419.34,117.59 420.41,117.42 421.47,118.82 422.54,119.15 423.6,119.66" />
<polyline fill="none" stroke="#f08020" stroke-width="1.55" stroke-linejoin="round" stroke-linecap="round" points="423.6,119.66 424.67,120.19 425.73,120.11 426.8,119.09 427.86,119.71 428.93,120.33 429.99,121.4 431.06,121.76 432.12,121.83 433.19,121.67 434.25,120.35" />
<polyline fill="none" stroke="#2a96ee" stroke-width="1.55" stroke-linejoin="round" stroke-linecap="round" points="355.63,105.12 356.7,105.99 357.76,106.68 358.83,106.12 359.89,107.09 360.96,107.2 362.02,107.05 363.09,106.7 364.15,107.24 365.22,107.76" />
<polyline fill="none" stroke="#2a96ee" stroke-width="1.55" stroke-linejoin="round" stroke-linecap="round" points="367.35,108.01 368.41,108.05 369.48,108.05 370.54,107.87 371.61,108.16 372.67,107.81 373.74,108.84 374.8,108.54 375.87,107.92 376.93,107.36 378,108.11 379.06,107.79 380.13,108.12 381.19,108.42" />
<polyline fill="none" stroke="#2a96ee" stroke-width="1.55" stroke-linejoin="round" stroke-linecap="round" points="382.26,109.53 383.32,110.82 384.39,110.78 385.45,111.35 386.52,112.24 387.58,112.11 388.65,112.66 389.71,112.68 390.78,111.87 391.84,112.19 392.91,111.94 393.97,110.99 395.04,111.22" />
<polyline fill="none" stroke="#2a96ee" stroke-width="1.55" stroke-linejoin="round" stroke-linecap="round" points="395.04,111.22 396.1,111.99 397.17,112.17 398.23,112.34 399.3,112.38 400.36,113.22 401.43,113.42 402.49,112.64 403.56,112.17 404.62,111.7 405.69,112.35 406.75,112.4 407.82,111.49 408.88,112.3 409.95,111.5 411.01,111.99" />
<polyline fill="none" stroke="#2a96ee" stroke-width="1.55" stroke-linejoin="round" stroke-linecap="round" points="412.08,112.19 413.14,112.9 414.21,112.93 415.27,112.26 416.34,112.39 417.4,112.9 418.47,113.14 419.53,112.5 420.6,111.73 421.66,112.12 422.73,112.63 423.79,112.13 424.86,113.05 425.92,114.09 426.99,113.96" />
<polyline fill="none" stroke="#2a96ee" stroke-width="1.55" stroke-linejoin="round" stroke-linecap="round" points="430.18,114.67 431.25,113.68" />
<polyline fill="none" stroke="#f020c0" stroke-width="1.55" stroke-linejoin="round" stroke-linecap="round" points="352.24,95.45 353.3,95.89 354.37,97.4 355.43,97.38 356.5,97.01 357.56,97.49 358.63,98.48 359.69,99.21 360.76,99.87 361.82,99.67 362.89,100.41 363.95,100.54 365.02,100.11 366.08,100.83 367.15,101.84" />
<polyline fill="none" stroke="#f020c0" stroke-width="1.55" stroke-linejoin="round" stroke-linecap="round" points="368.21,102 369.28,102.4 370.34,101.99 371.41,101.56 372.47,101.37 373.54,101.35 374.6,101.28 375.67,100.67 376.73,100.21 377.8,100.64 378.86,101.83 379.93,102.94 380.99,102.94 382.06,102.91" />
<polyline fill="none" stroke="#f020c0" stroke-width="1.55" stroke-linejoin="round" stroke-linecap="round" points="383.12,103.23 384.19,102.72 385.25,102.96 386.32,103.64 387.38,102.93 388.45,103.16 389.51,103.74 390.58,104.45 391.64,105.11" />
<polyline fill="none" stroke="#f020c0" stroke-width="1.55" stroke-linejoin="round" stroke-linecap="round" points="391.64,105.11 392.71,105.73 393.77,105.46 394.84,106.2 395.9,106.81 396.97,105.58 398.03,106.06 399.1,105.47 400.16,104.35 401.23,103.52 402.29,104.32" />
<polyline fill="none" stroke="#f020c0" stroke-width="1.55" stroke-linejoin="round" stroke-linecap="round" points="405.49,105.01 406.55,105.68 407.62,106.79 408.68,106.35 409.75,106.62 410.81,105.76 411.88,104.89" />
<polyline fill="none" stroke="#f020c0" stroke-width="1.55" stroke-linejoin="round" stroke-linecap="round" points="415.07,104.49 416.14,104.46 417.2,104.34 418.27,104.44 419.33,104.3 420.4,104.32 421.46,104.43" />
<polyline fill="none" stroke="#f020c0" stroke-width="1.55" stroke-linejoin="round" stroke-linecap="round" points="423.59,104.17 424.66,104.19 425.72,104.12 426.79,105.1 427.85,105.15 428.92,106.18 429.98,106.31 431.05,106.02" />
<polyline fill="none" stroke="#3050e8" stroke-width="1.55" stroke-linejoin="round" stroke-linecap="round" points="353.02,86.65 354.08,88.03 355.15,88.89 356.21,88.84 357.28,90.21 358.34,90.71 359.41,91.06 360.47,91.57 361.54,91.83 362.6,92.53 363.67,92.59 364.73,92.01 365.8,92.69 366.86,93.65 367.93,93.26 368.99,94.25 370.06,94.9" />
<polyline fill="none" stroke="#3050e8" stroke-width="1.55" stroke-linejoin="round" stroke-linecap="round" points="373.25,94.63 374.32,94.62 375.38,94.03 376.45,94.75 377.51,94.38 378.58,95.04 379.64,95.92 380.71,96.07 381.77,95.89 382.84,97.02 383.9,97.88 384.97,97.75" />
<polyline fill="none" stroke="#3050e8" stroke-width="1.55" stroke-linejoin="round" stroke-linecap="round" points="384.97,97.75 386.03,97.89 387.1,97.33 388.16,96.69 389.23,96.81 390.29,96.22 391.36,96.9 392.42,97.99 393.49,98.04 394.55,99.08 395.62,98.26 396.68,97.67 397.75,97.7 398.81,97.58 399.88,98.08 400.94,97.12" />
<polyline fill="none" stroke="#3050e8" stroke-width="1.55" stroke-linejoin="round" stroke-linecap="round" points="402.01,97.97 403.07,97.53 404.14,98.66 405.2,99.27 406.27,98.58 407.33,99.46 408.4,98.88 409.46,98.62 410.53,99.12 411.59,98.52 412.66,97.63 413.72,97.34 414.79,98.27 415.85,98.1 416.92,98.34" />
<polyline fill="none" stroke="#3050e8" stroke-width="1.55" stroke-linejoin="round" stroke-linecap="round" points="417.98,98.33 419.05,98.58 420.11,98.02 421.18,98.92 422.24,99.39 423.31,98.3 424.37,97.59 425.44,97.92 426.5,99.15 427.57,99.95" />
<polyline fill="none" stroke="#3050e8" stroke-width="1.55" stroke-linejoin="round" stroke-linecap="round" points="427.57,99.95 428.63,99.57 429.7,100.51 430.76,99.71 431.83,99.72" />
<polyline fill="none" stroke="#3050e8" stroke-width="1.55" stroke-linejoin="round" stroke-linecap="round" points="352.12,77.99 353.19,79.09 354.25,79.42 355.32,79.84 356.38,80.37 357.45,81.73 358.51,81.39" />
<polyline fill="none" stroke="#3050e8" stroke-width="1.55" stroke-linejoin="round" stroke-linecap="round" points="361.71,82.18 362.77,82.68 363.84,83.43 364.9,84.31 365.97,84.32 367.03,85.51 368.1,86.79 369.16,86.34 370.23,87.15 371.29,87.51" />
<polyline fill="none" stroke="#3050e8" stroke-width="1.55" stroke-linejoin="round" stroke-linecap="round" points="374.49,87.59 375.55,88.1 376.62,89.25 377.68,90.12 378.75,90.46 379.81,91.29 380.88,90.26 381.94,90.02 383.01,88.92 384.07,89.06 385.14,89.23 386.2,89.22 387.27,88.76 388.33,88.44 389.4,89.72 390.46,90.37 391.53,90.87" />
<polyline fill="none" stroke="#3050e8" stroke-width="1.55" stroke-linejoin="round" stroke-linecap="round" points="391.53,90.87 392.59,91.53 393.66,90.92 394.72,91.13 395.79,90.89 396.85,91.39 397.92,91.44" />
<polyline fill="none" stroke="#3050e8" stroke-width="1.55" stroke-linejoin="round" stroke-linecap="round" points="398.98,92.04 400.05,92.57 401.11,92.33 402.18,92.94 403.24,92.56 404.31,92.57 405.37,92.96" />
<polyline fill="none" stroke="#3050e8" stroke-width="1.55" stroke-linejoin="round" stroke-linecap="round" points="408.57,91.98 409.63,92.51 410.7,91.54 411.76,92.24 412.83,91.75 413.89,93.01 414.96,92.73 416.02,93.36 417.09,93.7 418.15,92.71" />
<polyline fill="none" stroke="#3050e8" stroke-width="1.55" stroke-linejoin="round" stroke-linecap="round" points="418.15,92.71 419.22,92.76 420.28,92.16 421.35,92.14 422.41,91.98 423.48,92.39 424.54,92.07 425.61,92.45 426.67,92.88 427.74,94.06 428.8,94.82 429.87,95.55 430.93,95.06 432,95.07 433.06,93.51" />
<polyline fill="none" stroke="#30e060" stroke-width="1.55" stroke-linejoin="round" stroke-linecap="round" points="353.56,71.1 354.62,71.33 355.69,72.48 356.75,73.96 357.82,74.28 358.88,75.26 359.95,75.26 361.01,75.29 362.08,76.25 363.14,77.08 364.21,77.98 365.27,77.91 366.34,78.38 367.4,79.45" />
<polyline fill="none" stroke="#30e060" stroke-width="1.55" stroke-linejoin="round" stroke-linecap="round" points="368.47,80.42 369.53,80.74 370.6,81.73 371.66,81.57 372.73,82.28 373.79,81.84 374.86,80.75 375.92,81.03 376.99,80.28 378.05,80.85" />
<polyline fill="none" stroke="#30e060" stroke-width="1.55" stroke-linejoin="round" stroke-linecap="round" points="379.12,80.43 380.18,82.01 381.25,82.64 382.31,83.56 383.38,83.15 384.44,83.59 385.51,83.3 386.57,82.67 387.64,83.08 388.7,82.01 389.77,82.06 390.83,81.6 391.9,82.84 392.96,84.13" />
<polyline fill="none" stroke="#30e060" stroke-width="1.55" stroke-linejoin="round" stroke-linecap="round" points="392.96,84.13 394.03,83.75 395.09,84.25 396.16,84.59 397.22,85.14 398.29,85.41 399.35,84.76 400.42,85.2 401.48,84.22 402.55,83.46 403.61,84.27 404.68,83.89 405.74,83.9 406.81,84.6" />
<polyline fill="none" stroke="#30e060" stroke-width="1.55" stroke-linejoin="round" stroke-linecap="round" points="408.94,84.68 410,85.74 411.07,85.56 412.13,85.81 413.2,84.94 414.26,85.46 415.33,84.75 416.39,85.61 417.46,85.99 418.52,87.13 419.59,87.78 420.65,88.04" />
<polyline fill="none" stroke="#30e060" stroke-width="1.55" stroke-linejoin="round" stroke-linecap="round" points="421.72,87.97 422.78,88.3 423.85,87.62 424.91,86.28 425.98,86.6 427.04,86.68 428.11,86.65 429.17,86.94" />
<polyline fill="none" stroke="#20d8f0" stroke-width="1.55" stroke-linejoin="round" stroke-linecap="round" points="353.7,62.93 354.77,64.22 355.83,64.66 356.9,65.58 357.96,66.11 359.03,66.92 360.09,66.72 361.16,67.78" />
<polyline fill="none" stroke="#20d8f0" stroke-width="1.55" stroke-linejoin="round" stroke-linecap="round" points="366.48,70.2 367.55,71.49 368.61,71.29 369.68,71.07 370.74,71.81 371.81,71.86 372.87,72.28" />
<polyline fill="none" stroke="#20d8f0" stroke-width="1.55" stroke-linejoin="round" stroke-linecap="round" points="377.13,75.42 378.2,75.6 379.26,74.49 380.33,75.37 381.39,76.06 382.46,76.08 383.52,76.11 384.59,75.8" />
<polyline fill="none" stroke="#20d8f0" stroke-width="1.55" stroke-linejoin="round" stroke-linecap="round" points="385.65,75.29 386.72,75.37 387.78,75.54 388.85,75.88 389.91,76.36 390.98,76.64" />
<polyline fill="none" stroke="#20d8f0" stroke-width="1.55" stroke-linejoin="round" stroke-linecap="round" points="392.04,76.54 393.11,76.87 394.17,76.95 395.24,76.97 396.3,76.21 397.37,75.82 398.43,76.31 399.5,76.59 400.56,76.82" />
<polyline fill="none" stroke="#20d8f0" stroke-width="1.55" stroke-linejoin="round" stroke-linecap="round" points="405.89,76.95 406.95,77.38 408.02,78.99 409.08,79.7 410.15,79.49 411.21,78.63 412.28,78.47 413.34,78.29 414.41,77.99 415.47,78.87" />
<polyline fill="none" stroke="#20d8f0" stroke-width="1.55" stroke-linejoin="round" stroke-linecap="round" points="419.73,78.97 420.8,77.77 421.86,77.96 422.93,78.87 423.99,80.36 425.06,81.08 426.12,80.81" />
<polyline fill="none" stroke="#20d8f0" stroke-width="1.55" stroke-linejoin="round" stroke-linecap="round" points="429.32,79.1 430.38,79.34 431.45,79.53" />
<polyline fill="none" stroke="#f02860" stroke-width="1.55" stroke-linejoin="round" stroke-linecap="round" points="351.98,52.53 353.05,53.17 354.11,53.99 355.18,56.15 356.24,56.77 357.31,57.53 358.37,58.44" />
<polyline fill="none" stroke="#f02860" stroke-width="1.55" stroke-linejoin="round" stroke-linecap="round" points="361.57,58.88 362.63,59.89 363.7,61 364.76,61.37 365.83,61.81 366.89,63.74 367.96,63.63 369.02,64.99" />
<polyline fill="none" stroke="#f02860" stroke-width="1.55" stroke-linejoin="round" stroke-linecap="round" points="371.15,65.36 372.22,65.78 373.28,65.74 374.35,65.67 375.41,66.02 376.48,65.85" />
<polyline fill="none" stroke="#f02860" stroke-width="1.55" stroke-linejoin="round" stroke-linecap="round" points="380.74,69.67 381.8,68.91 382.87,67.75 383.93,68.36 385,67.65 386.06,67.45 387.13,68.54 388.19,69.66 389.26,69.99" />
<polyline fill="none" stroke="#f02860" stroke-width="1.55" stroke-linejoin="round" stroke-linecap="round" points="393.52,70.38 394.58,69.95 395.65,70.02 396.71,69.3 397.78,69.46 398.84,70.79" />
<polyline fill="none" stroke="#f02860" stroke-width="1.55" stroke-linejoin="round" stroke-linecap="round" points="400.97,71.34 402.04,72.61 403.1,72.81 404.17,72.54 405.23,72.96 406.3,72.71" />
<polyline fill="none" stroke="#f02860" stroke-width="1.55" stroke-linejoin="round" stroke-linecap="round" points="407.36,72.54 408.43,72.73 409.49,73.12 410.56,72.81 411.62,72.33 412.69,72.02" />
<polyline fill="none" stroke="#f02860" stroke-width="1.55" stroke-linejoin="round" stroke-linecap="round" points="418.01,70.92 419.08,70.31 420.14,70.13 421.21,70.63 422.27,70.92 423.34,71.72 424.4,72.78" />
<polyline fill="none" stroke="#f02860" stroke-width="1.55" stroke-linejoin="round" stroke-linecap="round" points="427.6,72.26 428.66,72.02 429.73,71.33 430.79,71.04" />
<polyline fill="none" stroke="#40e040" stroke-width="1.55" stroke-linejoin="round" stroke-linecap="round" points="353.87,48.02 354.93,49.76 356,50.15 357.06,51.48 358.13,52.21 359.19,52.12 360.26,51.54 361.32,51.9 362.39,51.88 363.45,53.23" />
<polyline fill="none" stroke="#40e040" stroke-width="1.55" stroke-linejoin="round" stroke-linecap="round" points="368.78,57.94 369.84,58.51 370.91,57.58 371.97,57.18 373.04,56.48 374.1,57.11 375.17,58.18 376.23,58.68 377.3,59.95" />
<polyline fill="none" stroke="#40e040" stroke-width="1.55" stroke-linejoin="round" stroke-linecap="round" points="382.62,61.96 383.69,60.72 384.75,59.9 385.82,60.53 386.88,61.54 387.95,62.24 389.01,62.21 390.08,63.64" />
<polyline fill="none" stroke="#40e040" stroke-width="1.55" stroke-linejoin="round" stroke-linecap="round" points="393.27,63.91 394.34,64.09 395.4,62.84 396.47,61.84 397.53,61.66 398.6,62.65 399.66,63.94 400.73,64.03 401.79,65.38" />
<polyline fill="none" stroke="#40e040" stroke-width="1.55" stroke-linejoin="round" stroke-linecap="round" points="402.86,66.32 403.92,67.15 404.99,67.13 406.05,67.56 407.12,67.08 408.18,67.09 409.25,66.4 410.31,65.31" />
<polyline fill="none" stroke="#40e040" stroke-width="1.55" stroke-linejoin="round" stroke-linecap="round" points="414.57,65.84 415.64,66.34 416.7,66.74 417.77,66.17 418.83,65.55 419.9,65.26 420.96,64.94 422.03,64.58" />
<polyline fill="none" stroke="#40e040" stroke-width="1.55" stroke-linejoin="round" stroke-linecap="round" points="424.16,64.59 425.22,65.21 426.29,65.45 427.35,66.6 428.42,67.33 429.48,67.85 430.55,67.54 431.61,66.56 432.68,66.84" />
<polyline fill="none" stroke="#20e0f0" stroke-width="1.55" stroke-linejoin="round" stroke-linecap="round" points="354.93,40.32 355.99,42.39 357.06,44.44 358.12,44.95 359.19,45.64 360.25,45.09 361.32,44.81 362.38,44.17 363.45,45.03 364.51,45.84" />
<polyline fill="none" stroke="#20e0f0" stroke-width="1.55" stroke-linejoin="round" stroke-linecap="round" points="369.84,51.21 370.9,50.49 371.97,50.83 373.03,50.56 374.1,51.03 375.16,52.29" />
<polyline fill="none" stroke="#20e0f0" stroke-width="1.55" stroke-linejoin="round" stroke-linecap="round" points="380.49,53.69 381.55,52.55 382.62,51.93 383.68,52.17 384.75,52.95 385.81,54.89 386.88,55.39 387.94,55.44 389.01,55.16" />
<polyline fill="none" stroke="#20e0f0" stroke-width="1.55" stroke-linejoin="round" stroke-linecap="round" points="390.07,55.46 391.14,55.58 392.2,55.01 393.27,54.28 394.33,55.19 395.4,55.56 396.46,55.73" />
<polyline fill="none" stroke="#20e0f0" stroke-width="1.55" stroke-linejoin="round" stroke-linecap="round" points="398.59,55.97 399.66,56.16 400.72,55.48 401.79,55.93 402.85,55.89 403.92,55.47 404.98,55.84 406.05,56.91 407.11,58.76" />
<polyline fill="none" stroke="#20e0f0" stroke-width="1.55" stroke-linejoin="round" stroke-linecap="round" points="410.31,59.98 411.37,58.66 412.44,58.63 413.5,58.75 414.57,58.11 415.63,58.36 416.7,58.45 417.76,58.35 418.83,59.26" />
<polyline fill="none" stroke="#20e0f0" stroke-width="1.55" stroke-linejoin="round" stroke-linecap="round" points="422.02,58.26 423.09,57.5 424.15,56.96 425.22,58.03 426.28,59.48 427.35,59.66" />
<polyline fill="none" stroke="#20e0f0" stroke-width="1.55" stroke-linejoin="round" stroke-linecap="round" points="429.48,60.64 430.54,60.89 431.61,59.44 432.67,59.05" />
<polyline fill="none" stroke="#c0f020" stroke-width="1.55" stroke-linejoin="round" stroke-linecap="round" points="356.34,32.79 357.41,33.9 358.47,34.64 359.54,36.77 360.6,38.34 361.67,38.29" />
<polyline fill="none" stroke="#c0f020" stroke-width="1.55" stroke-linejoin="round" stroke-linecap="round" points="365.93,39.6 366.99,40.51 368.06,41.32 369.12,42.73 370.19,43.87 371.25,44.52 372.32,44.24" />
<polyline fill="none" stroke="#c0f020" stroke-width="1.55" stroke-linejoin="round" stroke-linecap="round" points="375.51,44.11 376.58,44.7 377.64,46.31 378.71,46.97 379.77,48.16 380.84,47.08 381.9,46.64 382.97,45.89 384.03,45.26" />
<polyline fill="none" stroke="#c0f020" stroke-width="1.55" stroke-linejoin="round" stroke-linecap="round" points="385.1,45.42 386.16,45.98 387.23,47.09 388.29,47.93 389.36,48.35 390.42,47.89 391.49,48.06 392.55,47.98 393.62,49.14" />
<polyline fill="none" stroke="#c0f020" stroke-width="1.55" stroke-linejoin="round" stroke-linecap="round" points="398.94,51.62 400.01,50.54 401.07,50.73 402.14,50.13 403.2,50.03 404.27,50.92 405.33,51.84 406.4,52.06 407.46,51.57" />
<polyline fill="none" stroke="#c0f020" stroke-width="1.55" stroke-linejoin="round" stroke-linecap="round" points="409.59,51.48 410.66,50.28 411.72,50.54 412.79,50.97 413.85,51.39 414.92,51.96 415.98,53.24 417.05,52.99 418.11,52.48 419.18,52.74" />
<polyline fill="none" stroke="#c0f020" stroke-width="1.55" stroke-linejoin="round" stroke-linecap="round" points="421.31,51.55 422.37,51.33 423.44,52.45 424.5,53.5 425.57,53.78 426.63,53.52" />
<polyline fill="none" stroke="#c0f020" stroke-width="1.55" stroke-linejoin="round" stroke-linecap="round" points="428.76,52.54 429.83,52 430.89,52.6 431.96,52.72 433.02,53.82" />
<polyline fill="none" stroke="#3040f0" stroke-width="1.55" stroke-linejoin="round" stroke-linecap="round" points="355.45,26.08 356.51,27.52 357.58,27.53 358.64,27.94 359.71,28.65 360.77,29.42 361.84,29.22 362.9,29.71 363.97,30.53" />
<polyline fill="none" stroke="#3040f0" stroke-width="1.55" stroke-linejoin="round" stroke-linecap="round" points="366.1,33.53 367.16,35.04 368.23,36.46 369.29,37.26 370.36,37.45 371.42,37.61 372.49,36.96" />
<polyline fill="none" stroke="#3040f0" stroke-width="1.55" stroke-linejoin="round" stroke-linecap="round" points="375.68,37.51 376.75,38.25 377.81,38.42 378.88,38.54 379.94,40.26 381.01,40.01 382.07,40.61 383.14,40.83" />
<polyline fill="none" stroke="#3040f0" stroke-width="1.55" stroke-linejoin="round" stroke-linecap="round" points="388.46,40.24 389.53,41.66 390.59,43.13 391.66,42.81 392.72,43.65 393.79,43.53 394.85,42.99" />
<polyline fill="none" stroke="#3040f0" stroke-width="1.55" stroke-linejoin="round" stroke-linecap="round" points="396.98,43.34 398.05,42.58 399.11,41.89 400.18,41.73 401.24,42.41 402.31,43.17 403.37,43.19 404.44,43.8" />
<polyline fill="none" stroke="#3040f0" stroke-width="1.55" stroke-linejoin="round" stroke-linecap="round" points="408.7,44.55 409.76,44.78 410.83,44.78 411.89,44.09 412.96,44.45 414.02,43.78" />
<polyline fill="none" stroke="#3040f0" stroke-width="1.55" stroke-linejoin="round" stroke-linecap="round" points="416.15,45.3 417.22,46.08 418.28,47.41 419.35,47.64 420.41,46.65 421.48,45.71" />
<polyline fill="none" stroke="#3040f0" stroke-width="1.55" stroke-linejoin="round" stroke-linecap="round" points="423.61,44.57 424.67,45.23 425.74,45.33 426.8,45.3 427.87,45.74 428.93,46.86 430,47.02 431.06,47.5 432.13,47.52" />
<rect x="362.3" y="51.79" width="1.8" height="1.5" fill="#c0f040"/>
<rect x="401.73" y="91.51" width="1.8" height="1.5" fill="#3060f0"/>
<rect x="321.59" y="66.62" width="1.8" height="1.5" fill="#20c0f0"/>
<rect x="403.19" y="59.51" width="1.8" height="1.5" fill="#30e060"/>
<polyline fill="none" stroke="#f02830" stroke-width="1.2" stroke-linejoin="round" stroke-linecap="round" points="368.42,95.7 370.42,94.94 372.42,95.91" />
<polyline fill="none" stroke="#3060f0" stroke-width="1.2" stroke-linejoin="round" stroke-linecap="round" points="421.61,43.37 423.61,43.32 425.61,43" />
<polyline fill="none" stroke="#20c0f0" stroke-width="1.2" stroke-linejoin="round" stroke-linecap="round" points="378.12,38.77 380.12,39.89 382.12,38.18" />
<polyline fill="none" stroke="#f08020" stroke-width="1.2" stroke-linejoin="round" stroke-linecap="round" points="407.07,30.78 409.07,31.16 411.07,29.66" />
<polyline fill="none" stroke="#f0e020" stroke-width="1.2" stroke-linejoin="round" stroke-linecap="round" points="404.93,46.21 406.93,46.74 408.93,47.15" />
<rect x="358.95" y="84.33" width="1.8" height="1.5" fill="#20c0f0"/>
<polyline fill="none" stroke="#f08020" stroke-width="1.2" stroke-linejoin="round" stroke-linecap="round" points="313.6,58.19 315.6,57.65 317.6,58.63" />
<rect x="358.59" y="44.76" width="1.8" height="1.5" fill="#f0e020"/>
<rect x="377.96" y="36" width="1.8" height="1.5" fill="#c0f040"/>
<polyline fill="none" stroke="#c0f040" stroke-width="1.2" stroke-linejoin="round" stroke-linecap="round" points="326.07,81.58 328.07,80.13 330.07,82.87" />
<rect x="326.9" y="20.83" width="1.8" height="1.5" fill="#f0e020"/>
<polyline fill="none" stroke="#e020e0" stroke-width="1.2" stroke-linejoin="round" stroke-linecap="round" points="329.38,95.11 331.38,95.39 333.38,96.43" />
<rect x="323.21" y="51.68" width="1.8" height="1.5" fill="#f0e020"/>
<rect x="308.81" y="81.33" width="1.8" height="1.5" fill="#e020e0"/>
<rect x="374.34" y="90.31" width="1.8" height="1.5" fill="#f0e020"/>
<rect x="377.29" y="106.76" width="1.8" height="1.5" fill="#f02830"/>
<rect x="311.35" y="42.27" width="1.8" height="1.5" fill="#f0e020"/>
<rect x="324.62" y="17.02" width="1.8" height="1.5" fill="#c0f040"/>
<rect x="332.76" y="104.83" width="1.8" height="1.5" fill="#20c0f0"/>
<polyline fill="none" stroke="#3060f0" stroke-width="1.2" stroke-linejoin="round" stroke-linecap="round" points="330.17,17.83 332.17,17.68 334.17,17.8" />
<rect x="303.11" y="39.55" width="1.8" height="1.5" fill="#3060f0"/>
<rect x="402.18" y="58.18" width="1.8" height="1.5" fill="#f08020"/>
<polyline fill="none" stroke="#f08020" stroke-width="1.2" stroke-linejoin="round" stroke-linecap="round" points="342.18,24.27 344.18,24.8 346.18,24.52" />
<rect x="371.67" y="92.76" width="1.8" height="1.5" fill="#e020e0"/>
<rect x="354.85" y="106.13" width="1.8" height="1.5" fill="#20c0f0"/>
<polyline fill="none" stroke="#f02830" stroke-width="1.2" stroke-linejoin="round" stroke-linecap="round" points="306.63,38.57 308.63,38.6 310.63,37.43" />
<polyline fill="none" stroke="#20c0f0" stroke-width="1.2" stroke-linejoin="round" stroke-linecap="round" points="392.47,106.92 394.47,105.46 396.47,107.3" />
<polyline fill="none" stroke="#c0f040" stroke-width="1.2" stroke-linejoin="round" stroke-linecap="round" points="385.33,101.31 387.33,102.43 389.33,101.11" />
<polyline fill="none" stroke="#30e060" stroke-width="1.2" stroke-linejoin="round" stroke-linecap="round" points="385.8,110.35 387.8,110.82 389.8,110.82" />
<rect x="302.96" y="61.16" width="1.8" height="1.5" fill="#3060f0"/>
<polyline fill="none" stroke="#20e0e0" stroke-width="1.2" stroke-linejoin="round" stroke-linecap="round" points="331.25,23.79 333.25,23.15 335.25,24.66" />
<rect x="341.27" y="71.58" width="1.8" height="1.5" fill="#30e060"/>
<rect x="398.7" y="23.81" width="1.8" height="1.5" fill="#e020e0"/>
<polyline fill="none" stroke="#30e060" stroke-width="1.2" stroke-linejoin="round" stroke-linecap="round" points="397.75,53.87 399.75,54.28 401.75,54.59" />
<rect x="420.84" y="28.78" width="1.8" height="1.5" fill="#c0f040"/>
<polyline fill="none" stroke="#20c0f0" stroke-width="1.2" stroke-linejoin="round" stroke-linecap="round" points="430.58,55.31 432.58,54.95 434.58,54.41" />
<polyline fill="none" stroke="#f23020" stroke-width="1.3" stroke-linejoin="round" stroke-linecap="round" points="255,47.4 259.5,44.9 264,40" />
<polyline fill="none" stroke="#c8f040" stroke-width="1.3" stroke-linejoin="round" stroke-linecap="round" points="257,58.6 266,55.8 275,50.6" />
<polyline fill="none" stroke="#20e8f0" stroke-width="1.3" stroke-linejoin="round" stroke-linecap="round" points="260,66 270,62.7 280,57" />
<polyline fill="none" stroke="#20e8f0" stroke-width="1.3" stroke-linejoin="round" stroke-linecap="round" points="275,67 285.5,65.7 296,62" />
<polyline fill="none" stroke="#f0e020" stroke-width="1.3" stroke-linejoin="round" stroke-linecap="round" points="283,76 289.5,75.7 296,73" />
<polyline fill="none" stroke="#20d0f0" stroke-width="1.3" stroke-linejoin="round" stroke-linecap="round" points="244,19 248,21.7 252,22" />
<polyline fill="none" stroke="#f0c020" stroke-width="1.3" stroke-linejoin="round" stroke-linecap="round" points="249,25 255.5,27.7 262,28" />
<polyline fill="none" stroke="#3060f0" stroke-width="1.3" stroke-linejoin="round" stroke-linecap="round" points="262,21 266,20.2 270,17" />
<polyline fill="none" stroke="#20e0a0" stroke-width="1.3" stroke-linejoin="round" stroke-linecap="round" points="268,28 272,27.7 276,25" />
<polyline fill="none" stroke="#2a60f0" stroke-width="1.3" stroke-linejoin="round" stroke-linecap="round" points="280,30 285,29.7 290,27" />
<polyline fill="none" stroke="#f02030" stroke-width="1.3" stroke-linejoin="round" stroke-linecap="round" points="291,26 293.5,28.2 296,28" />
<polyline fill="none" stroke="#f02030" stroke-width="1.3" stroke-linejoin="round" stroke-linecap="round" points="254,37 257,37.2 260,35" />
<polyline fill="none" stroke="#e020e0" stroke-width="1.3" stroke-linejoin="round" stroke-linecap="round" points="296,48 298,48.7 300,47" />
<polyline fill="none" stroke="#2a60f0" stroke-width="1.3" stroke-linejoin="round" stroke-linecap="round" points="247,53 249.5,55.2 252,55" />
<polyline fill="none" stroke="#e020e0" stroke-width="1.3" stroke-linejoin="round" stroke-linecap="round" points="281,49 283,51.2 285,51" />
<polyline fill="none" stroke="#20e8f0" stroke-width="1.3" stroke-linejoin="round" stroke-linecap="round" points="246,70 248,70.7 250,69" />
<rect x="244.6" y="15.0" width="191.6" height="137.2" fill="none" stroke="#8a8a8a" stroke-width="0.5"/>
<text x="266.1" y="162" font-size="7.0" text-anchor="middle" fill="#262626" font-weight="normal" >50</text>
<line x1="266.1" x2="266.1" y1="15.0" y2="16.8" stroke="#555" stroke-width="0.5"/>
<text x="287.4" y="162" font-size="7.0" text-anchor="middle" fill="#262626" font-weight="normal" >100</text>
<line x1="287.4" x2="287.4" y1="15.0" y2="16.8" stroke="#555" stroke-width="0.5"/>
<text x="308.7" y="162" font-size="7.0" text-anchor="middle" fill="#262626" font-weight="normal" >150</text>
<line x1="308.7" x2="308.7" y1="15.0" y2="16.8" stroke="#555" stroke-width="0.5"/>
<text x="330" y="162" font-size="7.0" text-anchor="middle" fill="#262626" font-weight="normal" >200</text>
<line x1="330" x2="330" y1="15.0" y2="16.8" stroke="#555" stroke-width="0.5"/>
<text x="351.3" y="162" font-size="7.0" text-anchor="middle" fill="#262626" font-weight="normal" >250</text>
<line x1="351.3" x2="351.3" y1="15.0" y2="16.8" stroke="#555" stroke-width="0.5"/>
<text x="372.6" y="162" font-size="7.0" text-anchor="middle" fill="#262626" font-weight="normal" >300</text>
<line x1="372.6" x2="372.6" y1="15.0" y2="16.8" stroke="#555" stroke-width="0.5"/>
<text x="393.9" y="162" font-size="7.0" text-anchor="middle" fill="#262626" font-weight="normal" >350</text>
<line x1="393.9" x2="393.9" y1="15.0" y2="16.8" stroke="#555" stroke-width="0.5"/>
<text x="415.2" y="162" font-size="7.0" text-anchor="middle" fill="#262626" font-weight="normal" >400</text>
<line x1="415.2" x2="415.2" y1="15.0" y2="16.8" stroke="#555" stroke-width="0.5"/>
<text x="340.3" y="171.8" font-size="7.5" text-anchor="middle" fill="#262626" font-weight="normal" textLength="41.3" lengthAdjust="spacingAndGlyphs">Time (msec)</text>
<text x="335.3" y="10" font-size="8.6" text-anchor="middle" fill="#262626" font-weight="bold" textLength="79.6" lengthAdjust="spacingAndGlyphs" fill="#1a1a1a" stroke="#1a1a1a" stroke-width="0.28">(b) Feature Tracking</text>
<rect x="244.2" y="118.3" width="192.6" height="32.1" fill="none" stroke="#2b3440" stroke-width="1.4" stroke-dasharray="4,2.3"/>
<line x1="248.5" y1="151.5" x2="248.5" y2="181.5" stroke="#2b3440" stroke-width="1.4" stroke-dasharray="4,2.3"/>
<polygon points="246.6,181 250.4,181 248.5,185.2" fill="#222"/>
<rect x="455.3" y="15.0" width="86.59999999999997" height="137.2" fill="#fff" stroke="#9a9a9a" stroke-width="0.5"/>
<line x1="466.9" x2="466.9" y1="15.0" y2="152.2" stroke="#b0b0b0" stroke-width="0.6" stroke-dasharray="2.5,1.8"/>
<line x1="477.2" x2="477.2" y1="15.0" y2="152.2" stroke="#b0b0b0" stroke-width="0.6" stroke-dasharray="2.5,1.8"/>
<line x1="489.7" x2="489.7" y1="15.0" y2="152.2" stroke="#b0b0b0" stroke-width="0.6" stroke-dasharray="2.5,1.8"/>
<line x1="504.3" x2="504.3" y1="15.0" y2="152.2" stroke="#b0b0b0" stroke-width="0.6" stroke-dasharray="2.5,1.8"/>
<line x1="521.0" x2="521.0" y1="15.0" y2="152.2" stroke="#b0b0b0" stroke-width="0.6" stroke-dasharray="2.5,1.8"/>
<line x1="538.2" x2="538.2" y1="15.0" y2="152.2" stroke="#b0b0b0" stroke-width="0.6" stroke-dasharray="2.5,1.8"/>
<rect x="457.0" y="131.1" width="11.1" height="18.5" fill="#9ccdee"/>
<rect x="457.8" y="131.1" width="7.9" height="18.5" fill="#2a8dcf"/>
<rect x="465.7" y="108.8" width="12.7" height="17.9" fill="#9ccdee"/>
<rect x="468.6" y="108.8" width="7.4" height="17.9" fill="#2a8dcf"/>
<rect x="476.0" y="85.4" width="15" height="18.5" fill="#9ccdee"/>
<rect x="479.2" y="85.4" width="8.6" height="18.5" fill="#2a8dcf"/>
<rect x="488.0" y="63.0" width="17.8" height="18.1" fill="#9ccdee"/>
<rect x="491.4" y="63.0" width="11.1" height="18.1" fill="#2a8dcf"/>
<rect x="502.5" y="39.8" width="19.2" height="18.1" fill="#9ccdee"/>
<rect x="506.2" y="39.8" width="11.8" height="18.1" fill="#2a8dcf"/>
<rect x="518.4" y="17.2" width="21" height="18.2" fill="#9ccdee"/>
<rect x="522.4" y="17.2" width="13.2" height="18.2" fill="#2a8dcf"/>
<text x="452.6" y="143.5" font-size="7.0" text-anchor="end" fill="#262626" font-weight="normal" >1</text>
<line x1="455.3" x2="457.1" y1="141.0" y2="141.0" stroke="#555" stroke-width="0.5"/>
<line x1="540.1" x2="541.9" y1="141.0" y2="141.0" stroke="#555" stroke-width="0.5"/>
<text x="452.6" y="121.1" font-size="7.0" text-anchor="end" fill="#262626" font-weight="normal" >2</text>
<line x1="455.3" x2="457.1" y1="118.6" y2="118.6" stroke="#555" stroke-width="0.5"/>
<line x1="540.1" x2="541.9" y1="118.6" y2="118.6" stroke="#555" stroke-width="0.5"/>
<text x="452.6" y="97.25" font-size="7.0" text-anchor="end" fill="#262626" font-weight="normal" >3</text>
<line x1="455.3" x2="457.1" y1="94.75" y2="94.75" stroke="#555" stroke-width="0.5"/>
<line x1="540.1" x2="541.9" y1="94.75" y2="94.75" stroke="#555" stroke-width="0.5"/>
<text x="452.6" y="75" font-size="7.0" text-anchor="end" fill="#262626" font-weight="normal" >4</text>
<line x1="455.3" x2="457.1" y1="72.5" y2="72.5" stroke="#555" stroke-width="0.5"/>
<line x1="540.1" x2="541.9" y1="72.5" y2="72.5" stroke="#555" stroke-width="0.5"/>
<text x="452.6" y="52.2" font-size="7.0" text-anchor="end" fill="#262626" font-weight="normal" >5</text>
<line x1="455.3" x2="457.1" y1="49.7" y2="49.7" stroke="#555" stroke-width="0.5"/>
<line x1="540.1" x2="541.9" y1="49.7" y2="49.7" stroke="#555" stroke-width="0.5"/>
<text x="452.6" y="29" font-size="7.0" text-anchor="end" fill="#262626" font-weight="normal" >6</text>
<line x1="455.3" x2="457.1" y1="26.5" y2="26.5" stroke="#555" stroke-width="0.5"/>
<line x1="540.1" x2="541.9" y1="26.5" y2="26.5" stroke="#555" stroke-width="0.5"/>
<text x="0" y="0" font-size="7.2" text-anchor="end" fill="#262626" font-weight="normal" transform="translate(462.9,159.9) rotate(-45)">80</text>
<text x="0" y="0" font-size="7.2" text-anchor="end" fill="#262626" font-weight="normal" transform="translate(472.79999999999995,159.9) rotate(-45)">180</text>
<text x="0" y="0" font-size="7.2" text-anchor="end" fill="#262626" font-weight="normal" transform="translate(483.09999999999997,159.9) rotate(-45)">300</text>
<text x="0" y="0" font-size="7.2" text-anchor="end" fill="#262626" font-weight="normal" transform="translate(495.59999999999997,159.9) rotate(-45)">440</text>
<text x="0" y="0" font-size="7.2" text-anchor="end" fill="#262626" font-weight="normal" transform="translate(510.2,159.9) rotate(-45)">600</text>
<text x="0" y="0" font-size="7.2" text-anchor="end" fill="#262626" font-weight="normal" transform="translate(526.9,159.9) rotate(-45)">780</text>
<text x="0" y="0" font-size="7.2" text-anchor="end" fill="#262626" font-weight="normal" transform="translate(544.1,159.9) rotate(-45)">980</text>
<text x="498.4" y="177" font-size="7.5" text-anchor="middle" fill="#262626" font-weight="normal" textLength="48" lengthAdjust="spacingAndGlyphs">Frequency(Hz)</text>
<text x="0" y="0" font-size="7.5" text-anchor="middle" fill="#262626" font-weight="normal" transform="translate(445.4,84.6) rotate(-90)" textLength="32.5" lengthAdjust="spacingAndGlyphs">Channel #</text>
<text x="496.6" y="10" font-size="8.6" text-anchor="middle" fill="#262626" font-weight="bold" textLength="98.8" lengthAdjust="spacingAndGlyphs" fill="#1a1a1a" stroke="#1a1a1a" stroke-width="0.28">(c) Frequency Allocation</text>
<rect x="33.4" y="190.2" width="508.4" height="13.3" fill="#d6ebf7"/>
<rect x="33.4" y="207.7" width="508.4" height="11.6" fill="#e0e9d3"/>
<rect x="33.4" y="223.2" width="508.4" height="10.4" fill="#e4d6ec"/>
<rect x="33.4" y="237.0" width="508.4" height="9.1" fill="#fcecd2"/>
<rect x="33.4" y="249.1" width="508.4" height="8.7" fill="#f8ddd4"/>
<rect x="33.4" y="259.5" width="508.4" height="7.3" fill="#d4e5f3"/>
<text x="45.8" y="197.3" font-size="8.6" text-anchor="middle" fill="#8ccbee" font-weight="normal" >6</text>
<text x="45.8" y="215.8" font-size="8.6" text-anchor="middle" fill="#9cba5a" font-weight="normal" >5</text>
<text x="45.8" y="231.1" font-size="8.6" text-anchor="middle" fill="#8a4cc4" font-weight="normal" >4</text>
<text x="45.8" y="244.6" font-size="8.6" text-anchor="middle" fill="#f3c24a" font-weight="normal" >3</text>
<text x="45.8" y="256.3" font-size="8.6" text-anchor="middle" fill="#ee7c52" font-weight="normal" >2</text>
<text x="45.8" y="266.5" font-size="8.6" text-anchor="middle" fill="#5d9ad6" font-weight="normal" >1</text>
<text x="31.3" y="192.6" font-size="7.0" text-anchor="end" fill="#262626" font-weight="normal" >980</text>
<line x1="34.2" x2="36.5" y1="190.0" y2="190.0" stroke="#777" stroke-width="0.5"/>
<text x="31.3" y="209.3" font-size="7.0" text-anchor="end" fill="#262626" font-weight="normal" >780</text>
<line x1="34.2" x2="36.5" y1="206.7" y2="206.7" stroke="#777" stroke-width="0.5"/>
<text x="31.3" y="224.9" font-size="7.0" text-anchor="end" fill="#262626" font-weight="normal" >600</text>
<line x1="34.2" x2="36.5" y1="222.3" y2="222.3" stroke="#777" stroke-width="0.5"/>
<text x="31.3" y="238.9" font-size="7.0" text-anchor="end" fill="#262626" font-weight="normal" >440</text>
<line x1="34.2" x2="36.5" y1="236.3" y2="236.3" stroke="#777" stroke-width="0.5"/>
<text x="31.3" y="251.1" font-size="7.0" text-anchor="end" fill="#262626" font-weight="normal" >300</text>
<line x1="34.2" x2="36.5" y1="248.5" y2="248.5" stroke="#777" stroke-width="0.5"/>
<text x="31.3" y="260.9" font-size="7.0" text-anchor="end" fill="#262626" font-weight="normal" >180</text>
<line x1="34.2" x2="36.5" y1="258.3" y2="258.3" stroke="#777" stroke-width="0.5"/>
<text x="31.3" y="269.4" font-size="7.0" text-anchor="end" fill="#262626" font-weight="normal" >80</text>
<line x1="34.2" x2="36.5" y1="266.8" y2="266.8" stroke="#777" stroke-width="0.5"/>
<polyline fill="none" stroke="#2ee8a4" stroke-width="1.5" stroke-linejoin="round" stroke-linecap="round" points="34,195.4 36,196.94 38,198.5 41,201.9 44,197.5 46,197.28 48,196.68 50,196.4 52,196.27 54,196.16 56,196.21 58,195.9 60,195.81 62,195.39 64,195.72 66,195.04 68,195.06 70,195 72,194.9 74,194.54 76,194.53 78,194.05 80,193.85 82,193.76 84,193.98 86,193.3 88,193.04 90,193.2 92,192.57 94,192.6 96,192.29 98,192.04 100,191.5 102.3,190.95 104.6,189.78 106.9,189.16 109.2,187.86 111.5,187.3" />
<polyline fill="none" stroke="#36aaf2" stroke-width="1.5" stroke-linejoin="round" stroke-linecap="round" points="34,214.4 36,215.91 38,217 41,219.5 43,218.18 45,217 47.5,216.75 50,216.5 52.08,216.47 54.17,216.22 56.25,215.65 58.33,215.71 60.42,214.96 62.5,214.67 64.58,214.75 66.67,214.6 68.75,214.47 70.83,214.04 72.92,213.82 75,213.5 77.08,212.96 79.17,212.87 81.25,213.1 83.33,212.49 85.42,212.35 87.5,211.92 89.58,212.13 91.67,211.61 93.75,211.66 95.83,211.11 97.92,210.95 100,210.6 102,210.1 104,209.57 106,209.25 108,209.11 110,208.85 112,208.24 114,208.32 116,207.97 118,207.48 120,207 122,206.43 124,206.21 126,205.4 128,205.29 130,204.78 132,204.52 134,204.16 136,203.65 138,202.94 140,202.8 142,202.35 144,201.77 146,201.33 148,200.83 150,200.5 152.14,200.55 154.29,199.98 156.43,199.81 158.57,199.58 160.71,199.86 162.86,199.39 165,199.2 167,199.67 169,200 172,202 174,201.07 176,200 178,199.68 180,199.67 182,199.55 184,199.74 186,199.54 188,199.35 190,199 192,198.64 194,198.83 196,198.44 198,198.82 200,198.5 202,198.46 204,198.93 206,199.54 208,199.6 210,200 212.5,201.63 215,203 217.5,202.55 220,201.5 222.5,201.18 225,201 227,200.77 229,201.11 231,200.86 233,201.21 235,201 237.5,199.53 240,198.5 243,202 245.5,204.8" />
<polyline fill="none" stroke="#f24a32" stroke-width="1.5" stroke-linejoin="round" stroke-linecap="round" points="34,235.4 36,236.2 38,236.8 41,238.5 43,237.52 45,236.5 47.5,236.19 50,236 52.08,236.11 54.17,235.99 56.25,235.42 58.33,235.46 60.42,234.95 62.5,235.12 64.58,234.88 66.67,235 68.75,234.35 70.83,234.44 72.92,234.1 75,234 77.08,233.68 79.17,233.42 81.25,233 83.33,233.01 85.42,232.64 87.5,232.54 89.58,231.93 91.67,231.71 93.75,231.88 95.83,231.2 97.92,231.29 100,231 102,230.47 104,230.3 106,230.3 108,230.07 110,229.47 112,229.08 114,228.97 116,228.94 118,228.57 120,228 122,227.35 124,227.17 126,226.48 128,225.99 130,226.12 132,225.44 134,224.97 136,224.82 138,224.15 140,223.7 142,223.47 144,223.78 146,224.1 148,224 150,224.13 152,223.67 154,223.55 156,223.65 158,224.17 160,223.9 162.5,223.76 165,223 167.5,220.7 170,218.8 172,221.38 174,224 176,224.13 178,224.43 180,224.5 182,224.6 184,224.02 186,224.51 188,224.03 190,224 192,223.49 194,223.4 196,223 198,223.97 200,225 203,231.2 205,230.29 207,229.5 209.5,228.62 212,227.5 214,227.55 216,228.13 218,228.5 220,227.55 222,227 224,225.69 226,225 228.5,224.8 231,224.5 233,219.5 235,226 238,231 240,231.6 242.5,230.97 245,231 247.5,232.74 250,234 252.5,233.44 255,232.5 257.5,233.56 260,234.5 262,234.89 264,235.16 266,235.67 268,235.69 270,236 272.5,236.25 275,237 277.5,236.93 280,237" />
<polyline fill="none" stroke="#34e896" stroke-width="1.5" stroke-linejoin="round" stroke-linecap="round" points="34,254.3 36,254.6 38,254.32 40,254.26 42,254.15 44,254.13 46,254.78 48,254.66 50,254.6 52,254.39 54,254.48 56,254.34 58,254.43 60,254.6 62,254.64 64,254.1 66,254.33 68,254.24 70,253.83 72,253.89 74,254.14 76,254.19 78,253.62 80,253.54 82,253.56 84,253.54 86,253.39 88,253.32 90,253.3 92,253.45 94,253.2 96,252.75 98,252.62 100,252.8 102,252.78 104,252.55 106,252.38 108,251.85 110,251.66 112,251.8 114,251.27 116,251.19 118,251.28 120,250.92 122,250.43 124,250.8 126,250.59 128,249.88 130,250 132,249.81 134,249.4 136,249.22 138,249.67 140,249.42 142,249.1 144,248.66 146,248.61 148,248.4 150,248.5 152,248.05 154,248.16 156,247.97 158,248.03 160,247.8 162,248.14 164,248.29 166,249 168,251.03 170,252.19 172,254.3 174,252.83 176,252 178,251.7 180,251 182,250.65 184,250.21 186,250.44 188,249.47 190,249.5 192,249.54 194,249.35 196,249.15 198,248.69 200,248.5 202,248.65 204,248.71 206,248.67 208,249.01 210,249.12 212,249.72 214,249.64 216,249.64 218,250.17 220,250 222,250.13 224,250.29 226,250.12 228,250.25 230,250.78 232,250.8 234,250.89 236,251.07 238,250.87 240,251.5 242,251.45 244,251.79 246,251.98 248,251.73 250,252 252,252.21 254,252.21 256,252.47 258,252.65 260,252.32 262,252.78 264,253.21 266,252.96 268,253.18 270,253.06 272,253.56 274,253.67 276,253.42 278,253.73 280,254 282,254.41 284,255.43 286,255.73 288,256.67 290,257 292,257.21 294,257.11 296,256.95 298,257.27 300,257 302,256.99 304,256.86 306,256.45 308,256.76 310,256.36 312,256.68 314,255.98 316,256.05 318,256.22 320,256 322,255.6 324,255.85 326,255.69 328,255.59 330,255.07 332,255.39 334,254.72 336,254.63 338,254.81 340,254.5 342,254.82 344,254.83 346,254.89 348,255.16 350,255.09 352,255.06 354,254.81 356,255.35 358,255.44 360,255.3 362,255.06 364,255.33 366,255.68 368,255.76 370,255.23 372,255.47 374,255.79 376,255.9 378,255.47 380,255.56 382,255.7 384,255.93 386,255.44 388,255.53 390,256.06 392,255.51 394,256.13 396,256.06 398,256.14 400,256 402,255.91 404,255.76 406,256.01 408,256.43 410,256.19 412,255.87 414,256.49 416,256.5 418,256.26 420,256.5 422,256.34 424,256.62 426,256.15 428,256.72 430,256.24 432,256.38 434,256.83 436,256.26 438,256.9 440,256.47 442,256.95 444,256.48 446,256.69 448,256.78 450,256.8 452,257.04 454,257.19 456,257.21 458,256.64 460,256.7 462,257.09 464,256.9 466,256.75 468,257.15 470,257.01 472,257.29 474,257.17 476,256.9 478,257.23 480,257.09 482,256.96 484,257.36 486,256.91 488,257.54 490,257.3 492,257 494,256.99 496,256.69 498,256.83 500,257.04 502,257.07 504,256.82 506,256.82 508,256.55 510,256.39 512,256.06 514,256.19 516,255.95 518,255.88 520,256 522,256 524,255.05 526,255.39 528,254.73 530,254.5 532,254.74 534,255.47 536,256 538.5,256.19 541,257" />
<polyline fill="none" stroke="#36e8a0" stroke-width="1.5" stroke-linejoin="round" stroke-linecap="round" points="247,200.2 249.5,196.5 252,194.5 254,194.96 256,194.8 258,195.94 260,196.9 262,197.13 264,197.83 266,198.19 268,198.96 270,199.4 272,199.83 274,200.25 276,200.81 278,201.22 280,201.8 282,202.39 284,202.74 286,202.52 288,203.1 290,203.5 292.33,203.35 294.67,203.23 297,203.5 299.5,203.01 302,202.6 304.5,200.11 307,197.7 310,195.3" />
<polyline fill="none" stroke="#f08a30" stroke-width="1.5" stroke-linejoin="round" stroke-linecap="round" points="238,212 240,213.3 242.5,211.93 245,211 247.33,212.56 249.67,213.81 252,214.9 254,214.91 256,215.29 258,215.06 260,215.5 262.5,215.33 265,215.7 267,215.89 269,216.66 271,217.15 273,217.7 275,218.2 277,217.97 279,217.69 281,217.86 283,217.66 285,217.4 287.5,216.96 290,216.5 292,217.5" />
<polyline fill="none" stroke="#3a8ef0" stroke-width="1.5" stroke-linejoin="round" stroke-linecap="round" points="291,223.9 293,220.5 295.33,220.32 297.67,220.22 300,220.6 302.5,221.57 305,222 307.5,223.19 310,223.9 312.5,224.87 315,225.2 316.5,220 318,214.1 320,214.94 322,216 324,215.7 326,215.24 328,214.96 330,214.4 332.14,214.34 334.29,214.78 336.43,214.84 338.57,215.25 340.71,215.28 342.86,215.65 345,216 347.14,216.52 349.29,216.42 351.43,217.12 353.57,217.34 355.71,217.49 357.86,217.79 360,218 362,218.23 364,218.07 366,218.28 368,218.6 370,218.41 372,219.05 374,219.26 376,219.04 378,219.38 380,219.5 382,219.65 384,220.06 386,220.21 388,220.05 390,219.91 392,220.75 394,220.71 396,220.84 398,220.98 400,221 402,220.86 404,221.4 406,221.79 408,221.47 410,221.54 412,221.81 414,222.16 416,222.33 418,222.32 420,222.5 422,222.6 424,222.72 426,222.76 428,222.97 430,222.98 432,223.57 434,223.73 436,224.01 438,223.96 440,224 442,224.08 444,224.16 446,223.92 448,224.22 450,224.17 452,224.54 454,224.11 456,224.19 458,224.65 460,224.5 462,224.04 464,224.4 466,224.44 468,224.58 470,224.5 472,224.77 474,224.3 476,224.53 478,224.43 480,224.58 482,224.83 484,224.75 486,225.22 488,225 491,228 493,229" />
<polyline fill="none" stroke="#f4b232" stroke-width="1.5" stroke-linejoin="round" stroke-linecap="round" points="317,244 320,240 322.5,237.44 325,235 327.5,233.7 330,233 332.14,233.45 334.29,233.34 336.43,233.65 338.57,233.86 340.71,234.19 342.86,234.73 345,235 347.14,235.46 349.29,235.47 351.43,235.61 353.57,236.02 355.71,236.38 357.86,236.45 360,237 362,236.91 364,237.28 366,237.85 368,237.73 370,238.16 372,238.11 374,238.74 376,238.44 378,238.78 380,239 382,238.91 384,239.48 386,239.76 388,239.88 390,239.93 392,239.64 394,240.2 396,240.42 398,240.53 400,240.5 402,240.18 404,240.32 406,240.34 408,240.26 410,240.22 412,240.6 414,240.4 416,240.26 418,240.4 420,240.3 422,240.19 424,240 426,240.49 428,240.33 430,240.49 432,240.33 434,240.44 436,240.51 438,240.28 440,240.5 442,240.33 444,240.65 446,240.63 448,240.6 450,240.55 452,240.82 454,241 456,240.45 458,241.03 460,240.8 462,240.79 464,240.86 466,240.68 468,240.69 470,240.59 472,240.54 474,240.38 476,240.27 478,240.36 480,240.2 482,240.33 484,240.12 486,240.72 488,240.42 490,240.77 492,240.44 494,240.81 496,240.82 498,240.59 500,240.8 502.14,240.76 504.29,240.2 506.43,240.47 508.57,240.33 510.71,240.03 512.86,240.01 515,239.6 517,239.63 519,239.95 521,239.92 523,240.61 525,240.5 527,241.04 529,240.83 531,240.77 533,241.16 535,241.5 537,242.29 539,242.29 541,243" />
<polyline fill="none" stroke="#3a9ef2" stroke-width="1.5" stroke-linejoin="round" stroke-linecap="round" points="318,188.5 320.33,188.09 322.67,188.11 325,188 327.5,190.45 330,193.2 332,193.77 334,194.58 336,195.5 338,195.7 340,196.5 342,197.18 344,197.44 346,198.1 348,198.47 350,199 352,199.57 354,199.79 356,200.03 358,200.49 360,200.5 362,200.69 364,201.21 366,201.73 368,201.86 370,202 372,202.01 374,202.21 376,202.8 378,203.01 380,203 382.5,202.33 385,202 387.5,202.14 390,202.5 393,201 395.5,204" />
<polyline fill="none" stroke="#f08a30" stroke-width="1.5" stroke-linejoin="round" stroke-linecap="round" points="399.8,187.4 401.84,187.78 403.88,187.94 405.92,187.91 407.96,188.29 410,188.5 412,188.92 414,188.45 416,188.71 418,189 420,189 422,189.09 424,189.41 426,189.55 428,189.51 430,190 432,190.3 434,190 436,189.91 438,190.01 440,190 442,190.52 444,190.28 446,190.84 448,191.29 450,191.5 452,191.53 454,191.68 456,192.1 458,192.59 460,192.5 462,192.12 464,191.93 466,192.03 468,191.51 470,191.5 472,191.42 474,191.52 476,191.59 478,191.92 480,192 482,191.58 484,191.81 486,191.52 488,191.61 490,191.2 492,191.23 494,191.13 496,191.68 498,191.49 500,191.8 502,191.95 504,192.06 506,191.9 508,192.25 510,192.5 512,192.98 514,193.93 516,194.8 519.5,195.8 521.75,194.39 524,193 526,192.51 528,192.27 530,191.5 532.2,191.88 534.4,191.71 536.6,191.69 538.8,191.49 541,191.8" />
<polyline fill="none" stroke="#f034e0" stroke-width="1.5" stroke-linejoin="round" stroke-linecap="round" points="498,224.5 500,224.38 502,224.3 504,224.46 506,224.25 508,224.04 510,224.3 512,224.46 514,224.85 516,224.62 518,225 520,225.86 522,226 524,227 526,226.33 528,225.66 530,225 532.2,224.69 534.4,224.8 536.6,225.03 538.8,224.73 541,224.5" />
<polyline fill="none" stroke="#36e8d8" stroke-width="1.1" stroke-linejoin="round" stroke-linecap="round" points="490,224 492.5,219.5 495.5,222.5" />
<polyline fill="none" stroke="#f04a32" stroke-width="1.1" stroke-linejoin="round" stroke-linecap="round" points="450,208 452,210.5 455,210.8" />
<polyline fill="none" stroke="#30e070" stroke-width="1.1" stroke-linejoin="round" stroke-linecap="round" points="535,202.5 537,203.5 539,208 541,209.5" />
<polyline fill="none" stroke="#e030e0" stroke-width="1.1" stroke-linejoin="round" stroke-linecap="round" points="288,188.5 292,189.5 298,190" />
<polyline fill="none" stroke="#30e060" stroke-width="1.2" stroke-linejoin="round" stroke-linecap="round" points="224,188 227,191 230,189 233,187.5 236,189 238,191" />
<polyline fill="none" stroke="#a040e0" stroke-width="1.1" stroke-linejoin="round" stroke-linecap="round" points="245,189 248,192" />
<polyline fill="none" stroke="#30e060" stroke-width="1.1" stroke-linejoin="round" stroke-linecap="round" points="170,187.5 174,189 178,188" />
<rect x="396.1" y="204.3" width="2.2" height="1.4" fill="#e030e0"/>
<rect x="404.1" y="205.3" width="2.2" height="1.4" fill="#30c0f0"/>
<rect x="414.1" y="203.8" width="2.2" height="1.4" fill="#f0a030"/>
<rect x="424.1" y="205.3" width="2.2" height="1.4" fill="#3060f0"/>
<rect x="436.1" y="204.3" width="2.2" height="1.4" fill="#30e060"/>
<rect x="446.1" y="205.8" width="2.2" height="1.4" fill="#30c0f0"/>
<rect x="457.1" y="204.3" width="2.2" height="1.4" fill="#3060f0"/>
<rect x="462.1" y="206.3" width="2.2" height="1.4" fill="#30c0f0"/>
<rect x="281.1" y="227.3" width="2.2" height="1.4" fill="#f0a030"/>
<rect x="284.1" y="235.3" width="2.2" height="1.4" fill="#30e060"/>
<rect x="286.1" y="244.3" width="2.2" height="1.4" fill="#30e060"/>
<rect x="344.1" y="239.3" width="2.2" height="1.4" fill="#3060f0"/>
<rect x="352.1" y="237.8" width="2.2" height="1.4" fill="#e030e0"/>
<rect x="377.1" y="210.3" width="2.2" height="1.4" fill="#3060f0"/>
<rect x="192.1" y="185.20000000000002" width="2.2" height="1.4" fill="#f0a030"/>
<rect x="261.1" y="219.3" width="2.2" height="1.4" fill="#3060f0"/>
<rect x="299.1" y="237.8" width="2.2" height="1.4" fill="#30e060"/>
<rect x="309.1" y="238.3" width="2.2" height="1.4" fill="#e030e0"/>
<rect x="319.1" y="239.3" width="2.2" height="1.4" fill="#e030e0"/>
<rect x="469.1" y="226.3" width="2.2" height="1.4" fill="#e030e0"/>
<rect x="436.1" y="190.3" width="2.2" height="1.4" fill="#30e060"/>
<rect x="509.1" y="210.3" width="2.2" height="1.4" fill="#30e060"/>
<polyline fill="none" stroke="#a040e0" stroke-width="1.1" stroke-linejoin="round" stroke-linecap="round" points="143.8,187.1 145,185.9 146.2,187.1" />
<polyline fill="none" stroke="#f0a030" stroke-width="1.1" stroke-linejoin="round" stroke-linecap="round" points="170.8,193.6 172,192.4 173.2,193.6" />
<polyline fill="none" stroke="#a040e0" stroke-width="1.1" stroke-linejoin="round" stroke-linecap="round" points="188.8,187.1 190,185.9 191.2,187.1" />
<polyline fill="none" stroke="#e030a0" stroke-width="1.1" stroke-linejoin="round" stroke-linecap="round" points="144.8,210.6 146,209.4 147.2,210.6" />
<polyline fill="none" stroke="#30e060" stroke-width="1.1" stroke-linejoin="round" stroke-linecap="round" points="132.8,213.6 134,212.4 135.2,213.6" />
<polyline fill="none" stroke="#e030e0" stroke-width="1.1" stroke-linejoin="round" stroke-linecap="round" points="198.8,218.6 200,217.4 201.2,218.6" />
<polyline fill="none" stroke="#30e060" stroke-width="1.1" stroke-linejoin="round" stroke-linecap="round" points="203.8,222.6 205,221.4 206.2,222.6" />
<polyline fill="none" stroke="#30d0f0" stroke-width="1.1" stroke-linejoin="round" stroke-linecap="round" points="168.8,235.6 170,234.4 171.2,235.6" />
<polyline fill="none" stroke="#c0e040" stroke-width="1.1" stroke-linejoin="round" stroke-linecap="round" points="170.8,240.6 172,239.4 173.2,240.6" />
<polyline fill="none" stroke="#30e060" stroke-width="1.1" stroke-linejoin="round" stroke-linecap="round" points="178.8,246.6 180,245.4 181.2,246.6" />
<polyline fill="none" stroke="#6040e0" stroke-width="1.1" stroke-linejoin="round" stroke-linecap="round" points="158.8,261.6 160,260.4 161.2,261.6" />
<polyline fill="none" stroke="#30e060" stroke-width="1.1" stroke-linejoin="round" stroke-linecap="round" points="212.8,193.1 214,191.9 215.2,193.1" />
<polyline fill="none" stroke="#3060f0" stroke-width="1.1" stroke-linejoin="round" stroke-linecap="round" points="223.8,196.6 225,195.4 226.2,196.6" />
<polyline fill="none" stroke="#f0e030" stroke-width="1.1" stroke-linejoin="round" stroke-linecap="round" points="148.8,226.1 150,224.9 151.2,226.1" />
<polyline fill="none" stroke="#30e060" stroke-width="1.1" stroke-linejoin="round" stroke-linecap="round" points="183.8,216.6 185,215.4 186.2,216.6" />
<polyline fill="none" stroke="#e030e0" stroke-width="1.1" stroke-linejoin="round" stroke-linecap="round" points="213.8,232.6 215,231.4 216.2,232.6" />
<polyline fill="none" stroke="#e030e0" stroke-width="1.1" stroke-linejoin="round" stroke-linecap="round" points="118.8,210.6 120,209.4 121.2,210.6" />
<polyline fill="none" stroke="#30e060" stroke-width="1.1" stroke-linejoin="round" stroke-linecap="round" points="108.8,221.6 110,220.4 111.2,221.6" />
<polyline fill="none" stroke="#3060f0" stroke-width="1.1" stroke-linejoin="round" stroke-linecap="round" points="263.8,209.6 265,208.4 266.2,209.6" />
<polyline fill="none" stroke="#30c0f0" stroke-width="1.1" stroke-linejoin="round" stroke-linecap="round" points="253.8,221.6 255,220.4 256.2,221.6" />
<polyline fill="none" stroke="#f0a030" stroke-width="1.1" stroke-linejoin="round" stroke-linecap="round" points="243.8,240.6 245,239.4 246.2,240.6" />
<polyline fill="none" stroke="#e030e0" stroke-width="1.1" stroke-linejoin="round" stroke-linecap="round" points="298.8,190.6 300,189.4 301.2,190.6" />
<polyline fill="none" stroke="#30e060" stroke-width="1.1" stroke-linejoin="round" stroke-linecap="round" points="328.8,211.6 330,210.4 331.2,211.6" />
<polyline fill="none" stroke="#f0e030" stroke-width="1.1" stroke-linejoin="round" stroke-linecap="round" points="338.8,205.6 340,204.4 341.2,205.6" />
<text x="89.35" y="276.9" font-size="7.0" text-anchor="middle" fill="#262626" font-weight="normal" >50</text>
<line x1="89.35" x2="89.35" y1="264.8" y2="267.4" stroke="#777" stroke-width="0.5"/>
<line x1="89.35" x2="89.35" y1="186.6" y2="189.2" stroke="#777" stroke-width="0.5"/>
<text x="146.3" y="276.9" font-size="7.0" text-anchor="middle" fill="#262626" font-weight="normal" >100</text>
<line x1="146.3" x2="146.3" y1="264.8" y2="267.4" stroke="#777" stroke-width="0.5"/>
<line x1="146.3" x2="146.3" y1="186.6" y2="189.2" stroke="#777" stroke-width="0.5"/>
<text x="203.25" y="276.9" font-size="7.0" text-anchor="middle" fill="#262626" font-weight="normal" >150</text>
<line x1="203.25" x2="203.25" y1="264.8" y2="267.4" stroke="#777" stroke-width="0.5"/>
<line x1="203.25" x2="203.25" y1="186.6" y2="189.2" stroke="#777" stroke-width="0.5"/>
<text x="260.2" y="276.9" font-size="7.0" text-anchor="middle" fill="#262626" font-weight="normal" >200</text>
<line x1="260.2" x2="260.2" y1="264.8" y2="267.4" stroke="#777" stroke-width="0.5"/>
<line x1="260.2" x2="260.2" y1="186.6" y2="189.2" stroke="#777" stroke-width="0.5"/>
<text x="317.15" y="276.9" font-size="7.0" text-anchor="middle" fill="#262626" font-weight="normal" >250</text>
<line x1="317.15" x2="317.15" y1="264.8" y2="267.4" stroke="#777" stroke-width="0.5"/>
<line x1="317.15" x2="317.15" y1="186.6" y2="189.2" stroke="#777" stroke-width="0.5"/>
<text x="374.1" y="276.9" font-size="7.0" text-anchor="middle" fill="#262626" font-weight="normal" >300</text>
<line x1="374.1" x2="374.1" y1="264.8" y2="267.4" stroke="#777" stroke-width="0.5"/>
<line x1="374.1" x2="374.1" y1="186.6" y2="189.2" stroke="#777" stroke-width="0.5"/>
<text x="431.05" y="276.9" font-size="7.0" text-anchor="middle" fill="#262626" font-weight="normal" >350</text>
<line x1="431.05" x2="431.05" y1="264.8" y2="267.4" stroke="#777" stroke-width="0.5"/>
<line x1="431.05" x2="431.05" y1="186.6" y2="189.2" stroke="#777" stroke-width="0.5"/>
<text x="488" y="276.9" font-size="7.0" text-anchor="middle" fill="#262626" font-weight="normal" >400</text>
<line x1="488" x2="488" y1="264.8" y2="267.4" stroke="#777" stroke-width="0.5"/>
<line x1="488" x2="488" y1="186.6" y2="189.2" stroke="#777" stroke-width="0.5"/>
<text x="287.3" y="286.5" font-size="7.5" text-anchor="middle" fill="#262626" font-weight="normal" textLength="41.8" lengthAdjust="spacingAndGlyphs">Time (msec)</text>
<text x="0" y="0" font-size="8.0" text-anchor="middle" fill="#262626" font-weight="normal" transform="translate(13.7,228.9) rotate(-90)" textLength="57.2" lengthAdjust="spacingAndGlyphs">Frequency (Hz)</text>
<rect x="33.4" y="185.8" width="508.4" height="82.5" fill="none" stroke="#2b3440" stroke-width="1.6" stroke-dasharray="4.6,2.5"/>
<rect x="33.6" y="302.3" width="507.2" height="79" fill="none" stroke="#8a8a8a" stroke-width="0.6"/>
<line x1="90.18" x2="90.18" y1="302.3" y2="304.3" stroke="#555" stroke-width="0.5"/>
<line x1="90.18" x2="90.18" y1="378.8" y2="381.3" stroke="#555" stroke-width="0.5"/>
<line x1="146.46" x2="146.46" y1="302.3" y2="304.3" stroke="#555" stroke-width="0.5"/>
<line x1="146.46" x2="146.46" y1="378.8" y2="381.3" stroke="#555" stroke-width="0.5"/>
<line x1="202.74" x2="202.74" y1="302.3" y2="304.3" stroke="#555" stroke-width="0.5"/>
<line x1="202.74" x2="202.74" y1="378.8" y2="381.3" stroke="#555" stroke-width="0.5"/>
<line x1="259.02" x2="259.02" y1="302.3" y2="304.3" stroke="#555" stroke-width="0.5"/>
<line x1="259.02" x2="259.02" y1="378.8" y2="381.3" stroke="#555" stroke-width="0.5"/>
<line x1="315.3" x2="315.3" y1="302.3" y2="304.3" stroke="#555" stroke-width="0.5"/>
<line x1="315.3" x2="315.3" y1="378.8" y2="381.3" stroke="#555" stroke-width="0.5"/>
<line x1="371.58" x2="371.58" y1="302.3" y2="304.3" stroke="#555" stroke-width="0.5"/>
<line x1="371.58" x2="371.58" y1="378.8" y2="381.3" stroke="#555" stroke-width="0.5"/>
<line x1="427.86" x2="427.86" y1="302.3" y2="304.3" stroke="#555" stroke-width="0.5"/>
<line x1="427.86" x2="427.86" y1="378.8" y2="381.3" stroke="#555" stroke-width="0.5"/>
<line x1="484.14" x2="484.14" y1="302.3" y2="304.3" stroke="#555" stroke-width="0.5"/>
<line x1="484.14" x2="484.14" y1="378.8" y2="381.3" stroke="#555" stroke-width="0.5"/>
<line x1="540.42" x2="540.42" y1="302.3" y2="304.3" stroke="#555" stroke-width="0.5"/>
<line x1="540.42" x2="540.42" y1="378.8" y2="381.3" stroke="#555" stroke-width="0.5"/>
<text x="33.9" y="391.6" font-size="7.0" text-anchor="middle" fill="#262626" font-weight="normal" >0</text>
<text x="90.18" y="391.6" font-size="7.0" text-anchor="middle" fill="#262626" font-weight="normal" >50</text>
<text x="146.46" y="391.6" font-size="7.0" text-anchor="middle" fill="#262626" font-weight="normal" >100</text>
<text x="202.74" y="391.6" font-size="7.0" text-anchor="middle" fill="#262626" font-weight="normal" >150</text>
<text x="259.02" y="391.6" font-size="7.0" text-anchor="middle" fill="#262626" font-weight="normal" >200</text>
<text x="315.3" y="391.6" font-size="7.0" text-anchor="middle" fill="#262626" font-weight="normal" >250</text>
<text x="371.58" y="391.6" font-size="7.0" text-anchor="middle" fill="#262626" font-weight="normal" >300</text>
<text x="427.86" y="391.6" font-size="7.0" text-anchor="middle" fill="#262626" font-weight="normal" >350</text>
<text x="484.14" y="391.6" font-size="7.0" text-anchor="middle" fill="#262626" font-weight="normal" >400</text>
<text x="540.42" y="391.6" font-size="7.0" text-anchor="middle" fill="#262626" font-weight="normal" >450</text>
<text x="287.3" y="401.2" font-size="7.5" text-anchor="middle" fill="#262626" font-weight="normal" textLength="41.8" lengthAdjust="spacingAndGlyphs">Time (msec)</text>
<text x="0" y="0" font-size="8.2" text-anchor="middle" fill="#262626" font-weight="normal" transform="translate(21.7,341.0) rotate(-90)" textLength="37" lengthAdjust="spacingAndGlyphs">Channel #</text>
<text x="286" y="297.4" font-size="8.6" text-anchor="middle" fill="#262626" font-weight="bold" textLength="101.5" lengthAdjust="spacingAndGlyphs" fill="#1a1a1a" stroke="#1a1a1a" stroke-width="0.28">(d) Electrical Stimulation</text>
<line x1="539.0" x2="540.8" y1="312.5" y2="312.5" stroke="#666" stroke-width="0.5"/>
<line x1="539.0" x2="540.8" y1="326.2" y2="326.2" stroke="#666" stroke-width="0.5"/>
<line x1="539.0" x2="540.8" y1="339.0" y2="339.0" stroke="#666" stroke-width="0.5"/>
<line x1="539.0" x2="540.8" y1="352.3" y2="352.3" stroke="#666" stroke-width="0.5"/>
<line x1="539.0" x2="540.8" y1="365.5" y2="365.5" stroke="#666" stroke-width="0.5"/>
<line x1="539.0" x2="540.8" y1="378.7" y2="378.7" stroke="#666" stroke-width="0.5"/>
<text x="31.6" y="311.7" font-size="7.6" text-anchor="end" fill="#6cc0ec" font-weight="normal" >6</text>
<text x="31.6" y="325.4" font-size="7.6" text-anchor="end" fill="#6aaa3a" font-weight="normal" >5</text>
<text x="31.6" y="338.2" font-size="7.6" text-anchor="end" fill="#8a4cc4" font-weight="normal" >4</text>
<text x="31.6" y="351.6" font-size="7.6" text-anchor="end" fill="#f1c24c" font-weight="normal" >3</text>
<text x="31.6" y="364.7" font-size="7.6" text-anchor="end" fill="#ee7c52" font-weight="normal" >2</text>
<text x="31.6" y="378" font-size="7.6" text-anchor="end" fill="#5d9ad6" font-weight="normal" >1</text>
<polygon points="33.6,312.5 33.6,306 45,305.4 60,304.6 111.5,304.4 111.5,312.5" fill="#c3e5f6" />
<path d="M33.6 312.5V306M34.6 312.5V305.95M35.6 312.5V305.89M36.6 312.5V305.84M37.6 312.5V305.79M38.6 312.5V305.74M39.6 312.5V305.68M40.6 312.5V305.63M41.6 312.5V305.58M42.6 312.5V305.53M43.6 312.5V305.47M44.6 312.5V305.42M45.6 312.5V305.37M46.6 312.5V305.31M47.6 312.5V305.26M48.6 312.5V305.21M49.6 312.5V305.15M50.6 312.5V305.1M51.6 312.5V305.05M52.6 312.5V304.99M53.6 312.5V304.94M54.6 312.5V304.89M55.6 312.5V304.83M56.6 312.5V304.78M57.6 312.5V304.73M58.6 312.5V304.67M59.6 312.5V304.62M60.6 312.5V304.6M61.6 312.5V304.59M62.6 312.5V304.59M63.6 312.5V304.59M64.6 312.5V304.58M65.6 312.5V304.58M66.6 312.5V304.57M67.6 312.5V304.57M68.6 312.5V304.57M69.6 312.5V304.56M70.6 312.5V304.56M71.6 312.5V304.55M72.6 312.5V304.55M73.6 312.5V304.55M74.6 312.5V304.54M75.6 312.5V304.54M76.6 312.5V304.54M77.6 312.5V304.53M78.6 312.5V304.53M79.6 312.5V304.52M80.6 312.5V304.52M81.6 312.5V304.52M82.6 312.5V304.51M83.6 312.5V304.51M84.6 312.5V304.5M85.6 312.5V304.5M86.6 312.5V304.5M87.6 312.5V304.49M88.6 312.5V304.49M89.6 312.5V304.49M90.6 312.5V304.48M91.6 312.5V304.48M92.6 312.5V304.47M93.6 312.5V304.47M94.6 312.5V304.47M95.6 312.5V304.46M96.6 312.5V304.46M97.6 312.5V304.45M98.6 312.5V304.45M99.6 312.5V304.45M100.6 312.5V304.44M101.6 312.5V304.44M102.6 312.5V304.43M103.6 312.5V304.43M104.6 312.5V304.43M105.6 312.5V304.42M106.6 312.5V304.42M107.6 312.5V304.42M108.6 312.5V304.41M109.6 312.5V304.41M110.6 312.5V304.4" stroke="#a2d4ef" stroke-width="0.35" fill="none"/>
<polygon points="114.8,312.5 114.8,304.4 151,304.4 170,306 189,308 204,311 210,311.6 214.5,309.8 232,309.5 240,310 255,310 310,310.5 316,312 316,312.5" fill="#c3e5f6" />
<path d="M114.8 312.5V304.4M115.8 312.5V304.4M116.8 312.5V304.4M117.8 312.5V304.4M118.8 312.5V304.4M119.8 312.5V304.4M120.8 312.5V304.4M121.8 312.5V304.4M122.8 312.5V304.4M123.8 312.5V304.4M124.8 312.5V304.4M125.8 312.5V304.4M126.8 312.5V304.4M127.8 312.5V304.4M128.8 312.5V304.4M129.8 312.5V304.4M130.8 312.5V304.4M131.8 312.5V304.4M132.8 312.5V304.4M133.8 312.5V304.4M134.8 312.5V304.4M135.8 312.5V304.4M136.8 312.5V304.4M137.8 312.5V304.4M138.8 312.5V304.4M139.8 312.5V304.4M140.8 312.5V304.4M141.8 312.5V304.4M142.8 312.5V304.4M143.8 312.5V304.4M144.8 312.5V304.4M145.8 312.5V304.4M146.8 312.5V304.4M147.8 312.5V304.4M148.8 312.5V304.4M149.8 312.5V304.4M150.8 312.5V304.4M151.8 312.5V304.47M152.8 312.5V304.55M153.8 312.5V304.64M154.8 312.5V304.72M155.8 312.5V304.8M156.8 312.5V304.89M157.8 312.5V304.97M158.8 312.5V305.06M159.8 312.5V305.14M160.8 312.5V305.23M161.8 312.5V305.31M162.8 312.5V305.39M163.8 312.5V305.48M164.8 312.5V305.56M165.8 312.5V305.65M166.8 312.5V305.73M167.8 312.5V305.81M168.8 312.5V305.9M169.8 312.5V305.98M170.8 312.5V306.08M171.8 312.5V306.19M172.8 312.5V306.29M173.8 312.5V306.4M174.8 312.5V306.51M175.8 312.5V306.61M176.8 312.5V306.72M177.8 312.5V306.82M178.8 312.5V306.93M179.8 312.5V307.03M180.8 312.5V307.14M181.8 312.5V307.24M182.8 312.5V307.35M183.8 312.5V307.45M184.8 312.5V307.56M185.8 312.5V307.66M186.8 312.5V307.77M187.8 312.5V307.87M188.8 312.5V307.98M189.8 312.5V308.16M190.8 312.5V308.36M191.8 312.5V308.56M192.8 312.5V308.76M193.8 312.5V308.96M194.8 312.5V309.16M195.8 312.5V309.36M196.8 312.5V309.56M197.8 312.5V309.76M198.8 312.5V309.96M199.8 312.5V310.16M200.8 312.5V310.36M201.8 312.5V310.56M202.8 312.5V310.76M203.8 312.5V310.96M204.8 312.5V311.08M205.8 312.5V311.18M206.8 312.5V311.28M207.8 312.5V311.38M208.8 312.5V311.48M209.8 312.5V311.58M210.8 312.5V311.28M211.8 312.5V310.88M212.8 312.5V310.48M213.8 312.5V310.08M214.8 312.5V309.79M215.8 312.5V309.78M216.8 312.5V309.76M217.8 312.5V309.74M218.8 312.5V309.73M219.8 312.5V309.71M220.8 312.5V309.69M221.8 312.5V309.67M222.8 312.5V309.66M223.8 312.5V309.64M224.8 312.5V309.62M225.8 312.5V309.61M226.8 312.5V309.59M227.8 312.5V309.57M228.8 312.5V309.55M229.8 312.5V309.54M230.8 312.5V309.52M231.8 312.5V309.5M232.8 312.5V309.55M233.8 312.5V309.61M234.8 312.5V309.68M235.8 312.5V309.74M236.8 312.5V309.8M237.8 312.5V309.86M238.8 312.5V309.93M239.8 312.5V309.99M240.8 312.5V310M241.8 312.5V310M242.8 312.5V310M243.8 312.5V310M244.8 312.5V310M245.8 312.5V310M246.8 312.5V310M247.8 312.5V310M248.8 312.5V310M249.8 312.5V310M250.8 312.5V310M251.8 312.5V310M252.8 312.5V310M253.8 312.5V310M254.8 312.5V310M255.8 312.5V310.01M256.8 312.5V310.02M257.8 312.5V310.03M258.8 312.5V310.03M259.8 312.5V310.04M260.8 312.5V310.05M261.8 312.5V310.06M262.8 312.5V310.07M263.8 312.5V310.08M264.8 312.5V310.09M265.8 312.5V310.1M266.8 312.5V310.11M267.8 312.5V310.12M268.8 312.5V310.13M269.8 312.5V310.13M270.8 312.5V310.14M271.8 312.5V310.15M272.8 312.5V310.16M273.8 312.5V310.17M274.8 312.5V310.18M275.8 312.5V310.19M276.8 312.5V310.2M277.8 312.5V310.21M278.8 312.5V310.22M279.8 312.5V310.23M280.8 312.5V310.23M281.8 312.5V310.24M282.8 312.5V310.25M283.8 312.5V310.26M284.8 312.5V310.27M285.8 312.5V310.28M286.8 312.5V310.29M287.8 312.5V310.3M288.8 312.5V310.31M289.8 312.5V310.32M290.8 312.5V310.33M291.8 312.5V310.33M292.8 312.5V310.34M293.8 312.5V310.35M294.8 312.5V310.36M295.8 312.5V310.37M296.8 312.5V310.38M297.8 312.5V310.39M298.8 312.5V310.4M299.8 312.5V310.41M300.8 312.5V310.42M301.8 312.5V310.43M302.8 312.5V310.43M303.8 312.5V310.44M304.8 312.5V310.45M305.8 312.5V310.46M306.8 312.5V310.47M307.8 312.5V310.48M308.8 312.5V310.49M309.8 312.5V310.5M310.8 312.5V310.7M311.8 312.5V310.95M312.8 312.5V311.2M313.8 312.5V311.45M314.8 312.5V311.7M315.8 312.5V311.95" stroke="#a2d4ef" stroke-width="0.35" fill="none"/>
<polygon points="318,312.5 318,311.8 324,310 335,308.4 345,307.8 370,307.8 393.6,308.2 393.6,312.5" fill="#c3e5f6" />
<path d="M318 312.5V311.8M319 312.5V311.5M320 312.5V311.2M321 312.5V310.9M322 312.5V310.6M323 312.5V310.3M324 312.5V310M325 312.5V309.85M326 312.5V309.71M327 312.5V309.56M328 312.5V309.42M329 312.5V309.27M330 312.5V309.13M331 312.5V308.98M332 312.5V308.84M333 312.5V308.69M334 312.5V308.55M335 312.5V308.4M336 312.5V308.34M337 312.5V308.28M338 312.5V308.22M339 312.5V308.16M340 312.5V308.1M341 312.5V308.04M342 312.5V307.98M343 312.5V307.92M344 312.5V307.86M345 312.5V307.8M346 312.5V307.8M347 312.5V307.8M348 312.5V307.8M349 312.5V307.8M350 312.5V307.8M351 312.5V307.8M352 312.5V307.8M353 312.5V307.8M354 312.5V307.8M355 312.5V307.8M356 312.5V307.8M357 312.5V307.8M358 312.5V307.8M359 312.5V307.8M360 312.5V307.8M361 312.5V307.8M362 312.5V307.8M363 312.5V307.8M364 312.5V307.8M365 312.5V307.8M366 312.5V307.8M367 312.5V307.8M368 312.5V307.8M369 312.5V307.8M370 312.5V307.8M371 312.5V307.82M372 312.5V307.83M373 312.5V307.85M374 312.5V307.87M375 312.5V307.88M376 312.5V307.9M377 312.5V307.92M378 312.5V307.94M379 312.5V307.95M380 312.5V307.97M381 312.5V307.99M382 312.5V308M383 312.5V308.02M384 312.5V308.04M385 312.5V308.05M386 312.5V308.07M387 312.5V308.09M388 312.5V308.11M389 312.5V308.12M390 312.5V308.14M391 312.5V308.16M392 312.5V308.17M393 312.5V308.19" stroke="#a2d4ef" stroke-width="0.35" fill="none"/>
<polygon points="397,312.5 397,308.5 420,308.9 444,309.5 470,311 488,312 488,312.5" fill="#c3e5f6" />
<path d="M397 312.5V308.5M398 312.5V308.52M399 312.5V308.53M400 312.5V308.55M401 312.5V308.57M402 312.5V308.59M403 312.5V308.6M404 312.5V308.62M405 312.5V308.64M406 312.5V308.66M407 312.5V308.67M408 312.5V308.69M409 312.5V308.71M410 312.5V308.73M411 312.5V308.74M412 312.5V308.76M413 312.5V308.78M414 312.5V308.8M415 312.5V308.81M416 312.5V308.83M417 312.5V308.85M418 312.5V308.87M419 312.5V308.88M420 312.5V308.9M421 312.5V308.92M422 312.5V308.95M423 312.5V308.97M424 312.5V309M425 312.5V309.02M426 312.5V309.05M427 312.5V309.07M428 312.5V309.1M429 312.5V309.12M430 312.5V309.15M431 312.5V309.18M432 312.5V309.2M433 312.5V309.22M434 312.5V309.25M435 312.5V309.27M436 312.5V309.3M437 312.5V309.32M438 312.5V309.35M439 312.5V309.38M440 312.5V309.4M441 312.5V309.43M442 312.5V309.45M443 312.5V309.48M444 312.5V309.5M445 312.5V309.56M446 312.5V309.62M447 312.5V309.67M448 312.5V309.73M449 312.5V309.79M450 312.5V309.85M451 312.5V309.9M452 312.5V309.96M453 312.5V310.02M454 312.5V310.08M455 312.5V310.13M456 312.5V310.19M457 312.5V310.25M458 312.5V310.31M459 312.5V310.37M460 312.5V310.42M461 312.5V310.48M462 312.5V310.54M463 312.5V310.6M464 312.5V310.65M465 312.5V310.71M466 312.5V310.77M467 312.5V310.83M468 312.5V310.88M469 312.5V310.94M470 312.5V311M471 312.5V311.06M472 312.5V311.11M473 312.5V311.17M474 312.5V311.22M475 312.5V311.28M476 312.5V311.33M477 312.5V311.39M478 312.5V311.44M479 312.5V311.5M480 312.5V311.56M481 312.5V311.61M482 312.5V311.67M483 312.5V311.72M484 312.5V311.78M485 312.5V311.83M486 312.5V311.89M487 312.5V311.94M488 312.5V312" stroke="#a2d4ef" stroke-width="0.35" fill="none"/>
<line x1="33.6" x2="540.8" y1="312.5" y2="312.5" stroke="#8ecbec" stroke-width="0.9"/>
<polygon points="33.6,326.2 33.6,319.5 50,319 70,318.4 130.5,318.4 130.5,326.2" fill="#cfe3bb" />
<path d="M33.6 326.2V319.5M34.7 326.2V319.47M35.8 326.2V319.43M36.9 326.2V319.4M38 326.2V319.37M39.1 326.2V319.33M40.2 326.2V319.3M41.3 326.2V319.27M42.4 326.2V319.23M43.5 326.2V319.2M44.6 326.2V319.16M45.7 326.2V319.13M46.8 326.2V319.1M47.9 326.2V319.06M49 326.2V319.03M50.1 326.2V319M51.2 326.2V318.96M52.3 326.2V318.93M53.4 326.2V318.9M54.5 326.2V318.87M55.6 326.2V318.83M56.7 326.2V318.8M57.8 326.2V318.77M58.9 326.2V318.73M60 326.2V318.7M61.1 326.2V318.67M62.2 326.2V318.63M63.3 326.2V318.6M64.4 326.2V318.57M65.5 326.2V318.53M66.6 326.2V318.5M67.7 326.2V318.47M68.8 326.2V318.44M69.9 326.2V318.4M71 326.2V318.4M72.1 326.2V318.4M73.2 326.2V318.4M74.3 326.2V318.4M75.4 326.2V318.4M76.5 326.2V318.4M77.6 326.2V318.4M78.7 326.2V318.4M79.8 326.2V318.4M80.9 326.2V318.4M82 326.2V318.4M83.1 326.2V318.4M84.2 326.2V318.4M85.3 326.2V318.4M86.4 326.2V318.4M87.5 326.2V318.4M88.6 326.2V318.4M89.7 326.2V318.4M90.8 326.2V318.4M91.9 326.2V318.4M93 326.2V318.4M94.1 326.2V318.4M95.2 326.2V318.4M96.3 326.2V318.4M97.4 326.2V318.4M98.5 326.2V318.4M99.6 326.2V318.4M100.7 326.2V318.4M101.8 326.2V318.4M102.9 326.2V318.4M104 326.2V318.4M105.1 326.2V318.4M106.2 326.2V318.4M107.3 326.2V318.4M108.4 326.2V318.4M109.5 326.2V318.4M110.6 326.2V318.4M111.7 326.2V318.4M112.8 326.2V318.4M113.9 326.2V318.4M115 326.2V318.4M116.1 326.2V318.4M117.2 326.2V318.4M118.3 326.2V318.4M119.4 326.2V318.4M120.5 326.2V318.4M121.6 326.2V318.4M122.7 326.2V318.4M123.8 326.2V318.4M124.9 326.2V318.4M126 326.2V318.4M127.1 326.2V318.4M128.2 326.2V318.4M129.3 326.2V318.4M130.4 326.2V318.4" stroke="#b3d396" stroke-width="0.35" fill="none"/>
<polygon points="144.5,326.2 144.5,321 147.6,321 147.6,326.2" fill="#cfe3bb" />
<path d="M144.5 326.2V321M145.6 326.2V321M146.7 326.2V321" stroke="#b3d396" stroke-width="0.35" fill="none"/>
<polygon points="164.9,326.2 164.9,320 173.8,320 173.8,326.2" fill="#cfe3bb" />
<path d="M164.9 326.2V320M166 326.2V320M167.1 326.2V320M168.2 326.2V320M169.3 326.2V320M170.4 326.2V320M171.5 326.2V320M172.6 326.2V320M173.7 326.2V320" stroke="#b3d396" stroke-width="0.35" fill="none"/>
<polygon points="205,326.2 205,324.3 240,324 280,323.8 326.7,323.2 340,321.5 360,319.5 370,318.9 425.6,318.9 425.6,326.2" fill="#cfe3bb" />
<path d="M205 326.2V324.3M206.1 326.2V324.29M207.2 326.2V324.28M208.3 326.2V324.27M209.4 326.2V324.26M210.5 326.2V324.25M211.6 326.2V324.24M212.7 326.2V324.23M213.8 326.2V324.22M214.9 326.2V324.22M216 326.2V324.21M217.1 326.2V324.2M218.2 326.2V324.19M219.3 326.2V324.18M220.4 326.2V324.17M221.5 326.2V324.16M222.6 326.2V324.15M223.7 326.2V324.14M224.8 326.2V324.13M225.9 326.2V324.12M227 326.2V324.11M228.1 326.2V324.1M229.2 326.2V324.09M230.3 326.2V324.08M231.4 326.2V324.07M232.5 326.2V324.06M233.6 326.2V324.05M234.7 326.2V324.05M235.8 326.2V324.04M236.9 326.2V324.03M238 326.2V324.02M239.1 326.2V324.01M240.2 326.2V324M241.3 326.2V323.99M242.4 326.2V323.99M243.5 326.2V323.98M244.6 326.2V323.98M245.7 326.2V323.97M246.8 326.2V323.97M247.9 326.2V323.96M249 326.2V323.95M250.1 326.2V323.95M251.2 326.2V323.94M252.3 326.2V323.94M253.4 326.2V323.93M254.5 326.2V323.93M255.6 326.2V323.92M256.7 326.2V323.92M257.8 326.2V323.91M258.9 326.2V323.91M260 326.2V323.9M261.1 326.2V323.89M262.2 326.2V323.89M263.3 326.2V323.88M264.4 326.2V323.88M265.5 326.2V323.87M266.6 326.2V323.87M267.7 326.2V323.86M268.8 326.2V323.86M269.9 326.2V323.85M271 326.2V323.85M272.1 326.2V323.84M273.2 326.2V323.83M274.3 326.2V323.83M275.4 326.2V323.82M276.5 326.2V323.82M277.6 326.2V323.81M278.7 326.2V323.81M279.8 326.2V323.8M280.9 326.2V323.79M282 326.2V323.77M283.1 326.2V323.76M284.2 326.2V323.75M285.3 326.2V323.73M286.4 326.2V323.72M287.5 326.2V323.7M288.6 326.2V323.69M289.7 326.2V323.68M290.8 326.2V323.66M291.9 326.2V323.65M293 326.2V323.63M294.1 326.2V323.62M295.2 326.2V323.6M296.3 326.2V323.59M297.4 326.2V323.58M298.5 326.2V323.56M299.6 326.2V323.55M300.7 326.2V323.53M301.8 326.2V323.52M302.9 326.2V323.51M304 326.2V323.49M305.1 326.2V323.48M306.2 326.2V323.46M307.3 326.2V323.45M308.4 326.2V323.44M309.5 326.2V323.42M310.6 326.2V323.41M311.7 326.2V323.39M312.8 326.2V323.38M313.9 326.2V323.36M315 326.2V323.35M316.1 326.2V323.34M317.2 326.2V323.32M318.3 326.2V323.31M319.4 326.2V323.29M320.5 326.2V323.28M321.6 326.2V323.27M322.7 326.2V323.25M323.8 326.2V323.24M324.9 326.2V323.22M326 326.2V323.21M327.1 326.2V323.15M328.2 326.2V323.01M329.3 326.2V322.87M330.4 326.2V322.73M331.5 326.2V322.59M332.6 326.2V322.45M333.7 326.2V322.31M334.8 326.2V322.16M335.9 326.2V322.02M337 326.2V321.88M338.1 326.2V321.74M339.2 326.2V321.6M340.3 326.2V321.47M341.4 326.2V321.36M342.5 326.2V321.25M343.6 326.2V321.14M344.7 326.2V321.03M345.8 326.2V320.92M346.9 326.2V320.81M348 326.2V320.7M349.1 326.2V320.59M350.2 326.2V320.48M351.3 326.2V320.37M352.4 326.2V320.26M353.5 326.2V320.15M354.6 326.2V320.04M355.7 326.2V319.93M356.8 326.2V319.82M357.9 326.2V319.71M359 326.2V319.6M360.1 326.2V319.49M361.2 326.2V319.43M362.3 326.2V319.36M363.4 326.2V319.3M364.5 326.2V319.23M365.6 326.2V319.16M366.7 326.2V319.1M367.8 326.2V319.03M368.9 326.2V318.97M370 326.2V318.9M371.1 326.2V318.9M372.2 326.2V318.9M373.3 326.2V318.9M374.4 326.2V318.9M375.5 326.2V318.9M376.6 326.2V318.9M377.7 326.2V318.9M378.8 326.2V318.9M379.9 326.2V318.9M381 326.2V318.9M382.1 326.2V318.9M383.2 326.2V318.9M384.3 326.2V318.9M385.4 326.2V318.9M386.5 326.2V318.9M387.6 326.2V318.9M388.7 326.2V318.9M389.8 326.2V318.9M390.9 326.2V318.9M392 326.2V318.9M393.1 326.2V318.9M394.2 326.2V318.9M395.3 326.2V318.9M396.4 326.2V318.9M397.5 326.2V318.9M398.6 326.2V318.9M399.7 326.2V318.9M400.8 326.2V318.9M401.9 326.2V318.9M403 326.2V318.9M404.1 326.2V318.9M405.2 326.2V318.9M406.3 326.2V318.9M407.4 326.2V318.9M408.5 326.2V318.9M409.6 326.2V318.9M410.7 326.2V318.9M411.8 326.2V318.9M412.9 326.2V318.9M414 326.2V318.9M415.1 326.2V318.9M416.2 326.2V318.9M417.3 326.2V318.9M418.4 326.2V318.9M419.5 326.2V318.9M420.6 326.2V318.9M421.7 326.2V318.9M422.8 326.2V318.9M423.9 326.2V318.9M425 326.2V318.9" stroke="#b3d396" stroke-width="0.35" fill="none"/>
<polygon points="433.3,326.2 433.3,320.5 436.7,320.5 436.7,326.2" fill="#cfe3bb" />
<path d="M433.3 326.2V320.5M434.4 326.2V320.5M435.5 326.2V320.5M436.6 326.2V320.5" stroke="#b3d396" stroke-width="0.35" fill="none"/>
<path d="M187.8 326.2V322M196.7 326.2V322" stroke="#a8cc88" stroke-width="0.6" fill="none"/>
<line x1="33.6" x2="540.8" y1="326.2" y2="326.2" stroke="#a6cc84" stroke-width="0.9"/>
<path d="M34.2 339V333.63M36.4 339V333.6M43 339V333.5M45.3 339V333.46M47.6 339V333.43M49.9 339V333.39M52.2 339V333.36M54.5 339V333.32M56.8 339V333.29M59.1 339V333.25M61.4 339V333.22M63.7 339V333.18M66 339V333.15M68.3 339V333.11M70.6 339V333.08M72.9 339V333.04M75.2 339V333.01M77.5 339V332.97M79.8 339V332.94M82.1 339V332.9M84.4 339V332.87M86.7 339V332.83M89 339V332.8M91.3 339V332.76M93.6 339V332.72M95.9 339V332.69M98.2 339V332.65M100.5 339V332.62M102.8 339V332.58M105.1 339V332.55M107.4 339V332.51M109.7 339V332.48M112 339V332.44M114.3 339V332.41M116.6 339V332.37M118.9 339V332.34M121.2 339V332.3M123.5 339V332.27M125.8 339V332.23M128.1 339V332.2M130.4 339V332.16M132.7 339V332.13M135 339V332.09M137.3 339V332.06M139.6 339V332.02M141.9 339V331.98M144.2 339V331.95M146.5 339V331.91M148.8 339V331.88M151.1 339V331.84M153.4 339V331.81M155.7 339V331.77M158 339V331.74M160.3 339V331.7M162.6 339V331.67M164.9 339V331.63" stroke="#a866c8" stroke-width="0.55" fill="none"/>
<path d="M169 339V335M171.4 339V335M173.8 339V335M176.2 339V335M178.6 339V335M181 339V335M183.4 339V335M185.8 339V335M188.2 339V335M190.6 339V335M193 339V335M195.4 339V335M197.8 339V335" stroke="#a866c8" stroke-width="0.5" fill="none"/>
<path d="M202 339V336M204.4 339V336M206.8 339V336M209.2 339V336M211.6 339V336M214 339V336M216.4 339V336M218.8 339V336M221.2 339V336M223.6 339V336M226 339V336" stroke="#a866c8" stroke-width="0.5" fill="none"/>
<path d="M232 339V335.7M234.6 339V335.7M237.2 339V335.7M239.8 339V335.7M242.4 339V335.7M245 339V335.7M247.6 339V335.7M250.2 339V335.7M252.8 339V335.7M255.4 339V335.7M258 339V335.7M260.6 339V335.7M263.2 339V335.7M265.8 339V335.7M268.4 339V335.7" stroke="#a866c8" stroke-width="0.5" fill="none"/>
<path d="M280 339V337.5M286 339V337.5M292 339V337.5M298 339V337.5M304 339V337.5M310 339V337.5M316 339V337.5" stroke="#a866c8" stroke-width="0.45" fill="none"/>
<path d="M325.4 339V331M327.8 339V331M330.2 339V331M332.6 339V331M335 339V331M337.4 339V331M339.8 339V331M342.2 339V331M344.6 339V331M347 339V331M349.4 339V331M351.8 339V331" stroke="#a866c8" stroke-width="0.55" fill="none"/>
<path d="M362.4 339V333" stroke="#a866c8" stroke-width="0.55" fill="none"/>
<polygon points="375,339 375,333.5 385,331.8 460,331.6 475,333 489.5,335.5 489.5,339" fill="#e6d4ef" />
<path d="M375 339.0V333.5M376.25 339.0V333.29M377.5 339.0V333.07M378.75 339.0V332.86M380 339.0V332.65M381.25 339.0V332.44M382.5 339.0V332.23M383.75 339.0V332.01M385 339.0V331.8M386.25 339.0V331.8M387.5 339.0V331.79M388.75 339.0V331.79M390 339.0V331.79M391.25 339.0V331.78M392.5 339.0V331.78M393.75 339.0V331.78M395 339.0V331.77M396.25 339.0V331.77M397.5 339.0V331.77M398.75 339.0V331.76M400 339.0V331.76M401.25 339.0V331.76M402.5 339.0V331.75M403.75 339.0V331.75M405 339.0V331.75M406.25 339.0V331.74M407.5 339.0V331.74M408.75 339.0V331.74M410 339.0V331.73M411.25 339.0V331.73M412.5 339.0V331.73M413.75 339.0V331.72M415 339.0V331.72M416.25 339.0V331.72M417.5 339.0V331.71M418.75 339.0V331.71M420 339.0V331.71M421.25 339.0V331.7M422.5 339.0V331.7M423.75 339.0V331.7M425 339.0V331.69M426.25 339.0V331.69M427.5 339.0V331.69M428.75 339.0V331.68M430 339.0V331.68M431.25 339.0V331.68M432.5 339.0V331.67M433.75 339.0V331.67M435 339.0V331.67M436.25 339.0V331.66M437.5 339.0V331.66M438.75 339.0V331.66M440 339.0V331.65M441.25 339.0V331.65M442.5 339.0V331.65M443.75 339.0V331.64M445 339.0V331.64M446.25 339.0V331.64M447.5 339.0V331.63M448.75 339.0V331.63M450 339.0V331.63M451.25 339.0V331.62M452.5 339.0V331.62M453.75 339.0V331.62M455 339.0V331.61M456.25 339.0V331.61M457.5 339.0V331.61M458.75 339.0V331.6M460 339.0V331.6M461.25 339.0V331.72M462.5 339.0V331.83M463.75 339.0V331.95M465 339.0V332.07M466.25 339.0V332.18M467.5 339.0V332.3M468.75 339.0V332.42M470 339.0V332.53M471.25 339.0V332.65M472.5 339.0V332.77M473.75 339.0V332.88M475 339.0V333M476.25 339.0V333.22M477.5 339.0V333.43M478.75 339.0V333.65M480 339.0V333.86M481.25 339.0V334.08M482.5 339.0V334.29M483.75 339.0V334.51M485 339.0V334.72M486.25 339.0V334.94M487.5 339.0V335.16M488.75 339.0V335.37" stroke="#b27ed2" stroke-width="0.45" fill="none"/>
<polygon points="495,339 495,336.5 505,335 530,335 540,335.6 540,339" fill="#e6d4ef" />
<path d="M495 339.0V336.5M496.25 339.0V336.31M497.5 339.0V336.12M498.75 339.0V335.94M500 339.0V335.75M501.25 339.0V335.56M502.5 339.0V335.38M503.75 339.0V335.19M505 339.0V335M506.25 339.0V335M507.5 339.0V335M508.75 339.0V335M510 339.0V335M511.25 339.0V335M512.5 339.0V335M513.75 339.0V335M515 339.0V335M516.25 339.0V335M517.5 339.0V335M518.75 339.0V335M520 339.0V335M521.25 339.0V335M522.5 339.0V335M523.75 339.0V335M525 339.0V335M526.25 339.0V335M527.5 339.0V335M528.75 339.0V335M530 339.0V335M531.25 339.0V335.07M532.5 339.0V335.15M533.75 339.0V335.23M535 339.0V335.3M536.25 339.0V335.38M537.5 339.0V335.45M538.75 339.0V335.53M540 339.0V335.6" stroke="#b27ed2" stroke-width="0.45" fill="none"/>
<line x1="33.6" x2="540.8" y1="339.0" y2="339.0" stroke="#a462c4" stroke-width="0.9"/>
<path d="M35 352.3V347.3M37.2 352.3V347.3M39.4 352.3V347.3M41.6 352.3V347.3M43.8 352.3V347.3M46 352.3V347.3M48.2 352.3V347.3M50.4 352.3V347.3M52.6 352.3V347.3M54.8 352.3V347.3M57 352.3V347.3M59.2 352.3V347.3M61.4 352.3V347.3M63.6 352.3V347.3M65.8 352.3V347.3M68 352.3V347.3" stroke="#f3c35a" stroke-width="0.55" fill="none"/>
<path d="M154.2 352.3V345.6M158.1 352.3V345.6M162 352.3V345.6M165.9 352.3V345.6M169.8 352.3V345.6M173.7 352.3V345.6" stroke="#f3c35a" stroke-width="0.55" fill="none"/>
<path d="M259 352.3V349.5M266 352.3V349.5M281 352.3V349.5M289 352.3V349.5M296 352.3V349.5M301 352.3V349.5M311 352.3V349.5M318 352.3V349.5M322 352.3V349.5M329 352.3V349.5" stroke="#f5cf7a" stroke-width="0.5" fill="none"/>
<path d="M334.7 352.3V345.5M337.7 352.3V345.5M340.7 352.3V345.5M343.7 352.3V345.5M346.7 352.3V345.5M349.7 352.3V345.5M352.7 352.3V345.5M355.7 352.3V345.5M358.7 352.3V345.5M361.7 352.3V345.5M364.7 352.3V345.5M367.7 352.3V345.5M370.7 352.3V345.5M373.7 352.3V345.5M376.7 352.3V345.5M379.7 352.3V345.5M382.7 352.3V345.5M385.7 352.3V345.5M388.7 352.3V345.5M391.7 352.3V345.5M394.7 352.3V345.5M397.7 352.3V345.5M400.7 352.3V345.5M403.7 352.3V345.5M406.7 352.3V345.5M409.7 352.3V345.5M412.7 352.3V345.5M415.7 352.3V345.5M418.7 352.3V345.5M421.7 352.3V345.5M424.7 352.3V345.5M427.7 352.3V345.5M430.7 352.3V345.5M433.7 352.3V345.5M436.7 352.3V345.5M439.7 352.3V345.5M442.7 352.3V345.5M445.7 352.3V345.5M448.7 352.3V345.5M451.7 352.3V345.5M454.7 352.3V345.5M457.7 352.3V345.5M460.7 352.3V345.5M463.7 352.3V345.5M466.7 352.3V345.5M469.7 352.3V345.5M472.7 352.3V345.5M475.7 352.3V345.5M478.7 352.3V345.5M481.7 352.3V345.74M484.7 352.3V346M487.7 352.3V346.26M490.7 352.3V346.53M493.7 352.3V346.79M496.7 352.3V347.05M499.7 352.3V347.32M502.7 352.3V347.58M505.7 352.3V347.84M508.7 352.3V348.11M511.7 352.3V348.37M514.7 352.3V348.63M517.7 352.3V348.89M520.7 352.3V349.16M523.7 352.3V349.42M526.7 352.3V349.68M529.7 352.3V349.95M532.7 352.3V350.21M535.7 352.3V350.47" stroke="#f3c35a" stroke-width="0.55" fill="none"/>
<line x1="33.6" x2="540.8" y1="352.3" y2="352.3" stroke="#f4c462" stroke-width="0.9"/>
<path d="M38.4 365.5V357.5M43.43 365.5V357.5M48.42 365.5V357.5M53.37 365.5V357.5M58.27 365.5V357.5M63.13 365.5V357.5M67.94 365.5V357.5M72.72 365.5V357.5M77.45 365.5V357.5M82.14 365.5V357.5M86.79 365.5V357.5M91.39 365.5V357.5M95.96 365.5V357.5M100.48 365.5V357.5M104.96 365.5V357.5M109.41 365.5V357.5M113.81 365.5V357.5M118.18 365.5V357.5M122.5 365.5V357.5M126.79 365.5V357.5M131.04 365.5V357.5M135.25 365.5V357.5M139.43 365.5V357.5M143.57 365.5V357.5M147.67 365.5V357.5M151.74 365.5V357.5M155.77 365.5V357.5M159.77 365.5V357.5M163.74 365.5V357.5M167.67 365.5V357.5M171.56 365.5V357.5M175.86 365.5V357.5M180.18 365.5V357.5M184.52 365.5V357.5M188.88 365.5V357.5M193.26 365.5V357.5M197.66 365.5V357.5M202.08 365.5V357.5M206.52 365.5V357.5M210.99 365.5V357.5M215.48 365.5V357.5M219.99 365.5V357.5M224.53 365.5V357.5M229.09 365.5V357.5M233.68 365.5V357.5M238.28 365.5V357.5M242.92 365.5V357.5M247.58 365.5V357.5M252.26 365.5V357.5M256.97 365.5V357.5M261.71 365.5V357.5M266.47 365.5V357.5M271.26 365.5V357.5M276.08 365.5V357.5M280.93 365.5V357.5M285.81 365.5V357.5M290.71 365.5V357.5M295.65 365.5V357.5M300.62 365.5V357.5M305.61 365.5V357.5M310.64 365.5V357.5M315.7 365.5V357.5M320.96 365.5V357.5M326.23 365.5V357.5M331.51 365.5V357.5M336.81 365.5V357.5M342.12 365.5V357.5M347.44 365.5V357.5M352.78 365.5V357.5M358.14 365.5V357.5M363.5 365.5V357.5M368.89 365.5V357.5M374.29 365.5V357.5M379.7 365.5V357.5M385.13 365.5V357.5M390.57 365.5V357.5M396.03 365.5V357.5M401.5 365.5V357.5M406.99 365.5V357.5M412.5 365.5V357.5M418.02 365.5V357.5M423.55 365.5V357.5M429.11 365.5V357.5M434.68 365.5V357.5M440.26 365.5V357.5M445.86 365.5V357.5M451.48 365.5V357.5M457.12 365.5V357.5M462.77 365.5V357.5M468.44 365.5V357.5M474.13 365.5V357.5M479.83 365.5V357.5M485.56 365.5V357.5M491.3 365.5V357.64M497.06 365.5V358.28M502.83 365.5V358.93M508.63 365.5V359.57M514.44 365.5V360.22M520.27 365.5V360.86M526.12 365.5V361.51M531.99 365.5V362.17" stroke="#f08a66" stroke-width="0.6" fill="none"/>
<line x1="33.6" x2="540.8" y1="365.5" y2="365.5" stroke="#f08a66" stroke-width="0.9"/>
<line x1="33.6" x2="540.8" y1="378.7" y2="378.7" stroke="#a6cff0" stroke-width="1.6"/>
<path d="M285.3 378.7V372" stroke="#5ea0e0" stroke-width="0.7" fill="none"/>
<path d="M417.5 378.7V372M423.2 378.7V372M428.9 378.7V372M434.6 378.7V372M440.3 378.7V372M446 378.7V372M451.7 378.7V372M457.4 378.7V372M463.1 378.7V372M468.8 378.7V372M474.5 378.7V372M480.2 378.7V372M485.9 378.7V372M491.6 378.7V372.17M497.3 378.7V372.79M503 378.7V373.41M508.7 378.7V374.03M514.4 378.7V374.65M520.1 378.7V375.27M525.8 378.7V375.89M531.5 378.7V376.51" stroke="#5ea0e0" stroke-width="0.6" fill="none"/>
<line x1="146" x2="166.8" y1="368.5" y2="368.5" stroke="#111" stroke-width="0.8"/>
<text x="156" y="374.6" font-size="5.7" text-anchor="middle" fill="#1b1b3a" font-weight="bold" textLength="14.6" lengthAdjust="spacingAndGlyphs">17.29</text>
<line x1="372" x2="401.2" y1="367.9" y2="367.9" stroke="#111" stroke-width="0.8"/>
<text x="386.6" y="374" font-size="5.7" text-anchor="middle" fill="#1b1b3a" font-weight="bold" textLength="14.6" lengthAdjust="spacingAndGlyphs">24.50</text>
</svg>
</body></html>
